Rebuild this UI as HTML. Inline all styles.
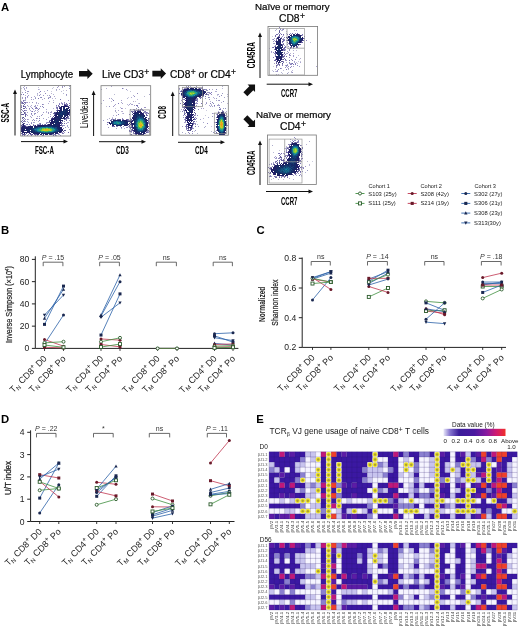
<!DOCTYPE html>
<html><head><meta charset="utf-8"><style>
html,body{margin:0;padding:0;background:#fff;width:520px;height:628px;overflow:hidden}
svg{will-change:transform}
.hv{stroke:#111;stroke-width:0.22px}
svg text{font-family:"Liberation Sans",sans-serif}
</style></head><body>
<svg width="520" height="628" viewBox="0 0 520 628" style="display:block" font-family='"Liberation Sans", sans-serif'>
<rect width="520" height="628" fill="#fff"/>
<text x="1.00" y="11.00" font-size="11.3" text-anchor="start" font-weight="bold" >A</text>
<text x="20.70" y="77.60" font-size="10.2" text-anchor="start" textLength="52.4" lengthAdjust="spacingAndGlyphs" class="hv">Lymphocyte</text>
<polygon points="-6.85,-2.80 1.55,-2.80 1.55,-5.30 6.85,0.00 1.55,5.30 1.55,2.80 -6.85,2.80" fill="#111" transform="translate(85.85,73.7) rotate(0)"/>
<text class="hv" x="102" y="77.6" font-size="10.2" >Live CD3<tspan font-size="8.5" dx="0.3" dy="-2.8">+</tspan></text>
<polygon points="-6.85,-2.80 1.55,-2.80 1.55,-5.30 6.85,0.00 1.55,5.30 1.55,2.80 -6.85,2.80" fill="#111" transform="translate(159.2,73.6) rotate(0)"/>
<text class="hv" x="170" y="77.6" font-size="10.2">CD8<tspan font-size="8.5" dx="0.3" dy="-2.8">+</tspan><tspan dy="2.8"> or CD4</tspan><tspan font-size="8.5" dx="0.3" dy="-2.8">+</tspan></text>
<text x="255.00" y="9.80" font-size="9.9" text-anchor="start" textLength="74.6" lengthAdjust="spacingAndGlyphs" class="hv">Naïve or memory</text>
<text class="hv" x="279" y="21.5" font-size="10.3">CD8<tspan font-size="8.5" dx="0.4" dy="-2.8">+</tspan></text>
<text x="256.00" y="117.80" font-size="9.9" text-anchor="start" textLength="75" lengthAdjust="spacingAndGlyphs" class="hv">Naïve or memory</text>
<text class="hv" x="280" y="129.6" font-size="10.3">CD4<tspan font-size="8.5" dx="0.4" dy="-2.8">+</tspan></text>
<polygon points="-6.85,-2.80 1.55,-2.80 1.55,-5.30 6.85,0.00 1.55,5.30 1.55,2.80 -6.85,2.80" fill="#111" transform="translate(250.2,89.4) rotate(-45)"/>
<polygon points="-6.85,-2.80 1.55,-2.80 1.55,-5.30 6.85,0.00 1.55,5.30 1.55,2.80 -6.85,2.80" fill="#111" transform="translate(250.2,122.1) rotate(45)"/>
<path fill="#8282b4" d="M24.2 86.0h0.8v0.8h-0.8zM64.2 86.1h0.8v0.8h-0.8zM69.2 88.1h0.8v0.8h-0.8zM56.0 90.0h0.8v0.8h-0.8zM27.1 91.1h0.8v0.8h-0.8zM63.2 93.2h0.8v0.8h-0.8zM53.0 94.0h0.8v0.8h-0.8zM25.2 95.0h0.8v0.8h-0.8zM49.1 95.1h0.8v0.8h-0.8zM50.1 97.1h0.8v0.8h-0.8zM55.1 98.0h0.8v0.8h-0.8zM53.1 100.0h0.8v0.8h-0.8zM32.1 102.1h0.8v0.8h-0.8zM36.2 103.0h0.8v0.8h-0.8zM39.1 108.1h0.8v0.8h-0.8zM46.0 111.0h0.8v0.8h-0.8zM50.2 112.1h0.8v0.8h-0.8zM34.1 113.1h0.8v0.8h-0.8zM31.1 117.1h0.8v0.8h-0.8zM33.1 119.1h0.8v0.8h-0.8zM32.1 120.1h0.8v0.8h-0.8zM60.1 135.1h0.8v0.8h-0.8z"/>
<path fill="#8c82b4" d="M58.1 86.1h0.8v0.8h-0.8zM26.1 87.1h0.8v0.8h-0.8zM66.1 90.0h0.8v0.8h-0.8zM51.0 93.2h0.8v0.8h-0.8zM31.1 97.1h0.8v0.8h-0.8zM44.1 98.1h0.8v0.8h-0.8zM27.1 102.1h0.8v0.8h-0.8zM53.2 102.1h0.8v0.8h-0.8zM56.1 106.0h0.8v0.8h-0.8zM46.2 112.0h0.8v0.8h-0.8zM27.2 115.1h0.8v0.8h-0.8zM38.1 121.0h0.8v0.8h-0.8z"/>
<path fill="#8278b4" d="M62.2 86.1h0.8v0.8h-0.8zM62.1 87.1h0.8v0.8h-0.8zM59.1 89.2h0.8v0.8h-0.8zM28.1 91.1h0.8v0.8h-0.8zM66.1 94.1h0.8v0.8h-0.8zM43.0 95.1h0.8v0.8h-0.8zM68.1 100.1h0.8v0.8h-0.8zM29.2 102.0h0.8v0.8h-0.8zM38.0 103.2h0.8v0.8h-0.8zM48.1 103.0h0.8v0.8h-0.8zM30.1 106.0h0.8v0.8h-0.8zM26.1 110.1h0.8v0.8h-0.8zM51.0 111.0h0.8v0.8h-0.8zM48.0 112.1h0.8v0.8h-0.8zM69.1 118.0h0.8v0.8h-0.8zM27.2 119.1h0.8v0.8h-0.8zM28.1 119.0h0.8v0.8h-0.8zM46.0 119.1h0.8v0.8h-0.8zM67.2 122.0h0.8v0.8h-0.8z"/>
<path fill="#7878b4" d="M69.1 86.0h0.8v0.8h-0.8zM37.0 93.2h0.8v0.8h-0.8zM40.0 97.1h0.8v0.8h-0.8zM35.1 98.1h0.8v0.8h-0.8zM33.0 99.2h0.8v0.8h-0.8zM31.1 105.2h0.8v0.8h-0.8zM40.0 106.1h0.8v0.8h-0.8zM33.1 109.0h0.8v0.8h-0.8zM30.2 110.2h0.8v0.8h-0.8zM32.1 115.1h0.8v0.8h-0.8zM41.1 115.1h0.8v0.8h-0.8zM63.0 125.1h0.8v0.8h-0.8z"/>
<path fill="#6e64aa" d="M23.2 87.0h0.8v0.8h-0.8zM25.2 90.2h0.8v0.8h-0.8zM22.1 92.2h0.8v0.8h-0.8zM27.1 93.2h0.8v0.8h-0.8zM21.1 94.1h0.8v0.8h-0.8zM25.0 97.1h0.8v0.8h-0.8zM22.0 98.0h0.8v0.8h-0.8zM31.2 99.2h0.8v0.8h-0.8zM36.1 102.0h0.8v0.8h-0.8zM61.1 102.0h0.8v0.8h-0.8zM64.1 102.1h0.8v0.8h-0.8zM21.2 103.2h0.8v0.8h-0.8zM59.0 103.1h0.8v0.8h-0.8zM42.2 104.1h0.8v0.8h-0.8zM43.0 104.0h0.8v0.8h-0.8zM43.1 107.1h0.8v0.8h-0.8zM29.2 108.1h0.8v0.8h-0.8zM56.1 108.0h0.8v0.8h-0.8zM27.1 112.2h0.8v0.8h-0.8zM48.0 113.0h0.8v0.8h-0.8zM42.1 114.2h0.8v0.8h-0.8zM30.2 116.2h0.8v0.8h-0.8zM37.2 116.0h0.8v0.8h-0.8zM39.1 118.1h0.8v0.8h-0.8zM27.2 121.0h0.8v0.8h-0.8zM34.2 122.2h0.8v0.8h-0.8zM46.2 122.2h0.8v0.8h-0.8zM63.1 133.1h0.8v0.8h-0.8z"/>
<path fill="#a0a0c8" d="M38.1 87.0h0.8v0.8h-0.8zM21.1 88.2h0.8v0.8h-0.8zM47.1 95.1h0.8v0.8h-0.8zM53.1 108.1h0.8v0.8h-0.8zM37.1 110.1h0.8v0.8h-0.8z"/>
<path fill="#aaaac8" d="M53.0 87.2h0.8v0.8h-0.8zM63.1 90.2h0.8v0.8h-0.8zM51.0 91.2h0.8v0.8h-0.8zM61.2 91.1h0.8v0.8h-0.8z"/>
<path fill="#5a50a0" d="M57.1 87.0h0.8v0.8h-0.8zM23.2 94.1h0.8v0.8h-0.8zM38.0 98.1h0.8v0.8h-0.8zM60.0 99.1h0.8v0.8h-0.8zM23.1 100.1h0.8v0.8h-0.8zM25.1 102.1h0.8v0.8h-0.8zM64.1 103.0h0.8v0.8h-0.8zM21.0 105.0h0.8v0.8h-0.8zM35.0 105.2h0.8v0.8h-0.8zM21.0 106.2h0.8v0.8h-0.8zM34.2 106.0h0.8v0.8h-0.8zM56.1 107.1h0.8v0.8h-0.8zM32.2 108.1h0.8v0.8h-0.8zM38.0 109.1h0.8v0.8h-0.8zM25.0 110.2h0.8v0.8h-0.8zM32.2 111.1h0.8v0.8h-0.8zM21.1 112.1h0.8v0.8h-0.8zM49.2 120.2h0.8v0.8h-0.8zM27.0 124.1h0.8v0.8h-0.8zM42.0 124.1h0.8v0.8h-0.8zM65.1 127.0h0.8v0.8h-0.8zM69.1 129.0h0.8v0.8h-0.8zM64.1 132.0h0.8v0.8h-0.8zM62.1 133.1h0.8v0.8h-0.8zM25.1 134.1h0.8v0.8h-0.8zM59.1 134.2h0.8v0.8h-0.8zM37.2 135.0h0.8v0.8h-0.8zM55.2 135.1h0.8v0.8h-0.8z"/>
<path fill="#645aaa" d="M24.1 88.0h0.8v0.8h-0.8zM40.1 91.1h0.8v0.8h-0.8zM28.1 95.0h0.8v0.8h-0.8zM22.2 97.0h0.8v0.8h-0.8zM21.2 101.2h0.8v0.8h-0.8zM23.0 101.0h0.8v0.8h-0.8zM61.1 103.2h0.8v0.8h-0.8zM59.1 104.1h0.8v0.8h-0.8zM56.1 105.1h0.8v0.8h-0.8zM24.1 106.1h0.8v0.8h-0.8zM31.1 107.0h0.8v0.8h-0.8zM26.2 108.0h0.8v0.8h-0.8zM35.1 108.1h0.8v0.8h-0.8zM43.1 112.2h0.8v0.8h-0.8zM51.0 112.0h0.8v0.8h-0.8zM31.0 113.1h0.8v0.8h-0.8zM31.0 114.2h0.8v0.8h-0.8zM50.1 114.2h0.8v0.8h-0.8zM50.1 116.0h0.8v0.8h-0.8zM36.1 118.1h0.8v0.8h-0.8zM31.2 122.0h0.8v0.8h-0.8zM26.1 124.2h0.8v0.8h-0.8zM27.1 135.1h0.8v0.8h-0.8z"/>
<path fill="#8c8cbe" d="M26.1 88.2h0.8v0.8h-0.8zM47.1 90.1h0.8v0.8h-0.8zM37.0 95.0h0.8v0.8h-0.8zM25.1 99.2h0.8v0.8h-0.8zM28.0 106.0h0.8v0.8h-0.8zM35.1 110.1h0.8v0.8h-0.8zM34.0 114.1h0.8v0.8h-0.8zM39.1 116.1h0.8v0.8h-0.8zM48.2 117.2h0.8v0.8h-0.8zM43.0 118.1h0.8v0.8h-0.8zM33.1 122.1h0.8v0.8h-0.8zM64.2 125.1h0.8v0.8h-0.8zM67.0 125.1h0.8v0.8h-0.8z"/>
<path fill="#9696be" d="M52.2 88.2h0.8v0.8h-0.8zM35.1 106.1h0.8v0.8h-0.8zM35.1 107.2h0.8v0.8h-0.8zM68.1 122.1h0.8v0.8h-0.8zM67.2 126.1h0.8v0.8h-0.8zM68.2 127.1h0.8v0.8h-0.8z"/>
<path fill="#786eb4" d="M24.1 89.0h0.8v0.8h-0.8zM38.1 89.2h0.8v0.8h-0.8zM39.1 92.2h0.8v0.8h-0.8zM27.0 96.1h0.8v0.8h-0.8zM34.2 96.2h0.8v0.8h-0.8zM27.2 97.0h0.8v0.8h-0.8zM25.0 98.1h0.8v0.8h-0.8zM42.1 99.0h0.8v0.8h-0.8zM49.1 101.0h0.8v0.8h-0.8zM26.2 102.0h0.8v0.8h-0.8zM37.1 105.0h0.8v0.8h-0.8zM36.2 108.1h0.8v0.8h-0.8zM37.0 108.1h0.8v0.8h-0.8zM46.1 109.2h0.8v0.8h-0.8zM31.2 111.2h0.8v0.8h-0.8zM34.1 111.2h0.8v0.8h-0.8zM35.2 113.1h0.8v0.8h-0.8zM26.1 114.1h0.8v0.8h-0.8zM25.1 119.1h0.8v0.8h-0.8zM34.1 120.1h0.8v0.8h-0.8zM66.1 123.1h0.8v0.8h-0.8zM29.0 124.1h0.8v0.8h-0.8z"/>
<path fill="#a0a0be" d="M39.1 89.0h0.8v0.8h-0.8zM37.1 94.2h0.8v0.8h-0.8z"/>
<path fill="#968cbe" d="M56.0 89.1h0.8v0.8h-0.8zM44.0 91.0h0.8v0.8h-0.8zM40.1 94.1h0.8v0.8h-0.8zM54.0 96.1h0.8v0.8h-0.8zM48.1 97.2h0.8v0.8h-0.8zM49.1 97.1h0.8v0.8h-0.8zM29.1 109.2h0.8v0.8h-0.8zM38.1 111.2h0.8v0.8h-0.8z"/>
<path fill="#6e6eaa" d="M25.1 92.1h0.8v0.8h-0.8zM66.1 95.2h0.8v0.8h-0.8zM35.0 97.0h0.8v0.8h-0.8zM24.1 100.2h0.8v0.8h-0.8zM25.1 100.2h0.8v0.8h-0.8zM42.0 106.1h0.8v0.8h-0.8zM37.1 118.2h0.8v0.8h-0.8zM28.0 122.2h0.8v0.8h-0.8z"/>
<path fill="#786eaa" d="M45.0 93.1h0.8v0.8h-0.8zM39.0 95.1h0.8v0.8h-0.8zM50.1 96.1h0.8v0.8h-0.8zM37.1 112.0h0.8v0.8h-0.8zM56.2 135.2h0.8v0.8h-0.8z"/>
<path fill="#6464aa" d="M41.0 97.1h0.8v0.8h-0.8zM48.2 98.1h0.8v0.8h-0.8zM39.0 120.1h0.8v0.8h-0.8zM31.1 123.1h0.8v0.8h-0.8z"/>
<path fill="#8c82be" d="M52.1 98.2h0.8v0.8h-0.8zM27.1 105.1h0.8v0.8h-0.8zM36.2 120.0h0.8v0.8h-0.8zM69.1 120.1h0.8v0.8h-0.8z"/>
<path fill="#504696" d="M21.2 102.0h0.8v0.8h-0.8zM24.2 102.1h0.8v0.8h-0.8zM22.1 103.1h0.8v0.8h-0.8zM25.1 103.2h0.8v0.8h-0.8zM66.1 103.1h0.8v0.8h-0.8zM69.1 103.2h0.8v0.8h-0.8zM24.1 104.1h0.8v0.8h-0.8zM67.0 104.1h0.8v0.8h-0.8zM58.1 105.1h0.8v0.8h-0.8zM21.1 107.1h0.8v0.8h-0.8zM25.1 107.1h0.8v0.8h-0.8zM36.1 107.1h0.8v0.8h-0.8zM57.1 107.1h0.8v0.8h-0.8zM22.0 110.0h0.8v0.8h-0.8zM25.1 112.0h0.8v0.8h-0.8zM25.1 113.0h0.8v0.8h-0.8zM53.2 113.1h0.8v0.8h-0.8zM69.1 115.1h0.8v0.8h-0.8zM22.1 118.1h0.8v0.8h-0.8zM66.1 118.1h0.8v0.8h-0.8zM66.1 120.1h0.8v0.8h-0.8zM25.1 121.2h0.8v0.8h-0.8zM48.2 122.2h0.8v0.8h-0.8zM39.1 123.2h0.8v0.8h-0.8zM38.1 124.2h0.8v0.8h-0.8zM39.1 124.2h0.8v0.8h-0.8zM62.2 132.0h0.8v0.8h-0.8zM22.0 134.1h0.8v0.8h-0.8zM31.1 134.1h0.8v0.8h-0.8zM55.2 134.1h0.8v0.8h-0.8zM58.1 134.2h0.8v0.8h-0.8zM31.2 135.1h0.8v0.8h-0.8zM35.2 135.0h0.8v0.8h-0.8z"/>
<path fill="#3c3282" d="M22.2 102.1h0.8v0.8h-0.8zM66.1 104.0h0.8v0.8h-0.8zM64.0 105.0h1.0v1.0h-1.0zM59.1 107.1h0.8v0.8h-0.8zM24.0 110.1h0.8v0.8h-0.8zM56.1 110.0h0.8v0.8h-0.8zM23.0 111.1h0.8v0.8h-0.8zM24.1 112.1h0.8v0.8h-0.8zM22.2 114.1h0.8v0.8h-0.8zM23.2 114.1h0.8v0.8h-0.8zM50.1 120.1h0.8v0.8h-0.8zM24.1 121.0h0.8v0.8h-0.8zM22.1 122.1h0.8v0.8h-0.8zM40.2 124.1h0.8v0.8h-0.8zM44.0 124.2h0.8v0.8h-0.8zM45.2 124.1h0.8v0.8h-0.8zM24.0 125.0h1.0v1.0h-1.0zM37.0 125.0h1.0v1.0h-1.0zM62.0 125.0h0.8v0.8h-0.8zM21.1 133.1h0.8v0.8h-0.8zM35.1 134.1h0.8v0.8h-0.8zM53.1 134.2h0.8v0.8h-0.8z"/>
<path fill="#3c3c82" d="M23.1 103.1h0.8v0.8h-0.8zM25.2 106.2h0.8v0.8h-0.8zM23.1 108.1h0.8v0.8h-0.8zM24.1 113.1h0.8v0.8h-0.8zM21.2 114.1h0.8v0.8h-0.8zM67.0 116.0h1.0v1.0h-1.0zM24.1 118.0h0.8v0.8h-0.8zM68.2 118.1h0.8v0.8h-0.8zM64.2 121.0h0.8v0.8h-0.8zM46.0 123.0h0.8v0.8h-0.8zM62.1 123.1h0.8v0.8h-0.8zM37.1 124.2h0.8v0.8h-0.8zM61.2 125.1h0.8v0.8h-0.8zM61.1 132.0h0.8v0.8h-0.8zM49.0 134.0h1.0v1.0h-1.0zM52.2 134.2h0.8v0.8h-0.8zM22.1 135.2h0.8v0.8h-0.8z"/>
<path fill="#463c8c" d="M62.1 103.0h0.8v0.8h-0.8zM66.0 105.0h1.0v1.0h-1.0zM69.0 105.1h0.8v0.8h-0.8zM58.1 106.2h0.8v0.8h-0.8zM69.0 107.1h0.8v0.8h-0.8zM24.0 108.1h0.8v0.8h-0.8zM57.2 108.1h0.8v0.8h-0.8zM21.2 109.1h0.8v0.8h-0.8zM57.2 109.0h0.8v0.8h-0.8zM25.1 114.1h0.8v0.8h-0.8zM25.1 115.1h0.8v0.8h-0.8zM52.1 117.1h0.8v0.8h-0.8zM68.0 117.0h0.8v0.8h-0.8zM65.0 118.0h1.0v1.0h-1.0zM23.1 119.2h0.8v0.8h-0.8zM65.1 119.0h0.8v0.8h-0.8zM66.1 119.2h0.8v0.8h-0.8zM21.0 121.1h0.8v0.8h-0.8zM61.0 122.0h1.0v1.0h-1.0zM64.1 123.1h0.8v0.8h-0.8zM33.2 124.0h0.8v0.8h-0.8zM25.1 125.2h0.8v0.8h-0.8zM30.2 125.2h0.8v0.8h-0.8zM62.2 126.0h0.8v0.8h-0.8zM68.1 132.1h0.8v0.8h-0.8zM29.0 133.0h1.0v1.0h-1.0zM28.1 134.2h0.8v0.8h-0.8zM30.0 134.1h0.8v0.8h-0.8zM36.0 134.1h0.8v0.8h-0.8zM54.1 134.2h0.8v0.8h-0.8zM24.2 135.1h0.8v0.8h-0.8zM42.2 135.2h0.8v0.8h-0.8zM43.0 135.2h0.8v0.8h-0.8z"/>
<path fill="#323278" d="M62.1 104.0h0.8v0.8h-0.8zM23.1 105.0h0.8v0.8h-0.8zM55.1 112.1h0.8v0.8h-0.8zM69.1 113.1h0.8v0.8h-0.8zM69.2 114.1h0.8v0.8h-0.8zM53.0 116.1h0.8v0.8h-0.8zM68.2 116.0h0.8v0.8h-0.8zM22.1 117.2h0.8v0.8h-0.8zM22.1 120.0h0.8v0.8h-0.8zM60.0 123.0h1.0v1.0h-1.0zM65.0 130.1h0.8v0.8h-0.8zM26.1 133.1h0.8v0.8h-0.8zM24.2 134.1h0.8v0.8h-0.8z"/>
<path fill="#281e6e" d="M64.1 104.1h0.8v0.8h-0.8zM65.1 104.0h0.8v0.8h-0.8zM67.2 105.2h0.8v0.8h-0.8zM23.0 106.1h0.8v0.8h-0.8zM68.0 112.0h1.0v1.0h-1.0zM54.0 115.0h1.0v1.0h-1.0zM66.0 117.0h1.0v1.0h-1.0zM67.0 117.1h0.8v0.8h-0.8zM51.0 120.0h1.0v1.0h-1.0zM23.2 121.2h0.8v0.8h-0.8zM61.2 123.2h0.8v0.8h-0.8zM22.1 124.1h0.8v0.8h-0.8zM48.0 124.0h1.0v1.0h-1.0zM23.0 126.0h1.0v1.0h-1.0zM63.1 128.0h0.8v0.8h-0.8zM21.0 129.0h1.0v1.0h-1.0zM62.0 129.0h1.0v1.0h-1.0zM63.1 131.1h0.8v0.8h-0.8zM60.0 132.0h1.0v1.0h-1.0zM22.1 133.1h0.8v0.8h-0.8zM23.1 134.1h0.8v0.8h-0.8zM32.1 134.1h0.8v0.8h-0.8zM37.0 134.0h1.0v1.0h-1.0zM43.0 134.0h1.0v1.0h-1.0zM46.0 134.0h1.0v1.0h-1.0z"/>
<path fill="#28286e" d="M65.0 105.0h1.0v1.0h-1.0zM68.2 106.1h0.8v0.8h-0.8zM60.0 107.0h1.0v1.0h-1.0zM69.0 109.0h1.0v1.0h-1.0zM56.0 112.0h1.0v1.0h-1.0zM54.1 113.1h0.8v0.8h-0.8zM55.0 114.0h1.0v1.0h-1.0zM64.1 119.1h0.8v0.8h-0.8zM62.0 121.2h0.8v0.8h-0.8zM47.1 124.2h0.8v0.8h-0.8zM33.1 125.1h0.8v0.8h-0.8zM21.2 126.0h0.8v0.8h-0.8zM28.0 126.0h1.0v1.0h-1.0zM25.0 127.0h1.0v1.0h-1.0zM29.0 127.0h1.0v1.0h-1.0zM21.0 130.0h1.0v1.0h-1.0zM64.1 130.1h0.8v0.8h-0.8zM26.0 132.0h1.0v1.0h-1.0zM28.0 132.0h1.0v1.0h-1.0zM56.0 133.0h1.0v1.0h-1.0zM57.0 133.0h1.0v1.0h-1.0zM38.0 134.0h1.0v1.0h-1.0zM40.0 134.0h1.0v1.0h-1.0z"/>
<path fill="#322878" d="M59.2 106.1h0.8v0.8h-0.8zM59.0 108.0h1.0v1.0h-1.0zM55.0 113.0h1.0v1.0h-1.0zM51.0 118.1h0.8v0.8h-0.8zM52.0 118.0h1.0v1.0h-1.0zM24.2 120.2h0.8v0.8h-0.8zM24.1 123.1h0.8v0.8h-0.8zM21.2 125.1h0.8v0.8h-0.8zM22.1 125.2h0.8v0.8h-0.8zM34.1 125.0h0.8v0.8h-0.8zM35.0 125.0h1.0v1.0h-1.0zM60.0 125.0h1.0v1.0h-1.0zM25.0 126.0h1.0v1.0h-1.0zM21.0 127.0h1.0v1.0h-1.0zM30.0 133.0h1.0v1.0h-1.0zM58.1 133.2h0.8v0.8h-0.8zM34.2 134.1h0.8v0.8h-0.8zM51.0 134.0h1.0v1.0h-1.0z"/>
<path fill="#1e1e64" d="M61.0 106.0h1.0v1.0h-1.0zM62.0 106.0h1.0v1.0h-1.0zM63.0 106.0h1.0v1.0h-1.0zM64.0 106.0h1.0v1.0h-1.0zM65.0 106.0h1.0v1.0h-1.0zM66.0 106.0h1.0v1.0h-1.0zM67.0 106.0h1.0v1.0h-1.0zM61.0 107.0h1.0v1.0h-1.0zM63.0 107.0h1.0v1.0h-1.0zM64.0 107.0h1.0v1.0h-1.0zM68.0 107.0h1.0v1.0h-1.0zM60.0 108.0h1.0v1.0h-1.0zM61.0 108.0h1.0v1.0h-1.0zM68.0 108.0h1.0v1.0h-1.0zM60.0 109.0h1.0v1.0h-1.0zM58.0 110.0h1.0v1.0h-1.0zM59.0 110.0h1.0v1.0h-1.0zM60.0 110.0h1.0v1.0h-1.0zM68.0 110.0h1.0v1.0h-1.0zM69.0 110.0h1.0v1.0h-1.0zM57.0 111.0h1.0v1.0h-1.0zM59.0 111.0h1.0v1.0h-1.0zM69.0 111.0h1.0v1.0h-1.0zM54.1 112.1h0.8v0.8h-0.8zM57.0 112.0h1.0v1.0h-1.0zM67.0 112.0h1.0v1.0h-1.0zM69.0 112.0h1.0v1.0h-1.0zM56.0 113.0h1.0v1.0h-1.0zM67.0 113.0h1.0v1.0h-1.0zM68.0 113.0h1.0v1.0h-1.0zM56.0 114.0h1.0v1.0h-1.0zM67.0 114.0h1.0v1.0h-1.0zM68.0 114.0h1.0v1.0h-1.0zM55.0 115.0h1.0v1.0h-1.0zM56.0 115.0h1.0v1.0h-1.0zM58.0 115.0h1.0v1.0h-1.0zM65.0 115.0h1.0v1.0h-1.0zM66.0 115.0h1.0v1.0h-1.0zM67.0 115.0h1.0v1.0h-1.0zM55.0 116.0h1.0v1.0h-1.0zM56.0 116.0h1.0v1.0h-1.0zM57.0 116.0h1.0v1.0h-1.0zM65.0 116.0h1.0v1.0h-1.0zM23.0 117.1h0.8v0.8h-0.8zM54.0 117.0h1.0v1.0h-1.0zM55.0 117.0h1.0v1.0h-1.0zM57.0 117.0h1.0v1.0h-1.0zM63.0 117.0h1.0v1.0h-1.0zM64.0 117.0h1.0v1.0h-1.0zM53.0 118.0h1.0v1.0h-1.0zM54.0 118.0h1.0v1.0h-1.0zM55.0 118.0h1.0v1.0h-1.0zM58.0 118.0h1.0v1.0h-1.0zM61.0 118.0h1.0v1.0h-1.0zM62.0 118.0h1.0v1.0h-1.0zM64.0 118.0h1.0v1.0h-1.0zM51.0 119.0h1.0v1.0h-1.0zM52.0 119.0h1.0v1.0h-1.0zM53.0 119.0h1.0v1.0h-1.0zM54.0 119.0h1.0v1.0h-1.0zM56.0 119.0h1.0v1.0h-1.0zM59.0 119.0h1.0v1.0h-1.0zM52.0 120.0h1.0v1.0h-1.0zM54.0 120.0h1.0v1.0h-1.0zM60.0 120.0h1.0v1.0h-1.0zM62.0 120.0h1.0v1.0h-1.0zM49.1 121.1h0.8v0.8h-0.8zM51.0 121.0h1.0v1.0h-1.0zM52.0 121.0h1.0v1.0h-1.0zM54.0 121.0h1.0v1.0h-1.0zM60.0 121.0h1.0v1.0h-1.0zM49.2 122.2h0.8v0.8h-0.8zM50.0 122.0h1.0v1.0h-1.0zM51.0 122.0h1.0v1.0h-1.0zM52.0 122.0h1.0v1.0h-1.0zM53.0 122.0h1.0v1.0h-1.0zM58.0 122.0h1.0v1.0h-1.0zM59.0 122.0h1.0v1.0h-1.0zM60.0 122.0h1.0v1.0h-1.0zM23.2 123.1h0.8v0.8h-0.8zM50.0 123.0h1.0v1.0h-1.0zM51.0 123.0h1.0v1.0h-1.0zM52.0 123.0h1.0v1.0h-1.0zM57.0 123.0h1.0v1.0h-1.0zM59.0 123.0h1.0v1.0h-1.0zM23.0 124.0h1.0v1.0h-1.0zM49.0 124.0h1.0v1.0h-1.0zM50.0 124.0h1.0v1.0h-1.0zM57.0 124.0h1.0v1.0h-1.0zM58.0 124.0h1.0v1.0h-1.0zM59.0 124.0h1.0v1.0h-1.0zM23.0 125.0h1.0v1.0h-1.0zM38.0 125.0h1.0v1.0h-1.0zM39.0 125.0h1.0v1.0h-1.0zM40.0 125.0h1.0v1.0h-1.0zM41.0 125.0h1.0v1.0h-1.0zM42.0 125.0h1.0v1.0h-1.0zM43.0 125.0h1.0v1.0h-1.0zM44.0 125.0h1.0v1.0h-1.0zM46.0 125.0h1.0v1.0h-1.0zM47.0 125.0h1.0v1.0h-1.0zM48.0 125.0h1.0v1.0h-1.0zM49.0 125.0h1.0v1.0h-1.0zM51.0 125.0h1.0v1.0h-1.0zM57.0 125.0h1.0v1.0h-1.0zM58.0 125.0h1.0v1.0h-1.0zM59.0 125.0h1.0v1.0h-1.0zM22.0 126.0h1.0v1.0h-1.0zM24.0 126.0h1.0v1.0h-1.0zM26.2 126.2h0.8v0.8h-0.8zM27.2 126.0h0.8v0.8h-0.8zM29.0 126.0h1.0v1.0h-1.0zM30.0 126.0h1.0v1.0h-1.0zM31.0 126.0h1.0v1.0h-1.0zM32.0 126.0h1.0v1.0h-1.0zM34.0 126.0h1.0v1.0h-1.0zM35.0 126.0h1.0v1.0h-1.0zM36.0 126.0h1.0v1.0h-1.0zM39.0 126.0h1.0v1.0h-1.0zM58.0 126.0h1.0v1.0h-1.0zM59.0 126.0h1.0v1.0h-1.0zM22.0 127.0h1.0v1.0h-1.0zM24.0 127.0h1.0v1.0h-1.0zM26.0 127.0h1.0v1.0h-1.0zM27.0 127.0h1.0v1.0h-1.0zM28.0 127.0h1.0v1.0h-1.0zM30.0 127.0h1.0v1.0h-1.0zM31.0 127.0h1.0v1.0h-1.0zM59.0 127.0h1.0v1.0h-1.0zM60.0 127.0h1.0v1.0h-1.0zM61.0 127.0h1.0v1.0h-1.0zM21.0 128.0h1.0v1.0h-1.0zM22.0 128.0h1.0v1.0h-1.0zM23.0 128.0h1.0v1.0h-1.0zM25.0 128.0h1.0v1.0h-1.0zM26.0 128.0h1.0v1.0h-1.0zM27.0 128.0h1.0v1.0h-1.0zM28.0 128.0h1.0v1.0h-1.0zM60.0 128.0h1.0v1.0h-1.0zM61.0 128.0h1.0v1.0h-1.0zM22.0 129.0h1.0v1.0h-1.0zM24.0 129.0h1.0v1.0h-1.0zM27.0 129.0h1.0v1.0h-1.0zM61.0 129.0h1.0v1.0h-1.0zM22.0 130.0h1.0v1.0h-1.0zM23.0 130.0h1.0v1.0h-1.0zM24.0 130.0h1.0v1.0h-1.0zM61.0 130.0h1.0v1.0h-1.0zM62.0 130.0h1.0v1.0h-1.0zM21.0 131.0h1.0v1.0h-1.0zM22.0 131.0h1.0v1.0h-1.0zM23.0 131.0h1.0v1.0h-1.0zM27.0 131.0h1.0v1.0h-1.0zM59.0 131.0h1.0v1.0h-1.0zM60.0 131.0h1.0v1.0h-1.0zM61.0 131.0h1.0v1.0h-1.0zM22.0 132.0h1.0v1.0h-1.0zM23.0 132.0h1.0v1.0h-1.0zM24.0 132.0h1.0v1.0h-1.0zM25.0 132.0h1.0v1.0h-1.0zM27.0 132.0h1.0v1.0h-1.0zM29.0 132.0h1.0v1.0h-1.0zM59.0 132.0h1.0v1.0h-1.0zM24.0 133.0h1.0v1.0h-1.0zM33.0 133.0h1.0v1.0h-1.0zM34.0 133.0h1.0v1.0h-1.0zM35.0 133.0h1.0v1.0h-1.0zM36.0 133.0h1.0v1.0h-1.0zM38.0 133.0h1.0v1.0h-1.0zM51.0 133.0h1.0v1.0h-1.0zM55.0 133.0h1.0v1.0h-1.0zM41.0 134.0h1.0v1.0h-1.0zM45.0 134.0h1.0v1.0h-1.0zM47.0 134.0h1.0v1.0h-1.0zM50.0 134.0h1.0v1.0h-1.0z"/>
<path fill="#142864" d="M63.0 108.0h1.0v1.0h-1.0zM64.0 108.0h1.0v1.0h-1.0zM63.0 109.0h1.0v1.0h-1.0zM64.0 109.0h1.0v1.0h-1.0zM66.0 109.0h1.0v1.0h-1.0zM67.0 109.0h1.0v1.0h-1.0zM63.0 110.0h1.0v1.0h-1.0zM66.0 110.0h1.0v1.0h-1.0zM61.0 111.0h1.0v1.0h-1.0zM63.0 111.0h1.0v1.0h-1.0zM65.0 111.0h1.0v1.0h-1.0zM66.0 111.0h1.0v1.0h-1.0zM58.0 112.0h1.0v1.0h-1.0zM59.0 112.0h1.0v1.0h-1.0zM60.0 112.0h1.0v1.0h-1.0zM64.0 112.0h1.0v1.0h-1.0zM65.0 112.0h1.0v1.0h-1.0zM66.0 112.0h1.0v1.0h-1.0zM59.0 113.0h1.0v1.0h-1.0zM62.0 113.0h1.0v1.0h-1.0zM63.0 113.0h1.0v1.0h-1.0zM65.0 113.0h1.0v1.0h-1.0zM66.0 113.0h1.0v1.0h-1.0zM57.0 114.0h1.0v1.0h-1.0zM58.0 114.0h1.0v1.0h-1.0zM59.0 114.0h1.0v1.0h-1.0zM63.0 114.0h1.0v1.0h-1.0zM64.0 114.0h1.0v1.0h-1.0zM65.0 114.0h1.0v1.0h-1.0zM59.0 115.0h1.0v1.0h-1.0zM60.0 115.0h1.0v1.0h-1.0zM61.0 115.0h1.0v1.0h-1.0zM62.0 115.0h1.0v1.0h-1.0zM64.0 115.0h1.0v1.0h-1.0zM58.0 116.0h1.0v1.0h-1.0zM59.0 116.0h1.0v1.0h-1.0zM60.0 116.0h1.0v1.0h-1.0zM64.0 116.0h1.0v1.0h-1.0zM56.0 117.0h1.0v1.0h-1.0zM58.0 117.0h1.0v1.0h-1.0zM60.0 117.0h1.0v1.0h-1.0zM59.0 118.0h1.0v1.0h-1.0zM55.0 119.0h1.0v1.0h-1.0zM57.0 119.0h1.0v1.0h-1.0zM55.0 120.0h1.0v1.0h-1.0zM57.0 120.0h1.0v1.0h-1.0zM59.0 120.0h1.0v1.0h-1.0zM56.0 121.0h1.0v1.0h-1.0zM57.0 121.0h1.0v1.0h-1.0zM58.0 121.0h1.0v1.0h-1.0zM54.0 122.0h1.0v1.0h-1.0zM56.0 122.0h1.0v1.0h-1.0zM57.0 122.0h1.0v1.0h-1.0zM56.0 123.0h1.0v1.0h-1.0zM58.0 123.0h1.0v1.0h-1.0zM54.0 124.0h1.0v1.0h-1.0zM55.0 124.0h1.0v1.0h-1.0zM56.0 124.0h1.0v1.0h-1.0zM50.0 125.0h1.0v1.0h-1.0zM52.0 125.0h1.0v1.0h-1.0zM53.0 125.0h1.0v1.0h-1.0zM54.0 125.0h1.0v1.0h-1.0zM55.0 125.0h1.0v1.0h-1.0zM38.0 126.0h1.0v1.0h-1.0zM40.0 126.0h1.0v1.0h-1.0zM41.0 126.0h1.0v1.0h-1.0zM43.0 126.0h1.0v1.0h-1.0zM53.0 126.0h1.0v1.0h-1.0zM54.0 126.0h1.0v1.0h-1.0zM55.0 126.0h1.0v1.0h-1.0zM56.0 126.0h1.0v1.0h-1.0zM57.0 126.0h1.0v1.0h-1.0zM23.0 127.0h1.0v1.0h-1.0zM32.0 127.0h1.0v1.0h-1.0zM34.0 127.0h1.0v1.0h-1.0zM57.0 127.0h1.0v1.0h-1.0zM58.0 127.0h1.0v1.0h-1.0zM29.0 128.0h1.0v1.0h-1.0zM30.0 128.0h1.0v1.0h-1.0zM31.0 128.0h1.0v1.0h-1.0zM58.0 128.0h1.0v1.0h-1.0zM59.0 128.0h1.0v1.0h-1.0zM23.0 129.0h1.0v1.0h-1.0zM26.0 129.0h1.0v1.0h-1.0zM28.0 129.0h1.0v1.0h-1.0zM29.0 129.0h1.0v1.0h-1.0zM30.0 129.0h1.0v1.0h-1.0zM31.0 129.0h1.0v1.0h-1.0zM58.0 129.0h1.0v1.0h-1.0zM59.0 129.0h1.0v1.0h-1.0zM25.0 130.0h1.0v1.0h-1.0zM27.0 130.0h1.0v1.0h-1.0zM29.0 130.0h1.0v1.0h-1.0zM59.0 130.0h1.0v1.0h-1.0zM60.0 130.0h1.0v1.0h-1.0zM30.0 131.0h1.0v1.0h-1.0zM31.0 131.0h1.0v1.0h-1.0zM32.0 131.0h1.0v1.0h-1.0zM58.0 131.0h1.0v1.0h-1.0zM32.0 132.0h1.0v1.0h-1.0zM33.0 132.0h1.0v1.0h-1.0zM34.0 132.0h1.0v1.0h-1.0zM35.0 132.0h1.0v1.0h-1.0zM37.0 132.0h1.0v1.0h-1.0zM54.0 132.0h1.0v1.0h-1.0zM55.0 132.0h1.0v1.0h-1.0zM41.0 133.0h1.0v1.0h-1.0zM43.0 133.0h1.0v1.0h-1.0zM44.0 133.0h1.0v1.0h-1.0zM45.0 133.0h1.0v1.0h-1.0zM46.0 133.0h1.0v1.0h-1.0zM47.0 133.0h1.0v1.0h-1.0zM49.0 133.0h1.0v1.0h-1.0z"/>
<path fill="#1e2864" d="M66.0 108.0h1.0v1.0h-1.0zM67.0 108.0h1.0v1.0h-1.0zM61.0 109.0h1.0v1.0h-1.0zM65.0 109.0h1.0v1.0h-1.0zM61.0 110.0h1.0v1.0h-1.0zM65.0 110.0h1.0v1.0h-1.0zM67.0 110.0h1.0v1.0h-1.0zM60.0 111.0h1.0v1.0h-1.0zM67.0 111.0h1.0v1.0h-1.0zM57.0 113.0h1.0v1.0h-1.0zM58.0 113.0h1.0v1.0h-1.0zM66.0 114.0h1.0v1.0h-1.0zM61.0 116.0h1.0v1.0h-1.0zM62.0 116.0h1.0v1.0h-1.0zM61.0 117.0h1.0v1.0h-1.0zM56.0 118.0h1.0v1.0h-1.0zM57.0 118.0h1.0v1.0h-1.0zM60.0 118.0h1.0v1.0h-1.0zM63.0 118.0h1.0v1.0h-1.0zM58.0 119.0h1.0v1.0h-1.0zM60.0 119.0h1.0v1.0h-1.0zM56.0 120.0h1.0v1.0h-1.0zM58.0 120.0h1.0v1.0h-1.0zM61.0 120.0h1.0v1.0h-1.0zM53.0 121.0h1.0v1.0h-1.0zM55.0 122.0h1.0v1.0h-1.0zM53.0 123.0h1.0v1.0h-1.0zM55.0 123.0h1.0v1.0h-1.0zM51.0 124.0h1.0v1.0h-1.0zM53.0 124.0h1.0v1.0h-1.0zM45.0 125.0h1.0v1.0h-1.0zM56.0 125.0h1.0v1.0h-1.0zM37.0 126.0h1.0v1.0h-1.0zM24.0 128.0h1.0v1.0h-1.0zM60.0 129.0h1.0v1.0h-1.0zM26.0 130.0h1.0v1.0h-1.0zM28.0 130.0h1.0v1.0h-1.0zM28.0 131.0h1.0v1.0h-1.0zM29.0 131.0h1.0v1.0h-1.0zM31.0 132.0h1.0v1.0h-1.0zM56.0 132.0h1.0v1.0h-1.0zM57.0 132.0h1.0v1.0h-1.0zM37.0 133.0h1.0v1.0h-1.0zM39.0 133.0h1.0v1.0h-1.0zM42.0 133.0h1.0v1.0h-1.0zM50.0 133.0h1.0v1.0h-1.0zM52.0 133.0h1.0v1.0h-1.0zM53.0 133.0h1.0v1.0h-1.0z"/>
<path fill="#46468c" d="M57.0 110.0h1.0v1.0h-1.0zM54.2 114.0h0.8v0.8h-0.8zM25.0 116.1h0.8v0.8h-0.8zM67.2 118.0h0.8v0.8h-0.8zM47.1 122.2h0.8v0.8h-0.8zM61.1 124.1h0.8v0.8h-0.8zM53.1 135.1h0.8v0.8h-0.8z"/>
<path fill="#14326e" d="M64.0 110.0h1.0v1.0h-1.0zM62.0 111.0h1.0v1.0h-1.0zM61.0 112.0h1.0v1.0h-1.0zM62.0 112.0h1.0v1.0h-1.0zM63.0 112.0h1.0v1.0h-1.0zM60.0 113.0h1.0v1.0h-1.0zM61.0 113.0h1.0v1.0h-1.0zM64.0 113.0h1.0v1.0h-1.0zM62.0 114.0h1.0v1.0h-1.0zM59.0 117.0h1.0v1.0h-1.0zM52.0 126.0h1.0v1.0h-1.0zM36.0 127.0h1.0v1.0h-1.0zM32.0 129.0h1.0v1.0h-1.0zM34.0 131.0h1.0v1.0h-1.0zM57.0 131.0h1.0v1.0h-1.0zM53.0 132.0h1.0v1.0h-1.0z"/>
<path fill="#143c6e" d="M64.0 111.0h1.0v1.0h-1.0zM61.0 114.0h1.0v1.0h-1.0zM55.0 121.0h1.0v1.0h-1.0zM45.0 126.0h1.0v1.0h-1.0zM47.0 126.0h1.0v1.0h-1.0zM48.0 126.0h1.0v1.0h-1.0zM49.0 126.0h1.0v1.0h-1.0zM50.0 126.0h1.0v1.0h-1.0zM51.0 126.0h1.0v1.0h-1.0zM54.0 127.0h1.0v1.0h-1.0zM32.0 128.0h1.0v1.0h-1.0zM33.0 128.0h1.0v1.0h-1.0zM33.0 129.0h1.0v1.0h-1.0zM33.0 130.0h1.0v1.0h-1.0zM39.0 132.0h1.0v1.0h-1.0z"/>
<path fill="#143264" d="M60.0 114.0h1.0v1.0h-1.0zM42.0 126.0h1.0v1.0h-1.0zM44.0 126.0h1.0v1.0h-1.0zM35.0 127.0h1.0v1.0h-1.0zM57.0 128.0h1.0v1.0h-1.0zM31.0 130.0h1.0v1.0h-1.0zM32.0 130.0h1.0v1.0h-1.0zM33.0 131.0h1.0v1.0h-1.0zM36.0 132.0h1.0v1.0h-1.0zM48.0 133.0h1.0v1.0h-1.0z"/>
<path fill="#505096" d="M40.1 123.1h0.8v0.8h-0.8z"/>
<path fill="#143c78" d="M46.0 126.0h1.0v1.0h-1.0zM34.0 130.0h1.0v1.0h-1.0zM55.0 131.0h1.0v1.0h-1.0zM38.0 132.0h1.0v1.0h-1.0z"/>
<path fill="#144678" d="M37.0 127.0h1.0v1.0h-1.0zM55.0 127.0h1.0v1.0h-1.0zM56.0 127.0h1.0v1.0h-1.0zM34.0 128.0h1.0v1.0h-1.0zM35.0 128.0h1.0v1.0h-1.0zM56.0 128.0h1.0v1.0h-1.0zM57.0 129.0h1.0v1.0h-1.0zM56.0 130.0h1.0v1.0h-1.0zM57.0 130.0h1.0v1.0h-1.0zM58.0 130.0h1.0v1.0h-1.0zM35.0 131.0h1.0v1.0h-1.0zM36.0 131.0h1.0v1.0h-1.0zM56.0 131.0h1.0v1.0h-1.0zM50.0 132.0h1.0v1.0h-1.0zM51.0 132.0h1.0v1.0h-1.0zM52.0 132.0h1.0v1.0h-1.0z"/>
<path fill="#145a82" d="M38.0 127.0h1.0v1.0h-1.0zM39.0 127.0h1.0v1.0h-1.0zM54.0 128.0h1.0v1.0h-1.0zM55.0 128.0h1.0v1.0h-1.0zM35.0 130.0h1.0v1.0h-1.0zM54.0 131.0h1.0v1.0h-1.0zM42.0 132.0h1.0v1.0h-1.0zM48.0 132.0h1.0v1.0h-1.0zM49.0 132.0h1.0v1.0h-1.0z"/>
<path fill="#14648c" d="M40.0 127.0h1.0v1.0h-1.0zM50.0 127.0h1.0v1.0h-1.0zM36.0 128.0h1.0v1.0h-1.0zM37.0 128.0h1.0v1.0h-1.0zM55.0 129.0h1.0v1.0h-1.0zM36.0 130.0h1.0v1.0h-1.0zM55.0 130.0h1.0v1.0h-1.0zM37.0 131.0h1.0v1.0h-1.0zM47.0 132.0h1.0v1.0h-1.0z"/>
<path fill="#148296" d="M41.0 127.0h1.0v1.0h-1.0zM42.0 127.0h1.0v1.0h-1.0zM44.0 127.0h1.0v1.0h-1.0zM39.0 128.0h1.0v1.0h-1.0zM54.0 130.0h1.0v1.0h-1.0z"/>
<path fill="#148ca0" d="M43.0 127.0h1.0v1.0h-1.0zM47.0 127.0h1.0v1.0h-1.0zM41.0 128.0h1.0v1.0h-1.0zM52.0 128.0h1.0v1.0h-1.0zM53.0 128.0h1.0v1.0h-1.0zM37.0 129.0h1.0v1.0h-1.0zM37.0 130.0h1.0v1.0h-1.0zM52.0 131.0h1.0v1.0h-1.0z"/>
<path fill="#147896" d="M45.0 127.0h1.0v1.0h-1.0zM49.0 127.0h1.0v1.0h-1.0zM51.0 127.0h1.0v1.0h-1.0zM38.0 128.0h1.0v1.0h-1.0zM35.0 129.0h1.0v1.0h-1.0zM38.0 131.0h1.0v1.0h-1.0zM39.0 131.0h1.0v1.0h-1.0zM53.0 131.0h1.0v1.0h-1.0zM44.0 132.0h1.0v1.0h-1.0z"/>
<path fill="#289696" d="M46.0 127.0h1.0v1.0h-1.0z"/>
<path fill="#146e8c" d="M48.0 127.0h1.0v1.0h-1.0zM34.0 129.0h1.0v1.0h-1.0zM36.0 129.0h1.0v1.0h-1.0zM40.0 131.0h1.0v1.0h-1.0zM43.0 132.0h1.0v1.0h-1.0zM46.0 132.0h1.0v1.0h-1.0z"/>
<path fill="#145082" d="M52.0 127.0h1.0v1.0h-1.0zM53.0 127.0h1.0v1.0h-1.0zM56.0 129.0h1.0v1.0h-1.0zM40.0 132.0h1.0v1.0h-1.0zM41.0 132.0h1.0v1.0h-1.0zM45.0 132.0h1.0v1.0h-1.0z"/>
<path fill="#32a082" d="M40.0 128.0h1.0v1.0h-1.0z"/>
<path fill="#78c83c" d="M42.0 128.0h1.0v1.0h-1.0zM51.0 129.0h1.0v1.0h-1.0zM51.0 130.0h1.0v1.0h-1.0z"/>
<path fill="#64be46" d="M43.0 128.0h1.0v1.0h-1.0z"/>
<path fill="#8cc83c" d="M44.0 128.0h1.0v1.0h-1.0z"/>
<path fill="#50b45a" d="M45.0 128.0h1.0v1.0h-1.0zM50.0 128.0h1.0v1.0h-1.0zM45.0 131.0h1.0v1.0h-1.0z"/>
<path fill="#96c832" d="M46.0 128.0h1.0v1.0h-1.0z"/>
<path fill="#a0c832" d="M47.0 128.0h1.0v1.0h-1.0zM48.0 130.0h1.0v1.0h-1.0z"/>
<path fill="#50be50" d="M48.0 128.0h1.0v1.0h-1.0zM41.0 129.0h1.0v1.0h-1.0zM46.0 131.0h1.0v1.0h-1.0z"/>
<path fill="#5abe46" d="M49.0 128.0h1.0v1.0h-1.0z"/>
<path fill="#32a078" d="M51.0 128.0h1.0v1.0h-1.0z"/>
<path fill="#1e9696" d="M38.0 129.0h1.0v1.0h-1.0zM43.0 131.0h1.0v1.0h-1.0z"/>
<path fill="#3caa6e" d="M39.0 129.0h1.0v1.0h-1.0zM52.0 129.0h1.0v1.0h-1.0zM53.0 129.0h1.0v1.0h-1.0zM39.0 130.0h1.0v1.0h-1.0zM50.0 131.0h1.0v1.0h-1.0z"/>
<path fill="#46b45a" d="M40.0 129.0h1.0v1.0h-1.0zM40.0 130.0h1.0v1.0h-1.0zM44.0 131.0h1.0v1.0h-1.0zM47.0 131.0h1.0v1.0h-1.0z"/>
<path fill="#aac832" d="M42.0 129.0h1.0v1.0h-1.0zM43.0 129.0h1.0v1.0h-1.0z"/>
<path fill="#d2c81e" d="M44.0 129.0h1.0v1.0h-1.0zM43.0 130.0h1.0v1.0h-1.0z"/>
<path fill="#dcaa1e" d="M45.0 129.0h1.0v1.0h-1.0z"/>
<path fill="#e6aa1e" d="M46.0 129.0h1.0v1.0h-1.0z"/>
<path fill="#dcb41e" d="M47.0 129.0h1.0v1.0h-1.0zM48.0 129.0h1.0v1.0h-1.0z"/>
<path fill="#bed228" d="M49.0 129.0h1.0v1.0h-1.0z"/>
<path fill="#82c83c" d="M50.0 129.0h1.0v1.0h-1.0zM41.0 130.0h1.0v1.0h-1.0z"/>
<path fill="#1e96a0" d="M54.0 129.0h1.0v1.0h-1.0zM49.0 131.0h1.0v1.0h-1.0z"/>
<path fill="#28a082" d="M38.0 130.0h1.0v1.0h-1.0z"/>
<path fill="#b4d228" d="M42.0 130.0h1.0v1.0h-1.0zM49.0 130.0h1.0v1.0h-1.0zM50.0 130.0h1.0v1.0h-1.0z"/>
<path fill="#c8d228" d="M44.0 130.0h1.0v1.0h-1.0z"/>
<path fill="#dcbe1e" d="M45.0 130.0h1.0v1.0h-1.0zM47.0 130.0h1.0v1.0h-1.0z"/>
<path fill="#d2be1e" d="M46.0 130.0h1.0v1.0h-1.0z"/>
<path fill="#3caa78" d="M52.0 130.0h1.0v1.0h-1.0z"/>
<path fill="#28968c" d="M53.0 130.0h1.0v1.0h-1.0z"/>
<path fill="#32aa78" d="M41.0 131.0h1.0v1.0h-1.0z"/>
<path fill="#28a08c" d="M42.0 131.0h1.0v1.0h-1.0zM51.0 131.0h1.0v1.0h-1.0z"/>
<path fill="#3caa64" d="M48.0 131.0h1.0v1.0h-1.0z"/>
<rect x="20.7" y="85.4" width="50.0" height="50.599999999999994" fill="none" stroke="#777" stroke-width="0.8"/>
<line x1="15" y1="93" x2="15" y2="135.5" stroke="#111" stroke-width="1"/>
<polygon points="13,94 17,94 15,89.5" fill="#111"/>
<line x1="21" y1="141.6" x2="64.5" y2="141.6" stroke="#111" stroke-width="1"/>
<polygon points="63.5,139.6 63.5,143.6 68.0,141.6" fill="#111"/>
<g transform="translate(8.80,112.70) rotate(-90) scale(1.0,1)"><text x="0" y="0" font-size="10.4" text-anchor="middle" font-weight="bold" textLength="19.6" lengthAdjust="spacingAndGlyphs">SSC-A</text></g>
<text x="34.90" y="153.70" font-size="10.2" text-anchor="start" font-weight="bold" textLength="19" lengthAdjust="spacingAndGlyphs" >FSC-A</text>
<path fill="#968cbe" d="M111.0 86.1h0.8v0.8h-0.8zM137.1 99.2h0.8v0.8h-0.8zM121.1 111.0h0.8v0.8h-0.8z"/>
<path fill="#8c82b4" d="M106.2 88.2h0.8v0.8h-0.8zM116.0 115.1h0.8v0.8h-0.8zM108.2 127.1h0.8v0.8h-0.8z"/>
<path fill="#645aaa" d="M122.1 88.1h0.8v0.8h-0.8zM118.0 103.1h0.8v0.8h-0.8zM129.1 104.2h0.8v0.8h-0.8zM134.1 105.2h0.8v0.8h-0.8zM118.2 114.1h0.8v0.8h-0.8zM107.1 124.1h0.8v0.8h-0.8z"/>
<path fill="#aaaac8" d="M123.1 88.2h0.8v0.8h-0.8zM101.1 89.1h0.8v0.8h-0.8zM114.0 94.1h0.8v0.8h-0.8zM144.2 96.1h0.8v0.8h-0.8zM128.1 97.2h0.8v0.8h-0.8zM111.2 101.1h0.8v0.8h-0.8zM128.0 105.1h0.8v0.8h-0.8zM115.0 108.0h0.8v0.8h-0.8zM116.2 112.1h0.8v0.8h-0.8z"/>
<path fill="#8278b4" d="M126.1 89.1h0.8v0.8h-0.8zM131.2 97.2h0.8v0.8h-0.8zM113.1 106.1h0.8v0.8h-0.8zM144.1 107.1h0.8v0.8h-0.8zM145.0 107.1h0.8v0.8h-0.8zM121.2 128.0h0.8v0.8h-0.8zM131.1 132.0h0.8v0.8h-0.8z"/>
<path fill="#a0a0c8" d="M127.1 90.0h0.8v0.8h-0.8zM133.0 95.1h0.8v0.8h-0.8zM127.0 98.1h0.8v0.8h-0.8zM138.2 103.0h0.8v0.8h-0.8zM122.1 113.0h0.8v0.8h-0.8z"/>
<path fill="#a0a0be" d="M130.2 91.2h0.8v0.8h-0.8zM125.2 108.2h0.8v0.8h-0.8zM115.1 111.1h0.8v0.8h-0.8zM130.0 134.1h0.8v0.8h-0.8z"/>
<path fill="#786eaa" d="M137.1 93.1h0.8v0.8h-0.8zM122.1 108.0h0.8v0.8h-0.8zM118.2 110.2h0.8v0.8h-0.8zM124.1 128.2h0.8v0.8h-0.8z"/>
<path fill="#9696be" d="M149.2 94.1h0.8v0.8h-0.8zM111.1 98.1h0.8v0.8h-0.8zM121.1 102.1h0.8v0.8h-0.8zM131.2 104.1h0.8v0.8h-0.8zM120.0 107.2h0.8v0.8h-0.8zM130.1 109.1h0.8v0.8h-0.8zM112.1 117.0h0.8v0.8h-0.8zM109.2 118.1h0.8v0.8h-0.8zM116.1 128.1h0.8v0.8h-0.8z"/>
<path fill="#786eb4" d="M134.2 96.1h0.8v0.8h-0.8zM139.1 103.2h0.8v0.8h-0.8zM121.0 108.1h0.8v0.8h-0.8zM147.2 112.1h0.8v0.8h-0.8zM123.0 113.0h0.8v0.8h-0.8zM129.2 127.1h0.8v0.8h-0.8zM148.0 131.0h0.8v0.8h-0.8z"/>
<path fill="#6e64aa" d="M109.2 98.0h0.8v0.8h-0.8zM103.1 100.0h0.8v0.8h-0.8zM121.1 100.2h0.8v0.8h-0.8zM122.2 103.0h0.8v0.8h-0.8zM115.1 104.2h0.8v0.8h-0.8zM132.2 104.0h0.8v0.8h-0.8zM114.1 105.2h0.8v0.8h-0.8zM129.1 114.1h0.8v0.8h-0.8zM112.0 118.2h0.8v0.8h-0.8zM122.2 118.1h0.8v0.8h-0.8zM127.1 127.1h0.8v0.8h-0.8z"/>
<path fill="#8282b4" d="M112.1 99.2h0.8v0.8h-0.8zM130.1 103.0h0.8v0.8h-0.8zM113.0 115.2h0.8v0.8h-0.8zM107.1 119.2h0.8v0.8h-0.8z"/>
<path fill="#5a50a0" d="M113.1 100.1h0.8v0.8h-0.8zM137.1 105.1h0.8v0.8h-0.8zM133.2 109.0h0.8v0.8h-0.8zM145.1 111.1h0.8v0.8h-0.8zM145.1 112.2h0.8v0.8h-0.8zM146.1 113.2h0.8v0.8h-0.8zM149.2 118.1h0.8v0.8h-0.8zM111.1 119.1h0.8v0.8h-0.8zM112.1 119.2h0.8v0.8h-0.8zM113.1 126.1h0.8v0.8h-0.8zM128.1 126.0h0.8v0.8h-0.8zM121.1 127.1h0.8v0.8h-0.8zM130.1 131.1h0.8v0.8h-0.8zM131.1 131.1h0.8v0.8h-0.8zM149.2 131.1h0.8v0.8h-0.8zM148.1 132.0h0.8v0.8h-0.8zM145.1 133.1h0.8v0.8h-0.8z"/>
<path fill="#a096be" d="M133.1 101.1h0.8v0.8h-0.8zM135.0 101.0h0.8v0.8h-0.8zM106.2 106.2h0.8v0.8h-0.8zM122.2 111.1h0.8v0.8h-0.8z"/>
<path fill="#8c8cbe" d="M101.1 103.2h0.8v0.8h-0.8zM127.1 104.2h0.8v0.8h-0.8zM115.2 110.1h0.8v0.8h-0.8zM103.0 120.1h0.8v0.8h-0.8z"/>
<path fill="#504696" d="M136.1 105.1h0.8v0.8h-0.8zM138.0 107.0h0.8v0.8h-0.8zM136.1 108.0h0.8v0.8h-0.8zM134.1 109.0h0.8v0.8h-0.8zM138.1 109.1h0.8v0.8h-0.8zM142.1 109.0h0.8v0.8h-0.8zM134.0 110.1h0.8v0.8h-0.8zM135.2 110.0h0.8v0.8h-0.8zM142.1 110.0h0.8v0.8h-0.8zM131.1 111.1h0.8v0.8h-0.8zM146.2 112.1h0.8v0.8h-0.8zM146.1 115.1h0.8v0.8h-0.8zM147.1 115.1h0.8v0.8h-0.8zM122.0 119.1h0.8v0.8h-0.8zM148.2 121.1h0.8v0.8h-0.8zM107.1 122.1h0.8v0.8h-0.8zM149.0 122.0h0.8v0.8h-0.8zM149.1 123.1h0.8v0.8h-0.8zM149.1 124.1h0.8v0.8h-0.8zM129.1 130.1h0.8v0.8h-0.8zM147.2 132.1h0.8v0.8h-0.8zM131.2 134.1h0.8v0.8h-0.8z"/>
<path fill="#7878b4" d="M109.2 106.1h0.8v0.8h-0.8zM137.0 106.1h0.8v0.8h-0.8zM147.2 113.0h0.8v0.8h-0.8zM126.2 127.1h0.8v0.8h-0.8z"/>
<path fill="#463c8c" d="M141.2 108.0h0.8v0.8h-0.8zM141.2 109.0h0.8v0.8h-0.8zM133.2 111.2h0.8v0.8h-0.8zM144.0 111.2h0.8v0.8h-0.8zM134.0 112.0h1.0v1.0h-1.0zM143.0 113.0h1.0v1.0h-1.0zM145.0 113.2h0.8v0.8h-0.8zM148.2 113.1h0.8v0.8h-0.8zM146.1 114.1h0.8v0.8h-0.8zM126.1 119.1h0.8v0.8h-0.8zM127.2 119.1h0.8v0.8h-0.8zM148.0 120.0h0.8v0.8h-0.8zM148.0 122.0h0.8v0.8h-0.8zM123.1 126.0h0.8v0.8h-0.8zM129.0 126.0h0.8v0.8h-0.8zM130.2 127.1h0.8v0.8h-0.8zM130.0 128.1h0.8v0.8h-0.8zM148.1 128.1h0.8v0.8h-0.8zM133.1 133.2h0.8v0.8h-0.8z"/>
<path fill="#28286e" d="M140.1 109.2h0.8v0.8h-0.8zM138.0 110.1h0.8v0.8h-0.8zM139.0 111.0h1.0v1.0h-1.0zM145.0 117.0h1.0v1.0h-1.0zM115.2 119.2h0.8v0.8h-0.8zM119.1 119.1h0.8v0.8h-0.8zM120.0 119.1h0.8v0.8h-0.8zM127.1 120.1h0.8v0.8h-0.8zM132.0 120.0h1.0v1.0h-1.0zM130.0 121.0h1.0v1.0h-1.0zM148.1 126.1h0.8v0.8h-0.8zM131.0 127.1h0.8v0.8h-0.8zM136.1 134.1h0.8v0.8h-0.8z"/>
<path fill="#3c3282" d="M136.1 110.0h0.8v0.8h-0.8zM140.2 110.1h0.8v0.8h-0.8zM143.2 112.0h0.8v0.8h-0.8zM144.0 112.0h0.8v0.8h-0.8zM148.0 118.1h0.8v0.8h-0.8zM118.1 119.1h0.8v0.8h-0.8zM128.1 119.0h0.8v0.8h-0.8zM130.2 119.2h0.8v0.8h-0.8zM131.1 119.1h0.8v0.8h-0.8zM128.0 121.0h1.0v1.0h-1.0zM108.1 122.0h0.8v0.8h-0.8zM148.1 123.0h0.8v0.8h-0.8zM130.0 124.0h1.0v1.0h-1.0zM129.1 125.1h0.8v0.8h-0.8zM112.2 126.1h0.8v0.8h-0.8zM114.1 126.1h0.8v0.8h-0.8zM116.0 126.2h0.8v0.8h-0.8zM117.0 126.2h0.8v0.8h-0.8zM132.0 127.0h1.0v1.0h-1.0zM131.1 130.2h0.8v0.8h-0.8zM133.1 131.2h0.8v0.8h-0.8zM147.1 131.0h0.8v0.8h-0.8z"/>
<path fill="#1e1e64" d="M137.1 110.2h0.8v0.8h-0.8zM139.0 110.2h0.8v0.8h-0.8zM134.1 111.0h0.8v0.8h-0.8zM135.0 111.0h1.0v1.0h-1.0zM137.0 111.0h1.0v1.0h-1.0zM138.0 111.0h1.0v1.0h-1.0zM140.0 111.0h1.0v1.0h-1.0zM135.0 112.0h1.0v1.0h-1.0zM136.0 112.0h1.0v1.0h-1.0zM137.0 112.0h1.0v1.0h-1.0zM138.0 112.0h1.0v1.0h-1.0zM139.0 112.0h1.0v1.0h-1.0zM140.0 112.0h1.0v1.0h-1.0zM141.0 112.0h1.0v1.0h-1.0zM133.0 113.0h1.0v1.0h-1.0zM135.0 113.0h1.0v1.0h-1.0zM140.0 113.0h1.0v1.0h-1.0zM141.0 113.0h1.0v1.0h-1.0zM142.0 113.0h1.0v1.0h-1.0zM134.0 114.0h1.0v1.0h-1.0zM141.0 114.0h1.0v1.0h-1.0zM142.0 114.0h1.0v1.0h-1.0zM143.0 114.0h1.0v1.0h-1.0zM133.0 115.0h1.0v1.0h-1.0zM143.0 115.0h1.0v1.0h-1.0zM144.0 115.0h1.0v1.0h-1.0zM133.0 116.0h1.0v1.0h-1.0zM134.0 117.0h1.0v1.0h-1.0zM146.0 117.0h1.0v1.0h-1.0zM132.0 118.0h1.0v1.0h-1.0zM133.0 118.0h1.0v1.0h-1.0zM117.0 119.0h0.8v0.8h-0.8zM133.0 119.0h1.0v1.0h-1.0zM146.0 119.0h1.0v1.0h-1.0zM114.0 120.0h1.0v1.0h-1.0zM122.0 120.0h1.0v1.0h-1.0zM124.0 120.0h1.0v1.0h-1.0zM125.0 120.0h1.0v1.0h-1.0zM126.0 120.0h1.0v1.0h-1.0zM128.1 120.0h0.8v0.8h-0.8zM131.1 120.2h0.8v0.8h-0.8zM146.0 120.0h1.0v1.0h-1.0zM147.0 120.0h1.0v1.0h-1.0zM126.0 121.0h1.0v1.0h-1.0zM129.0 121.0h1.0v1.0h-1.0zM132.0 121.0h1.0v1.0h-1.0zM146.0 121.0h1.0v1.0h-1.0zM109.0 122.0h1.0v1.0h-1.0zM130.0 122.0h1.0v1.0h-1.0zM131.0 122.0h1.0v1.0h-1.0zM147.0 122.0h1.0v1.0h-1.0zM109.0 123.0h1.0v1.0h-1.0zM110.0 123.0h1.0v1.0h-1.0zM127.0 123.0h1.0v1.0h-1.0zM129.0 123.0h1.0v1.0h-1.0zM131.0 123.0h1.0v1.0h-1.0zM132.0 123.0h1.0v1.0h-1.0zM147.0 123.0h1.0v1.0h-1.0zM110.0 124.0h1.0v1.0h-1.0zM126.0 124.0h1.0v1.0h-1.0zM127.0 124.0h1.0v1.0h-1.0zM128.0 124.0h1.0v1.0h-1.0zM132.0 124.0h1.0v1.0h-1.0zM147.0 124.0h1.0v1.0h-1.0zM112.0 125.0h1.0v1.0h-1.0zM113.0 125.0h1.0v1.0h-1.0zM121.0 125.0h1.0v1.0h-1.0zM125.0 125.0h1.0v1.0h-1.0zM126.0 125.0h1.0v1.0h-1.0zM127.0 125.1h0.8v0.8h-0.8zM131.0 125.0h0.8v0.8h-0.8zM132.0 125.0h1.0v1.0h-1.0zM147.0 125.0h1.0v1.0h-1.0zM147.0 126.0h1.0v1.0h-1.0zM133.0 127.0h1.0v1.0h-1.0zM147.0 127.0h1.0v1.0h-1.0zM133.0 128.0h1.0v1.0h-1.0zM146.0 129.0h1.0v1.0h-1.0zM147.1 129.0h0.8v0.8h-0.8zM133.0 130.0h1.0v1.0h-1.0zM134.0 130.0h1.0v1.0h-1.0zM146.0 130.0h1.0v1.0h-1.0zM147.1 130.0h0.8v0.8h-0.8zM148.1 130.2h0.8v0.8h-0.8zM145.0 131.0h1.0v1.0h-1.0zM135.0 132.0h1.0v1.0h-1.0zM136.0 132.0h1.0v1.0h-1.0zM143.0 132.0h1.0v1.0h-1.0zM144.0 132.0h1.0v1.0h-1.0zM136.0 133.0h1.0v1.0h-1.0zM137.0 133.0h1.0v1.0h-1.0zM138.0 133.0h1.0v1.0h-1.0zM139.0 133.0h1.0v1.0h-1.0zM140.0 133.0h1.0v1.0h-1.0zM141.0 133.0h1.0v1.0h-1.0zM143.0 133.0h1.0v1.0h-1.0zM144.0 133.0h1.0v1.0h-1.0zM138.0 134.0h1.0v1.0h-1.0zM139.0 134.0h1.0v1.0h-1.0zM140.0 134.0h1.0v1.0h-1.0zM141.0 134.0h1.0v1.0h-1.0zM142.0 134.0h1.0v1.0h-1.0zM143.0 134.0h1.0v1.0h-1.0z"/>
<path fill="#46468c" d="M143.1 110.1h0.8v0.8h-0.8zM115.1 118.2h0.8v0.8h-0.8z"/>
<path fill="#322878" d="M132.2 111.0h0.8v0.8h-0.8zM132.0 117.0h1.0v1.0h-1.0zM130.0 118.0h0.8v0.8h-0.8zM123.1 119.0h0.8v0.8h-0.8zM110.0 120.1h0.8v0.8h-0.8zM111.1 120.2h0.8v0.8h-0.8zM129.0 120.0h0.8v0.8h-0.8zM132.0 126.0h1.0v1.0h-1.0zM132.2 129.1h0.8v0.8h-0.8zM132.1 130.1h0.8v0.8h-0.8zM135.0 133.0h1.0v1.0h-1.0z"/>
<path fill="#281e6e" d="M132.1 112.1h0.8v0.8h-0.8zM132.0 114.1h0.8v0.8h-0.8zM148.0 119.2h0.8v0.8h-0.8zM131.0 121.0h1.0v1.0h-1.0zM134.0 131.0h1.0v1.0h-1.0zM133.2 132.0h0.8v0.8h-0.8zM146.0 132.1h0.8v0.8h-0.8zM135.2 134.0h0.8v0.8h-0.8z"/>
<path fill="#1e2864" d="M134.0 113.0h1.0v1.0h-1.0zM135.0 114.0h1.0v1.0h-1.0zM134.0 116.0h1.0v1.0h-1.0zM135.0 116.0h1.0v1.0h-1.0zM133.0 117.0h1.0v1.0h-1.0zM135.0 117.0h1.0v1.0h-1.0zM134.0 118.0h1.0v1.0h-1.0zM134.0 119.0h1.0v1.0h-1.0zM115.0 120.0h1.0v1.0h-1.0zM123.0 120.0h1.0v1.0h-1.0zM133.0 120.0h1.0v1.0h-1.0zM111.0 121.0h1.0v1.0h-1.0zM125.0 121.0h1.0v1.0h-1.0zM127.0 121.0h1.0v1.0h-1.0zM126.0 123.0h1.0v1.0h-1.0zM125.0 124.0h1.0v1.0h-1.0zM119.0 125.0h1.0v1.0h-1.0zM124.0 125.0h1.0v1.0h-1.0zM134.0 127.0h1.0v1.0h-1.0zM146.0 127.0h1.0v1.0h-1.0zM134.0 128.0h1.0v1.0h-1.0zM146.0 128.0h1.0v1.0h-1.0zM135.0 130.0h1.0v1.0h-1.0zM145.0 130.0h1.0v1.0h-1.0zM135.0 131.0h1.0v1.0h-1.0zM137.0 132.0h1.0v1.0h-1.0z"/>
<path fill="#142864" d="M136.0 113.0h1.0v1.0h-1.0zM137.0 113.0h1.0v1.0h-1.0zM138.0 113.0h1.0v1.0h-1.0zM137.0 114.0h1.0v1.0h-1.0zM138.0 114.0h1.0v1.0h-1.0zM139.0 114.0h1.0v1.0h-1.0zM140.0 114.0h1.0v1.0h-1.0zM134.0 115.0h1.0v1.0h-1.0zM135.0 115.0h1.0v1.0h-1.0zM136.0 115.0h1.0v1.0h-1.0zM138.0 115.0h1.0v1.0h-1.0zM140.0 115.0h1.0v1.0h-1.0zM142.0 115.0h1.0v1.0h-1.0zM136.0 116.0h1.0v1.0h-1.0zM140.0 116.0h1.0v1.0h-1.0zM143.0 116.0h1.0v1.0h-1.0zM144.0 116.0h1.0v1.0h-1.0zM136.0 117.0h1.0v1.0h-1.0zM143.0 117.0h1.0v1.0h-1.0zM135.0 118.0h1.0v1.0h-1.0zM144.0 118.0h1.0v1.0h-1.0zM145.0 118.0h1.0v1.0h-1.0zM135.0 119.0h1.0v1.0h-1.0zM144.0 119.0h1.0v1.0h-1.0zM145.0 119.0h1.0v1.0h-1.0zM113.0 120.0h1.0v1.0h-1.0zM116.0 120.0h1.0v1.0h-1.0zM117.0 120.0h1.0v1.0h-1.0zM118.0 120.0h1.0v1.0h-1.0zM119.0 120.0h1.0v1.0h-1.0zM120.0 120.0h1.0v1.0h-1.0zM134.0 120.0h1.0v1.0h-1.0zM145.0 120.0h1.0v1.0h-1.0zM112.0 121.0h1.0v1.0h-1.0zM124.0 121.0h1.0v1.0h-1.0zM134.0 121.0h1.0v1.0h-1.0zM111.0 122.0h1.0v1.0h-1.0zM125.0 122.0h1.0v1.0h-1.0zM126.0 122.0h1.0v1.0h-1.0zM127.0 122.0h1.0v1.0h-1.0zM134.0 122.0h1.0v1.0h-1.0zM146.0 122.0h1.0v1.0h-1.0zM111.0 123.0h1.0v1.0h-1.0zM125.0 123.0h1.0v1.0h-1.0zM133.0 123.0h1.0v1.0h-1.0zM134.0 123.0h1.0v1.0h-1.0zM146.0 123.0h1.0v1.0h-1.0zM112.0 124.0h1.0v1.0h-1.0zM123.0 124.0h1.0v1.0h-1.0zM124.0 124.0h1.0v1.0h-1.0zM133.0 124.0h1.0v1.0h-1.0zM134.0 124.0h1.0v1.0h-1.0zM146.0 124.0h1.0v1.0h-1.0zM116.0 125.0h1.0v1.0h-1.0zM117.0 125.0h1.0v1.0h-1.0zM118.0 125.0h1.0v1.0h-1.0zM120.0 125.0h1.0v1.0h-1.0zM146.0 125.0h1.0v1.0h-1.0zM134.0 126.0h1.0v1.0h-1.0zM146.0 126.0h1.0v1.0h-1.0zM135.0 127.0h1.0v1.0h-1.0zM135.0 128.0h1.0v1.0h-1.0zM134.0 129.0h1.0v1.0h-1.0zM135.0 129.0h1.0v1.0h-1.0zM136.0 129.0h1.0v1.0h-1.0zM145.0 129.0h1.0v1.0h-1.0zM136.0 130.0h1.0v1.0h-1.0zM136.0 131.0h1.0v1.0h-1.0zM143.0 131.0h1.0v1.0h-1.0zM144.0 131.0h1.0v1.0h-1.0zM139.0 132.0h1.0v1.0h-1.0zM141.0 132.0h1.0v1.0h-1.0zM142.0 132.0h1.0v1.0h-1.0z"/>
<path fill="#143264" d="M136.0 114.0h1.0v1.0h-1.0zM141.0 115.0h1.0v1.0h-1.0zM113.0 124.0h1.0v1.0h-1.0zM134.0 125.0h1.0v1.0h-1.0zM141.0 131.0h1.0v1.0h-1.0z"/>
<path fill="#143c6e" d="M137.0 115.0h1.0v1.0h-1.0zM139.0 115.0h1.0v1.0h-1.0zM141.0 116.0h1.0v1.0h-1.0zM143.0 118.0h1.0v1.0h-1.0zM113.0 121.0h1.0v1.0h-1.0zM120.0 121.0h1.0v1.0h-1.0zM122.0 121.0h1.0v1.0h-1.0zM123.0 121.0h1.0v1.0h-1.0zM123.0 122.0h1.0v1.0h-1.0zM123.0 123.0h1.0v1.0h-1.0zM124.0 123.0h1.0v1.0h-1.0zM135.0 123.0h1.0v1.0h-1.0zM114.0 124.0h1.0v1.0h-1.0zM121.0 124.0h1.0v1.0h-1.0zM135.0 126.0h1.0v1.0h-1.0zM137.0 130.0h1.0v1.0h-1.0zM143.0 130.0h1.0v1.0h-1.0zM142.0 131.0h1.0v1.0h-1.0z"/>
<path fill="#14326e" d="M137.0 116.0h1.0v1.0h-1.0zM142.0 116.0h1.0v1.0h-1.0zM136.0 119.0h1.0v1.0h-1.0zM135.0 121.0h1.0v1.0h-1.0zM145.0 121.0h1.0v1.0h-1.0zM124.0 122.0h1.0v1.0h-1.0zM112.0 123.0h1.0v1.0h-1.0zM122.0 124.0h1.0v1.0h-1.0zM145.0 125.0h1.0v1.0h-1.0zM145.0 128.0h1.0v1.0h-1.0zM144.0 130.0h1.0v1.0h-1.0zM137.0 131.0h1.0v1.0h-1.0zM138.0 131.0h1.0v1.0h-1.0zM138.0 132.0h1.0v1.0h-1.0z"/>
<path fill="#144678" d="M138.0 116.0h1.0v1.0h-1.0zM139.0 116.0h1.0v1.0h-1.0zM137.0 117.0h1.0v1.0h-1.0zM138.0 117.0h1.0v1.0h-1.0zM140.0 117.0h1.0v1.0h-1.0zM141.0 117.0h1.0v1.0h-1.0zM135.0 120.0h1.0v1.0h-1.0zM136.0 120.0h1.0v1.0h-1.0zM112.0 122.0h1.0v1.0h-1.0zM121.0 122.0h1.0v1.0h-1.0zM145.0 122.0h1.0v1.0h-1.0zM122.0 123.0h1.0v1.0h-1.0zM145.0 123.0h1.0v1.0h-1.0zM115.0 124.0h1.0v1.0h-1.0zM120.0 124.0h1.0v1.0h-1.0zM145.0 124.0h1.0v1.0h-1.0zM145.0 126.0h1.0v1.0h-1.0zM136.0 127.0h1.0v1.0h-1.0zM145.0 127.0h1.0v1.0h-1.0zM144.0 128.0h1.0v1.0h-1.0zM144.0 129.0h1.0v1.0h-1.0zM140.0 131.0h1.0v1.0h-1.0z"/>
<path fill="#145a82" d="M139.0 117.0h1.0v1.0h-1.0zM140.0 118.0h1.0v1.0h-1.0zM141.0 118.0h1.0v1.0h-1.0zM142.0 118.0h1.0v1.0h-1.0zM144.0 120.0h1.0v1.0h-1.0zM114.0 121.0h1.0v1.0h-1.0zM119.0 121.0h1.0v1.0h-1.0zM113.0 123.0h1.0v1.0h-1.0zM117.0 124.0h1.0v1.0h-1.0zM138.0 130.0h1.0v1.0h-1.0zM139.0 130.0h1.0v1.0h-1.0zM141.0 130.0h1.0v1.0h-1.0z"/>
<path fill="#143c78" d="M142.0 117.0h1.0v1.0h-1.0zM136.0 118.0h1.0v1.0h-1.0zM135.0 122.0h1.0v1.0h-1.0zM139.0 131.0h1.0v1.0h-1.0z"/>
<path fill="#145082" d="M137.0 118.0h1.0v1.0h-1.0zM115.0 121.0h1.0v1.0h-1.0zM118.0 121.0h1.0v1.0h-1.0zM136.0 121.0h1.0v1.0h-1.0zM144.0 121.0h1.0v1.0h-1.0zM113.0 122.0h1.0v1.0h-1.0zM122.0 122.0h1.0v1.0h-1.0zM121.0 123.0h1.0v1.0h-1.0zM119.0 124.0h1.0v1.0h-1.0zM135.0 124.0h1.0v1.0h-1.0zM135.0 125.0h1.0v1.0h-1.0zM136.0 128.0h1.0v1.0h-1.0zM137.0 129.0h1.0v1.0h-1.0zM143.0 129.0h1.0v1.0h-1.0zM142.0 130.0h1.0v1.0h-1.0z"/>
<path fill="#145078" d="M138.0 118.0h1.0v1.0h-1.0zM137.0 119.0h1.0v1.0h-1.0zM121.0 121.0h1.0v1.0h-1.0z"/>
<path fill="#146e8c" d="M139.0 118.0h1.0v1.0h-1.0zM137.0 120.0h1.0v1.0h-1.0zM143.0 120.0h1.0v1.0h-1.0zM117.0 121.0h1.0v1.0h-1.0zM120.0 122.0h1.0v1.0h-1.0zM136.0 122.0h1.0v1.0h-1.0zM144.0 122.0h1.0v1.0h-1.0zM136.0 123.0h1.0v1.0h-1.0zM136.0 126.0h1.0v1.0h-1.0zM144.0 127.0h1.0v1.0h-1.0zM137.0 128.0h1.0v1.0h-1.0zM143.0 128.0h1.0v1.0h-1.0z"/>
<path fill="#323278" d="M113.1 119.1h0.8v0.8h-0.8zM130.1 120.1h0.8v0.8h-0.8zM120.1 126.2h0.8v0.8h-0.8zM131.1 126.0h0.8v0.8h-0.8zM132.0 128.1h0.8v0.8h-0.8zM131.2 129.0h0.8v0.8h-0.8zM134.1 133.2h0.8v0.8h-0.8z"/>
<path fill="#3c3c82" d="M114.0 119.2h0.8v0.8h-0.8zM131.0 124.0h1.0v1.0h-1.0zM146.2 131.0h0.8v0.8h-0.8z"/>
<path fill="#147896" d="M138.0 119.0h1.0v1.0h-1.0zM137.0 121.0h1.0v1.0h-1.0zM115.0 123.0h1.0v1.0h-1.0z"/>
<path fill="#148ca0" d="M139.0 119.0h1.0v1.0h-1.0zM116.0 122.0h1.0v1.0h-1.0zM118.0 122.0h1.0v1.0h-1.0zM119.0 122.0h1.0v1.0h-1.0zM114.0 123.0h1.0v1.0h-1.0zM144.0 123.0h1.0v1.0h-1.0zM136.0 125.0h1.0v1.0h-1.0zM137.0 125.0h1.0v1.0h-1.0zM143.0 127.0h1.0v1.0h-1.0z"/>
<path fill="#1e96a0" d="M140.0 119.0h1.0v1.0h-1.0zM138.0 120.0h1.0v1.0h-1.0z"/>
<path fill="#148296" d="M141.0 119.0h1.0v1.0h-1.0zM116.0 121.0h1.0v1.0h-1.0zM143.0 121.0h1.0v1.0h-1.0zM114.0 122.0h1.0v1.0h-1.0zM115.0 122.0h1.0v1.0h-1.0zM143.0 122.0h1.0v1.0h-1.0zM116.0 123.0h1.0v1.0h-1.0zM119.0 123.0h1.0v1.0h-1.0zM120.0 123.0h1.0v1.0h-1.0zM144.0 125.0h1.0v1.0h-1.0zM144.0 126.0h1.0v1.0h-1.0zM139.0 129.0h1.0v1.0h-1.0zM141.0 129.0h1.0v1.0h-1.0z"/>
<path fill="#14648c" d="M142.0 119.0h1.0v1.0h-1.0zM143.0 119.0h1.0v1.0h-1.0zM116.0 124.0h1.0v1.0h-1.0zM118.0 124.0h1.0v1.0h-1.0zM136.0 124.0h1.0v1.0h-1.0zM144.0 124.0h1.0v1.0h-1.0zM137.0 127.0h1.0v1.0h-1.0zM138.0 129.0h1.0v1.0h-1.0zM140.0 130.0h1.0v1.0h-1.0z"/>
<path fill="#1e9696" d="M139.0 120.0h1.0v1.0h-1.0zM142.0 120.0h1.0v1.0h-1.0zM137.0 124.0h1.0v1.0h-1.0zM141.0 128.0h1.0v1.0h-1.0zM140.0 129.0h1.0v1.0h-1.0zM142.0 129.0h1.0v1.0h-1.0z"/>
<path fill="#3caa78" d="M140.0 120.0h1.0v1.0h-1.0z"/>
<path fill="#32a082" d="M141.0 120.0h1.0v1.0h-1.0zM143.0 126.0h1.0v1.0h-1.0zM138.0 128.0h1.0v1.0h-1.0z"/>
<path fill="#32aa78" d="M138.0 121.0h1.0v1.0h-1.0zM137.0 126.0h1.0v1.0h-1.0z"/>
<path fill="#3caa6e" d="M139.0 121.0h1.0v1.0h-1.0zM142.0 121.0h1.0v1.0h-1.0zM118.0 123.0h1.0v1.0h-1.0zM137.0 123.0h1.0v1.0h-1.0zM143.0 123.0h1.0v1.0h-1.0zM143.0 124.0h1.0v1.0h-1.0zM142.0 127.0h1.0v1.0h-1.0z"/>
<path fill="#82c83c" d="M140.0 121.0h1.0v1.0h-1.0zM138.0 124.0h1.0v1.0h-1.0zM138.0 125.0h1.0v1.0h-1.0z"/>
<path fill="#50b45a" d="M141.0 121.0h1.0v1.0h-1.0z"/>
<path fill="#28a082" d="M117.0 122.0h1.0v1.0h-1.0zM142.0 128.0h1.0v1.0h-1.0z"/>
<path fill="#289696" d="M137.0 122.0h1.0v1.0h-1.0z"/>
<path fill="#64be46" d="M138.0 122.0h1.0v1.0h-1.0zM138.0 123.0h1.0v1.0h-1.0zM143.0 125.0h1.0v1.0h-1.0z"/>
<path fill="#46b45a" d="M139.0 122.0h1.0v1.0h-1.0zM142.0 126.0h1.0v1.0h-1.0zM139.0 127.0h1.0v1.0h-1.0z"/>
<path fill="#b4d228" d="M140.0 122.0h1.0v1.0h-1.0z"/>
<path fill="#78c83c" d="M141.0 122.0h1.0v1.0h-1.0z"/>
<path fill="#50be50" d="M142.0 122.0h1.0v1.0h-1.0zM138.0 126.0h1.0v1.0h-1.0zM138.0 127.0h1.0v1.0h-1.0z"/>
<path fill="#28968c" d="M117.0 123.0h1.0v1.0h-1.0z"/>
<path fill="#d2be1e" d="M139.0 123.0h1.0v1.0h-1.0zM140.0 123.0h1.0v1.0h-1.0zM141.0 126.0h1.0v1.0h-1.0z"/>
<path fill="#c8d228" d="M141.0 123.0h1.0v1.0h-1.0zM142.0 125.0h1.0v1.0h-1.0z"/>
<path fill="#6ebe46" d="M142.0 123.0h1.0v1.0h-1.0z"/>
<path fill="#a0c832" d="M139.0 124.0h1.0v1.0h-1.0z"/>
<path fill="#d2c81e" d="M140.0 124.0h1.0v1.0h-1.0zM139.0 126.0h1.0v1.0h-1.0zM140.0 126.0h1.0v1.0h-1.0z"/>
<path fill="#e6aa1e" d="M141.0 124.0h1.0v1.0h-1.0zM141.0 125.0h1.0v1.0h-1.0z"/>
<path fill="#bed228" d="M142.0 124.0h1.0v1.0h-1.0zM139.0 125.0h1.0v1.0h-1.0z"/>
<path fill="#f0961e" d="M140.0 125.0h1.0v1.0h-1.0z"/>
<path fill="#aac832" d="M140.0 127.0h1.0v1.0h-1.0z"/>
<path fill="#96c832" d="M141.0 127.0h1.0v1.0h-1.0z"/>
<path fill="#32a078" d="M139.0 128.0h1.0v1.0h-1.0z"/>
<path fill="#46b464" d="M140.0 128.0h1.0v1.0h-1.0z"/>
<path fill="#6e6eaa" d="M129.2 131.1h0.8v0.8h-0.8z"/>
<rect x="101" y="85.7" width="49.69999999999999" height="49.499999999999986" fill="none" stroke="#777" stroke-width="0.8"/>
<rect x="130.1" y="109.9" width="19.400000000000006" height="25.299999999999983" fill="none" stroke="#888" stroke-width="0.7"/>
<line x1="93.6" y1="94" x2="93.6" y2="136" stroke="#111" stroke-width="1"/>
<polygon points="91.6,95 95.6,95 93.6,90.5" fill="#111"/>
<line x1="99" y1="141.7" x2="142.5" y2="141.7" stroke="#111" stroke-width="1"/>
<polygon points="141.5,139.7 141.5,143.7 146.0,141.7" fill="#111"/>
<g transform="translate(88.00,112.70) rotate(-90) scale(1.0,1)"><text x="0" y="0" font-size="10.6" text-anchor="middle" textLength="30.4" lengthAdjust="spacingAndGlyphs">Live/dead</text></g>
<text x="116.00" y="154.00" font-size="10.2" text-anchor="start" font-weight="bold" textLength="12.8" lengthAdjust="spacingAndGlyphs" >CD3</text>
<path fill="#8282b4" d="M186.2 86.1h0.8v0.8h-0.8zM222.1 86.2h0.8v0.8h-0.8zM216.1 91.0h0.8v0.8h-0.8zM222.2 93.1h0.8v0.8h-0.8zM217.1 94.2h0.8v0.8h-0.8zM227.0 94.0h0.8v0.8h-0.8zM208.1 95.0h0.8v0.8h-0.8zM205.2 98.1h0.8v0.8h-0.8zM216.0 98.1h0.8v0.8h-0.8zM219.0 105.1h0.8v0.8h-0.8zM198.1 106.2h0.8v0.8h-0.8zM223.2 108.1h0.8v0.8h-0.8zM196.2 121.2h0.8v0.8h-0.8zM197.1 124.0h0.8v0.8h-0.8z"/>
<path fill="#5a50a0" d="M188.2 86.1h0.8v0.8h-0.8zM187.1 87.1h0.8v0.8h-0.8zM179.1 88.0h0.8v0.8h-0.8zM198.1 88.2h0.8v0.8h-0.8zM181.0 90.2h0.8v0.8h-0.8zM179.1 93.1h0.8v0.8h-0.8zM205.1 96.1h0.8v0.8h-0.8zM197.2 99.1h0.8v0.8h-0.8zM182.0 101.1h0.8v0.8h-0.8zM197.0 101.1h0.8v0.8h-0.8zM201.0 103.1h0.8v0.8h-0.8zM214.1 105.1h0.8v0.8h-0.8zM217.0 105.0h0.8v0.8h-0.8zM182.1 107.0h0.8v0.8h-0.8zM219.2 109.1h0.8v0.8h-0.8zM220.1 109.1h0.8v0.8h-0.8zM223.1 111.1h0.8v0.8h-0.8zM184.1 113.1h0.8v0.8h-0.8zM195.2 114.0h0.8v0.8h-0.8zM185.2 115.2h0.8v0.8h-0.8zM183.0 117.2h0.8v0.8h-0.8zM184.1 119.0h0.8v0.8h-0.8zM216.0 119.1h0.8v0.8h-0.8zM215.0 122.2h0.8v0.8h-0.8zM194.1 123.2h0.8v0.8h-0.8zM195.2 123.2h0.8v0.8h-0.8zM195.2 126.1h0.8v0.8h-0.8zM192.2 127.2h0.8v0.8h-0.8z"/>
<path fill="#7878b4" d="M190.1 86.0h0.8v0.8h-0.8zM205.1 89.1h0.8v0.8h-0.8zM225.1 108.1h0.8v0.8h-0.8zM208.2 117.0h0.8v0.8h-0.8zM215.1 131.2h0.8v0.8h-0.8zM213.1 132.1h0.8v0.8h-0.8z"/>
<path fill="#505096" d="M196.2 86.0h0.8v0.8h-0.8zM203.1 96.0h0.8v0.8h-0.8zM182.2 105.1h0.8v0.8h-0.8zM183.1 107.1h0.8v0.8h-0.8zM219.0 107.1h0.8v0.8h-0.8zM186.0 128.1h0.8v0.8h-0.8z"/>
<path fill="#8c82be" d="M202.0 86.2h0.8v0.8h-0.8zM203.1 118.2h0.8v0.8h-0.8z"/>
<path fill="#8c8cbe" d="M186.2 87.2h0.8v0.8h-0.8zM222.1 88.0h0.8v0.8h-0.8zM224.2 97.1h0.8v0.8h-0.8zM211.0 104.0h0.8v0.8h-0.8zM210.1 106.1h0.8v0.8h-0.8zM212.2 106.1h0.8v0.8h-0.8zM201.2 108.1h0.8v0.8h-0.8zM214.1 122.1h0.8v0.8h-0.8zM185.1 133.2h0.8v0.8h-0.8z"/>
<path fill="#46468c" d="M191.1 87.2h0.8v0.8h-0.8zM195.0 117.2h0.8v0.8h-0.8zM186.1 126.1h0.8v0.8h-0.8zM186.1 129.0h0.8v0.8h-0.8z"/>
<path fill="#3c3282" d="M194.2 87.1h0.8v0.8h-0.8zM200.2 88.0h0.8v0.8h-0.8zM203.2 89.0h0.8v0.8h-0.8zM207.1 94.0h0.8v0.8h-0.8zM181.1 95.2h0.8v0.8h-0.8zM182.1 96.2h0.8v0.8h-0.8zM195.2 103.2h0.8v0.8h-0.8zM183.0 104.1h0.8v0.8h-0.8zM195.2 106.0h0.8v0.8h-0.8zM194.0 108.0h1.0v1.0h-1.0zM183.2 109.2h0.8v0.8h-0.8zM217.1 114.1h0.8v0.8h-0.8zM187.0 115.0h1.0v1.0h-1.0zM185.0 118.2h0.8v0.8h-0.8zM185.2 121.2h0.8v0.8h-0.8zM194.1 121.1h0.8v0.8h-0.8zM226.2 121.1h0.8v0.8h-0.8zM195.1 124.0h0.8v0.8h-0.8zM186.1 125.1h0.8v0.8h-0.8zM192.0 125.0h1.0v1.0h-1.0zM187.1 128.2h0.8v0.8h-0.8zM192.1 128.2h0.8v0.8h-0.8zM188.2 129.2h0.8v0.8h-0.8zM188.2 130.1h0.8v0.8h-0.8zM188.1 132.0h0.8v0.8h-0.8z"/>
<path fill="#6e6eaa" d="M202.1 87.1h0.8v0.8h-0.8zM206.2 89.1h0.8v0.8h-0.8zM216.1 89.1h0.8v0.8h-0.8zM221.2 95.1h0.8v0.8h-0.8zM216.1 100.0h0.8v0.8h-0.8zM223.2 101.1h0.8v0.8h-0.8zM206.0 102.2h0.8v0.8h-0.8zM213.1 103.1h0.8v0.8h-0.8zM196.2 105.1h0.8v0.8h-0.8zM203.0 122.2h0.8v0.8h-0.8zM185.1 126.1h0.8v0.8h-0.8z"/>
<path fill="#786eb4" d="M184.0 88.1h0.8v0.8h-0.8zM209.1 89.1h0.8v0.8h-0.8zM197.2 100.1h0.8v0.8h-0.8zM197.0 103.1h0.8v0.8h-0.8zM218.0 104.0h0.8v0.8h-0.8zM209.1 105.0h0.8v0.8h-0.8zM218.2 105.0h0.8v0.8h-0.8zM220.1 108.0h0.8v0.8h-0.8zM218.0 111.2h0.8v0.8h-0.8zM225.1 112.2h0.8v0.8h-0.8zM216.1 114.0h0.8v0.8h-0.8zM183.0 115.1h0.8v0.8h-0.8zM197.2 115.1h0.8v0.8h-0.8zM207.0 123.1h0.8v0.8h-0.8z"/>
<path fill="#463c8c" d="M185.1 88.2h0.8v0.8h-0.8zM201.1 88.0h0.8v0.8h-0.8zM202.1 88.2h0.8v0.8h-0.8zM182.1 89.2h0.8v0.8h-0.8zM206.1 90.2h0.8v0.8h-0.8zM208.1 92.0h0.8v0.8h-0.8zM206.2 93.1h0.8v0.8h-0.8zM183.2 99.2h0.8v0.8h-0.8zM196.1 99.0h0.8v0.8h-0.8zM195.2 108.2h0.8v0.8h-0.8zM222.1 110.0h0.8v0.8h-0.8zM184.1 111.0h0.8v0.8h-0.8zM217.1 115.1h0.8v0.8h-0.8zM225.0 115.2h0.8v0.8h-0.8zM193.0 116.0h1.0v1.0h-1.0zM186.0 117.0h1.0v1.0h-1.0zM216.1 117.1h0.8v0.8h-0.8zM194.1 118.1h0.8v0.8h-0.8zM194.1 119.1h0.8v0.8h-0.8zM226.0 119.2h0.8v0.8h-0.8zM193.2 124.2h0.8v0.8h-0.8zM192.2 126.0h0.8v0.8h-0.8zM186.0 127.1h0.8v0.8h-0.8zM189.2 130.1h0.8v0.8h-0.8zM216.1 132.1h0.8v0.8h-0.8z"/>
<path fill="#28286e" d="M186.0 88.2h0.8v0.8h-0.8zM187.0 88.0h1.0v1.0h-1.0zM199.1 88.1h0.8v0.8h-0.8zM202.1 89.2h0.8v0.8h-0.8zM204.0 92.0h1.0v1.0h-1.0zM181.0 93.0h1.0v1.0h-1.0zM199.0 97.1h0.8v0.8h-0.8zM185.0 100.0h1.0v1.0h-1.0zM194.0 100.0h1.0v1.0h-1.0zM184.0 112.0h0.8v0.8h-0.8zM219.2 112.0h0.8v0.8h-0.8zM193.0 114.0h1.0v1.0h-1.0zM186.0 116.0h1.0v1.0h-1.0zM217.0 116.0h1.0v1.0h-1.0zM185.0 117.1h0.8v0.8h-0.8zM186.0 120.0h1.0v1.0h-1.0zM190.0 125.0h1.0v1.0h-1.0zM188.0 126.0h1.0v1.0h-1.0zM190.1 130.1h0.8v0.8h-0.8z"/>
<path fill="#1e1e64" d="M188.0 88.0h1.0v1.0h-1.0zM190.0 88.0h1.0v1.0h-1.0zM191.0 88.0h1.0v1.0h-1.0zM192.0 88.0h1.0v1.0h-1.0zM193.0 88.0h1.0v1.0h-1.0zM196.0 88.0h1.0v1.0h-1.0zM184.0 89.0h1.0v1.0h-1.0zM185.0 89.0h1.0v1.0h-1.0zM186.0 89.0h1.0v1.0h-1.0zM187.0 89.0h1.0v1.0h-1.0zM198.0 89.0h1.0v1.0h-1.0zM199.0 89.0h1.0v1.0h-1.0zM200.0 89.0h1.0v1.0h-1.0zM183.0 90.0h1.0v1.0h-1.0zM201.0 90.0h1.0v1.0h-1.0zM202.0 90.0h1.0v1.0h-1.0zM182.0 91.0h1.0v1.0h-1.0zM183.0 91.0h1.0v1.0h-1.0zM203.0 91.0h1.0v1.0h-1.0zM204.0 91.0h1.0v1.0h-1.0zM205.1 91.1h0.8v0.8h-0.8zM205.0 92.0h1.0v1.0h-1.0zM182.0 93.0h1.0v1.0h-1.0zM203.0 93.0h1.0v1.0h-1.0zM204.0 93.0h1.0v1.0h-1.0zM181.0 94.0h1.0v1.0h-1.0zM182.0 94.0h1.0v1.0h-1.0zM202.0 94.0h1.0v1.0h-1.0zM203.0 94.0h1.0v1.0h-1.0zM182.0 95.0h1.0v1.0h-1.0zM183.0 95.0h1.0v1.0h-1.0zM199.0 95.0h1.0v1.0h-1.0zM201.0 95.0h1.0v1.0h-1.0zM202.0 95.0h1.0v1.0h-1.0zM203.1 95.1h0.8v0.8h-0.8zM183.0 96.0h1.0v1.0h-1.0zM198.0 96.0h1.0v1.0h-1.0zM199.0 96.0h1.0v1.0h-1.0zM200.0 96.0h1.0v1.0h-1.0zM184.0 97.0h1.0v1.0h-1.0zM186.0 97.0h1.0v1.0h-1.0zM195.0 97.0h1.0v1.0h-1.0zM196.0 97.0h1.0v1.0h-1.0zM186.0 98.0h1.0v1.0h-1.0zM193.0 98.0h1.0v1.0h-1.0zM194.0 98.0h1.0v1.0h-1.0zM195.0 98.0h1.0v1.0h-1.0zM186.0 99.0h1.0v1.0h-1.0zM193.0 99.0h1.0v1.0h-1.0zM194.0 99.0h1.0v1.0h-1.0zM186.0 100.0h1.0v1.0h-1.0zM187.0 100.0h1.0v1.0h-1.0zM192.0 100.0h1.0v1.0h-1.0zM193.0 100.0h1.0v1.0h-1.0zM195.1 100.1h0.8v0.8h-0.8zM186.0 101.0h1.0v1.0h-1.0zM192.0 101.0h1.0v1.0h-1.0zM193.0 101.0h1.0v1.0h-1.0zM194.0 101.0h1.0v1.0h-1.0zM185.0 102.0h1.0v1.0h-1.0zM186.0 102.0h1.0v1.0h-1.0zM192.0 102.0h1.0v1.0h-1.0zM193.0 102.0h1.0v1.0h-1.0zM194.0 102.0h1.0v1.0h-1.0zM184.0 103.0h1.0v1.0h-1.0zM185.0 103.0h1.0v1.0h-1.0zM193.0 103.0h1.0v1.0h-1.0zM194.0 103.0h1.0v1.0h-1.0zM185.0 104.0h1.0v1.0h-1.0zM186.0 104.0h1.0v1.0h-1.0zM192.0 104.0h1.0v1.0h-1.0zM193.0 104.0h1.0v1.0h-1.0zM194.0 104.0h1.0v1.0h-1.0zM185.0 105.0h1.0v1.0h-1.0zM186.0 105.0h1.0v1.0h-1.0zM193.0 105.0h1.0v1.0h-1.0zM194.0 105.0h1.0v1.0h-1.0zM184.0 106.0h1.0v1.0h-1.0zM185.0 106.0h1.0v1.0h-1.0zM186.0 106.0h1.0v1.0h-1.0zM193.0 106.0h1.0v1.0h-1.0zM194.0 106.0h1.0v1.0h-1.0zM184.1 107.0h0.8v0.8h-0.8zM186.0 107.0h1.0v1.0h-1.0zM193.0 107.0h1.0v1.0h-1.0zM189.0 109.0h1.0v1.0h-1.0zM193.0 109.0h1.0v1.0h-1.0zM185.0 110.0h1.0v1.0h-1.0zM186.0 110.0h1.0v1.0h-1.0zM188.0 110.0h1.0v1.0h-1.0zM191.0 110.0h1.0v1.0h-1.0zM192.0 110.0h1.0v1.0h-1.0zM186.0 111.0h1.0v1.0h-1.0zM191.0 111.0h1.0v1.0h-1.0zM192.0 111.0h1.0v1.0h-1.0zM222.0 111.0h0.8v0.8h-0.8zM186.0 112.0h1.0v1.0h-1.0zM187.0 112.0h1.0v1.0h-1.0zM190.0 112.0h1.0v1.0h-1.0zM191.0 112.0h1.0v1.0h-1.0zM192.0 112.0h1.0v1.0h-1.0zM221.0 112.0h1.0v1.0h-1.0zM222.0 112.0h1.0v1.0h-1.0zM223.1 112.1h0.8v0.8h-0.8zM187.0 113.0h1.0v1.0h-1.0zM191.0 113.0h1.0v1.0h-1.0zM221.0 113.0h1.0v1.0h-1.0zM222.0 113.0h1.0v1.0h-1.0zM223.0 113.0h1.0v1.0h-1.0zM187.0 114.0h1.0v1.0h-1.0zM189.0 114.0h1.0v1.0h-1.0zM191.0 114.0h1.0v1.0h-1.0zM219.0 114.0h1.0v1.0h-1.0zM223.0 114.0h1.0v1.0h-1.0zM224.0 114.0h1.0v1.0h-1.0zM188.0 115.0h1.0v1.0h-1.0zM189.0 115.0h1.0v1.0h-1.0zM191.0 115.0h1.0v1.0h-1.0zM192.0 115.0h1.0v1.0h-1.0zM224.0 115.0h1.0v1.0h-1.0zM187.0 116.0h1.0v1.0h-1.0zM188.0 116.0h1.0v1.0h-1.0zM190.0 116.0h1.0v1.0h-1.0zM191.0 116.0h1.0v1.0h-1.0zM218.0 116.0h1.0v1.0h-1.0zM224.0 116.0h1.0v1.0h-1.0zM187.0 117.0h1.0v1.0h-1.0zM188.0 117.0h1.0v1.0h-1.0zM189.0 117.0h1.0v1.0h-1.0zM190.0 117.0h1.0v1.0h-1.0zM191.0 117.0h1.0v1.0h-1.0zM192.0 117.0h1.0v1.0h-1.0zM217.0 117.0h1.0v1.0h-1.0zM225.0 117.0h1.0v1.0h-1.0zM186.0 118.0h1.0v1.0h-1.0zM187.0 118.0h1.0v1.0h-1.0zM188.0 118.0h1.0v1.0h-1.0zM191.0 118.0h1.0v1.0h-1.0zM225.0 118.0h1.0v1.0h-1.0zM187.0 119.0h1.0v1.0h-1.0zM188.0 119.0h1.0v1.0h-1.0zM190.0 119.0h1.0v1.0h-1.0zM191.0 119.0h1.0v1.0h-1.0zM193.0 119.0h1.0v1.0h-1.0zM217.0 119.0h1.0v1.0h-1.0zM225.0 119.0h1.0v1.0h-1.0zM187.0 120.0h1.0v1.0h-1.0zM188.0 120.0h1.0v1.0h-1.0zM189.0 120.0h1.0v1.0h-1.0zM190.0 120.0h1.0v1.0h-1.0zM191.0 120.0h1.0v1.0h-1.0zM192.0 120.0h1.0v1.0h-1.0zM187.0 121.0h1.0v1.0h-1.0zM189.0 121.0h1.0v1.0h-1.0zM191.0 121.0h1.0v1.0h-1.0zM187.0 122.0h1.0v1.0h-1.0zM188.0 122.0h1.0v1.0h-1.0zM190.0 122.0h1.0v1.0h-1.0zM190.0 123.0h1.0v1.0h-1.0zM191.0 123.0h1.0v1.0h-1.0zM187.0 124.0h1.0v1.0h-1.0zM188.0 124.0h1.0v1.0h-1.0zM189.0 124.0h1.0v1.0h-1.0zM192.0 124.0h1.0v1.0h-1.0zM216.0 124.0h1.0v1.0h-1.0zM188.0 125.0h1.0v1.0h-1.0zM226.0 125.0h1.0v1.0h-1.0zM191.0 126.0h1.0v1.0h-1.0zM216.0 126.0h1.0v1.0h-1.0zM217.0 126.0h1.0v1.0h-1.0zM188.0 127.0h1.0v1.0h-1.0zM189.0 127.0h1.0v1.0h-1.0zM190.0 127.0h1.0v1.0h-1.0zM216.2 127.1h0.8v0.8h-0.8zM225.0 127.0h1.0v1.0h-1.0zM225.0 128.0h1.0v1.0h-1.0zM191.1 129.1h0.8v0.8h-0.8zM225.0 129.0h1.0v1.0h-1.0zM217.0 130.0h1.0v1.0h-1.0zM225.0 130.0h1.0v1.0h-1.0zM224.0 132.0h1.0v1.0h-1.0zM225.0 132.1h0.8v0.8h-0.8zM223.0 133.0h1.0v1.0h-1.0zM224.0 133.0h1.0v1.0h-1.0zM219.0 134.0h1.0v1.0h-1.0zM223.0 134.0h1.0v1.0h-1.0z"/>
<path fill="#1e2864" d="M195.0 88.0h1.0v1.0h-1.0zM197.0 89.0h1.0v1.0h-1.0zM184.0 90.0h1.0v1.0h-1.0zM185.0 90.0h1.0v1.0h-1.0zM200.0 90.0h1.0v1.0h-1.0zM182.0 92.0h1.0v1.0h-1.0zM183.0 92.0h1.0v1.0h-1.0zM203.0 92.0h1.0v1.0h-1.0zM202.0 93.0h1.0v1.0h-1.0zM200.0 95.0h1.0v1.0h-1.0zM184.0 96.0h1.0v1.0h-1.0zM197.0 96.0h1.0v1.0h-1.0zM187.0 99.0h1.0v1.0h-1.0zM188.0 99.0h1.0v1.0h-1.0zM189.0 99.0h1.0v1.0h-1.0zM191.0 99.0h1.0v1.0h-1.0zM192.0 99.0h1.0v1.0h-1.0zM188.0 100.0h1.0v1.0h-1.0zM191.0 101.0h1.0v1.0h-1.0zM187.0 102.0h1.0v1.0h-1.0zM186.0 103.0h1.0v1.0h-1.0zM191.0 103.0h1.0v1.0h-1.0zM187.0 106.0h1.0v1.0h-1.0zM192.0 107.0h1.0v1.0h-1.0zM186.0 108.0h1.0v1.0h-1.0zM192.0 108.0h1.0v1.0h-1.0zM191.0 109.0h1.0v1.0h-1.0zM192.0 109.0h1.0v1.0h-1.0zM190.0 110.0h1.0v1.0h-1.0zM188.0 112.0h1.0v1.0h-1.0zM189.0 113.0h1.0v1.0h-1.0zM188.0 114.0h1.0v1.0h-1.0zM190.0 114.0h1.0v1.0h-1.0zM222.0 114.0h1.0v1.0h-1.0zM190.0 115.0h1.0v1.0h-1.0zM218.0 115.0h1.0v1.0h-1.0zM189.0 116.0h1.0v1.0h-1.0zM224.0 117.0h1.0v1.0h-1.0zM190.0 118.0h1.0v1.0h-1.0zM189.0 119.0h1.0v1.0h-1.0zM217.0 120.0h1.0v1.0h-1.0zM225.0 121.0h1.0v1.0h-1.0zM191.0 125.0h1.0v1.0h-1.0zM217.0 127.0h1.0v1.0h-1.0zM217.0 128.0h1.0v1.0h-1.0zM217.0 129.0h1.0v1.0h-1.0z"/>
<path fill="#aaaac8" d="M179.1 89.1h0.8v0.8h-0.8zM202.1 105.1h0.8v0.8h-0.8zM206.2 110.2h0.8v0.8h-0.8zM180.0 111.0h0.8v0.8h-0.8zM211.1 126.2h0.8v0.8h-0.8zM211.1 131.1h0.8v0.8h-0.8zM197.2 133.1h0.8v0.8h-0.8z"/>
<path fill="#504696" d="M183.0 89.1h0.8v0.8h-0.8zM207.1 90.0h0.8v0.8h-0.8zM207.2 92.2h0.8v0.8h-0.8zM209.1 92.2h0.8v0.8h-0.8zM219.2 96.0h0.8v0.8h-0.8zM182.0 97.1h0.8v0.8h-0.8zM200.0 98.1h0.8v0.8h-0.8zM184.0 99.1h0.8v0.8h-0.8zM183.1 102.1h0.8v0.8h-0.8zM196.1 103.0h0.8v0.8h-0.8zM206.1 103.0h0.8v0.8h-0.8zM185.2 113.0h0.8v0.8h-0.8zM194.1 115.1h0.8v0.8h-0.8zM226.1 117.0h0.8v0.8h-0.8zM185.1 119.1h0.8v0.8h-0.8zM195.1 119.1h0.8v0.8h-0.8zM185.2 120.1h0.8v0.8h-0.8zM193.2 121.1h0.8v0.8h-0.8zM186.2 124.1h0.8v0.8h-0.8zM187.1 126.1h0.8v0.8h-0.8zM193.2 128.2h0.8v0.8h-0.8zM195.0 130.2h0.8v0.8h-0.8zM216.1 130.2h0.8v0.8h-0.8zM192.1 133.2h0.8v0.8h-0.8zM217.1 133.2h0.8v0.8h-0.8z"/>
<path fill="#142864" d="M188.0 89.0h1.0v1.0h-1.0zM189.0 89.0h1.0v1.0h-1.0zM191.0 89.0h1.0v1.0h-1.0zM192.0 89.0h1.0v1.0h-1.0zM193.0 89.0h1.0v1.0h-1.0zM194.0 89.0h1.0v1.0h-1.0zM195.0 89.0h1.0v1.0h-1.0zM196.0 89.0h1.0v1.0h-1.0zM186.0 90.0h1.0v1.0h-1.0zM198.0 90.0h1.0v1.0h-1.0zM199.0 90.0h1.0v1.0h-1.0zM185.0 91.0h1.0v1.0h-1.0zM201.0 91.0h1.0v1.0h-1.0zM202.0 91.0h1.0v1.0h-1.0zM202.0 92.0h1.0v1.0h-1.0zM183.0 93.0h1.0v1.0h-1.0zM201.0 93.0h1.0v1.0h-1.0zM183.0 94.0h1.0v1.0h-1.0zM199.0 94.0h1.0v1.0h-1.0zM200.0 94.0h1.0v1.0h-1.0zM201.0 94.0h1.0v1.0h-1.0zM184.0 95.0h1.0v1.0h-1.0zM185.0 96.0h1.0v1.0h-1.0zM186.0 96.0h1.0v1.0h-1.0zM196.0 96.0h1.0v1.0h-1.0zM187.0 97.0h1.0v1.0h-1.0zM188.0 97.0h1.0v1.0h-1.0zM194.0 97.0h1.0v1.0h-1.0zM187.0 98.0h1.0v1.0h-1.0zM188.0 98.0h1.0v1.0h-1.0zM189.0 98.0h1.0v1.0h-1.0zM190.0 98.0h1.0v1.0h-1.0zM191.0 98.0h1.0v1.0h-1.0zM192.0 98.0h1.0v1.0h-1.0zM190.0 99.0h1.0v1.0h-1.0zM189.0 100.0h1.0v1.0h-1.0zM190.0 100.0h1.0v1.0h-1.0zM191.0 100.0h1.0v1.0h-1.0zM187.0 101.0h1.0v1.0h-1.0zM188.0 101.0h1.0v1.0h-1.0zM190.0 101.0h1.0v1.0h-1.0zM188.0 102.0h1.0v1.0h-1.0zM189.0 102.0h1.0v1.0h-1.0zM190.0 102.0h1.0v1.0h-1.0zM191.0 102.0h1.0v1.0h-1.0zM187.0 103.0h1.0v1.0h-1.0zM188.0 103.0h1.0v1.0h-1.0zM190.0 103.0h1.0v1.0h-1.0zM187.0 104.0h1.0v1.0h-1.0zM188.0 104.0h1.0v1.0h-1.0zM189.0 104.0h1.0v1.0h-1.0zM190.0 104.0h1.0v1.0h-1.0zM191.0 104.0h1.0v1.0h-1.0zM187.0 105.0h1.0v1.0h-1.0zM189.0 105.0h1.0v1.0h-1.0zM192.0 105.0h1.0v1.0h-1.0zM188.0 106.0h1.0v1.0h-1.0zM189.0 106.0h1.0v1.0h-1.0zM190.0 106.0h1.0v1.0h-1.0zM191.0 106.0h1.0v1.0h-1.0zM192.0 106.0h1.0v1.0h-1.0zM187.0 107.0h1.0v1.0h-1.0zM188.0 107.0h1.0v1.0h-1.0zM189.0 107.0h1.0v1.0h-1.0zM190.0 107.0h1.0v1.0h-1.0zM191.0 107.0h1.0v1.0h-1.0zM187.0 108.0h1.0v1.0h-1.0zM188.0 108.0h1.0v1.0h-1.0zM189.0 108.0h1.0v1.0h-1.0zM190.0 108.0h1.0v1.0h-1.0zM191.0 108.0h1.0v1.0h-1.0zM187.0 109.0h1.0v1.0h-1.0zM188.0 109.0h1.0v1.0h-1.0zM190.0 109.0h1.0v1.0h-1.0zM189.0 110.0h1.0v1.0h-1.0zM189.0 111.0h1.0v1.0h-1.0zM190.0 111.0h1.0v1.0h-1.0zM189.0 112.0h1.0v1.0h-1.0zM188.0 113.0h1.0v1.0h-1.0zM220.0 114.0h1.0v1.0h-1.0zM221.0 114.0h1.0v1.0h-1.0zM219.0 115.0h1.0v1.0h-1.0zM223.0 115.0h1.0v1.0h-1.0zM219.0 116.0h1.0v1.0h-1.0zM223.0 116.0h1.0v1.0h-1.0zM218.0 117.0h1.0v1.0h-1.0zM218.0 118.0h1.0v1.0h-1.0zM218.0 119.0h1.0v1.0h-1.0zM217.0 121.0h1.0v1.0h-1.0zM217.0 122.0h1.0v1.0h-1.0zM225.0 122.0h1.0v1.0h-1.0zM189.0 123.0h1.0v1.0h-1.0zM217.0 123.0h1.0v1.0h-1.0zM225.0 123.0h1.0v1.0h-1.0zM217.0 124.0h1.0v1.0h-1.0zM225.0 124.0h1.0v1.0h-1.0zM225.0 125.0h1.0v1.0h-1.0zM218.0 130.0h1.0v1.0h-1.0zM224.0 130.0h1.0v1.0h-1.0zM218.0 131.0h1.0v1.0h-1.0zM224.0 131.0h1.0v1.0h-1.0zM219.0 132.0h1.0v1.0h-1.0zM223.0 132.0h1.0v1.0h-1.0zM219.0 133.0h1.0v1.0h-1.0zM220.0 134.0h1.0v1.0h-1.0zM221.0 134.0h1.0v1.0h-1.0zM222.0 134.0h1.0v1.0h-1.0z"/>
<path fill="#14326e" d="M190.0 89.0h1.0v1.0h-1.0zM187.0 90.0h1.0v1.0h-1.0zM197.0 90.0h1.0v1.0h-1.0zM184.0 91.0h1.0v1.0h-1.0zM199.0 91.0h1.0v1.0h-1.0zM184.0 92.0h1.0v1.0h-1.0zM191.0 97.0h1.0v1.0h-1.0zM192.0 97.0h1.0v1.0h-1.0zM193.0 97.0h1.0v1.0h-1.0zM189.0 101.0h1.0v1.0h-1.0zM189.0 103.0h1.0v1.0h-1.0zM191.0 105.0h1.0v1.0h-1.0zM222.0 115.0h1.0v1.0h-1.0zM224.0 119.0h1.0v1.0h-1.0zM218.0 129.0h1.0v1.0h-1.0zM220.0 133.0h1.0v1.0h-1.0zM222.0 133.0h1.0v1.0h-1.0z"/>
<path fill="#322878" d="M204.1 89.0h0.8v0.8h-0.8zM181.2 91.1h0.8v0.8h-0.8zM205.2 94.0h0.8v0.8h-0.8zM206.0 94.1h0.8v0.8h-0.8zM195.2 99.1h0.8v0.8h-0.8zM184.1 108.1h0.8v0.8h-0.8zM194.1 110.1h0.8v0.8h-0.8zM218.0 112.1h0.8v0.8h-0.8zM195.1 113.1h0.8v0.8h-0.8zM224.2 113.0h0.8v0.8h-0.8zM193.0 117.0h1.0v1.0h-1.0zM216.0 122.0h1.0v1.0h-1.0zM226.0 123.0h1.0v1.0h-1.0zM189.0 125.0h1.0v1.0h-1.0zM191.0 127.0h1.0v1.0h-1.0zM226.1 128.2h0.8v0.8h-0.8zM190.2 129.1h0.8v0.8h-0.8zM225.1 133.1h0.8v0.8h-0.8zM224.0 134.0h1.0v1.0h-1.0z"/>
<path fill="#a096be" d="M212.2 89.1h0.8v0.8h-0.8z"/>
<path fill="#145082" d="M188.0 90.0h1.0v1.0h-1.0zM189.0 90.0h1.0v1.0h-1.0zM195.0 90.0h1.0v1.0h-1.0zM197.0 91.0h1.0v1.0h-1.0zM198.0 91.0h1.0v1.0h-1.0zM185.0 92.0h1.0v1.0h-1.0zM197.0 94.0h1.0v1.0h-1.0zM196.0 95.0h1.0v1.0h-1.0zM193.0 96.0h1.0v1.0h-1.0zM220.0 116.0h1.0v1.0h-1.0zM221.0 116.0h1.0v1.0h-1.0zM223.0 117.0h1.0v1.0h-1.0zM219.0 118.0h1.0v1.0h-1.0zM223.0 119.0h1.0v1.0h-1.0zM224.0 125.0h1.0v1.0h-1.0zM224.0 127.0h1.0v1.0h-1.0zM219.0 130.0h1.0v1.0h-1.0z"/>
<path fill="#14648c" d="M190.0 90.0h1.0v1.0h-1.0zM191.0 90.0h1.0v1.0h-1.0zM199.0 92.0h1.0v1.0h-1.0zM186.0 94.0h1.0v1.0h-1.0zM187.0 95.0h1.0v1.0h-1.0zM188.0 96.0h1.0v1.0h-1.0zM189.0 96.0h1.0v1.0h-1.0zM191.0 96.0h1.0v1.0h-1.0zM192.0 96.0h1.0v1.0h-1.0zM218.0 123.0h1.0v1.0h-1.0zM218.0 124.0h1.0v1.0h-1.0zM223.0 129.0h1.0v1.0h-1.0zM220.0 131.0h1.0v1.0h-1.0z"/>
<path fill="#144678" d="M192.0 90.0h1.0v1.0h-1.0zM186.0 92.0h1.0v1.0h-1.0zM184.0 93.0h1.0v1.0h-1.0zM185.0 94.0h1.0v1.0h-1.0zM198.0 94.0h1.0v1.0h-1.0zM195.0 95.0h1.0v1.0h-1.0zM222.0 116.0h1.0v1.0h-1.0zM224.0 120.0h1.0v1.0h-1.0zM218.0 121.0h1.0v1.0h-1.0zM224.0 126.0h1.0v1.0h-1.0zM218.0 128.0h1.0v1.0h-1.0zM219.0 131.0h1.0v1.0h-1.0zM223.0 131.0h1.0v1.0h-1.0zM222.0 132.0h1.0v1.0h-1.0z"/>
<path fill="#145a82" d="M193.0 90.0h1.0v1.0h-1.0zM186.0 91.0h1.0v1.0h-1.0zM198.0 92.0h1.0v1.0h-1.0zM199.0 93.0h1.0v1.0h-1.0zM186.0 95.0h1.0v1.0h-1.0zM190.0 96.0h1.0v1.0h-1.0zM223.0 118.0h1.0v1.0h-1.0zM219.0 119.0h1.0v1.0h-1.0zM224.0 123.0h1.0v1.0h-1.0zM218.0 126.0h1.0v1.0h-1.0zM218.0 127.0h1.0v1.0h-1.0zM223.0 130.0h1.0v1.0h-1.0zM221.0 132.0h1.0v1.0h-1.0z"/>
<path fill="#145078" d="M194.0 90.0h1.0v1.0h-1.0zM196.0 91.0h1.0v1.0h-1.0zM185.0 93.0h1.0v1.0h-1.0zM198.0 93.0h1.0v1.0h-1.0zM185.0 95.0h1.0v1.0h-1.0zM218.0 120.0h1.0v1.0h-1.0zM224.0 121.0h1.0v1.0h-1.0zM218.0 122.0h1.0v1.0h-1.0z"/>
<path fill="#143c6e" d="M196.0 90.0h1.0v1.0h-1.0zM200.0 91.0h1.0v1.0h-1.0zM201.0 92.0h1.0v1.0h-1.0zM200.0 93.0h1.0v1.0h-1.0zM184.0 94.0h1.0v1.0h-1.0zM197.0 95.0h1.0v1.0h-1.0zM187.0 96.0h1.0v1.0h-1.0zM194.0 96.0h1.0v1.0h-1.0zM195.0 96.0h1.0v1.0h-1.0zM189.0 97.0h1.0v1.0h-1.0zM221.0 115.0h1.0v1.0h-1.0zM224.0 122.0h1.0v1.0h-1.0zM217.0 125.0h1.0v1.0h-1.0zM221.0 133.0h1.0v1.0h-1.0z"/>
<path fill="#281e6e" d="M203.0 90.0h1.0v1.0h-1.0zM183.0 97.0h1.0v1.0h-1.0zM200.2 97.0h0.8v0.8h-0.8zM185.0 98.0h1.0v1.0h-1.0zM196.1 98.2h0.8v0.8h-0.8zM185.0 107.0h1.0v1.0h-1.0zM194.0 107.0h1.0v1.0h-1.0zM185.0 109.0h1.0v1.0h-1.0zM194.1 112.1h0.8v0.8h-0.8zM192.0 114.0h1.0v1.0h-1.0zM193.1 122.2h0.8v0.8h-0.8zM188.0 123.0h1.0v1.0h-1.0zM192.0 123.0h1.0v1.0h-1.0zM188.1 128.1h0.8v0.8h-0.8zM190.1 128.1h0.8v0.8h-0.8z"/>
<path fill="#645aaa" d="M180.1 91.1h0.8v0.8h-0.8zM211.2 92.1h0.8v0.8h-0.8zM210.2 93.1h0.8v0.8h-0.8zM201.2 97.1h0.8v0.8h-0.8zM209.0 97.2h0.8v0.8h-0.8zM182.2 99.2h0.8v0.8h-0.8zM181.1 100.0h0.8v0.8h-0.8zM180.1 103.1h0.8v0.8h-0.8zM182.0 111.1h0.8v0.8h-0.8z"/>
<path fill="#146e8c" d="M187.0 91.0h1.0v1.0h-1.0zM197.0 92.0h1.0v1.0h-1.0zM220.0 117.0h1.0v1.0h-1.0zM220.0 118.0h1.0v1.0h-1.0zM224.0 124.0h1.0v1.0h-1.0zM219.0 129.0h1.0v1.0h-1.0zM221.0 131.0h1.0v1.0h-1.0zM222.0 131.0h1.0v1.0h-1.0z"/>
<path fill="#148ca0" d="M188.0 91.0h1.0v1.0h-1.0zM189.0 91.0h1.0v1.0h-1.0zM190.0 91.0h1.0v1.0h-1.0zM196.0 93.0h1.0v1.0h-1.0zM187.0 94.0h1.0v1.0h-1.0zM194.0 94.0h1.0v1.0h-1.0zM195.0 94.0h1.0v1.0h-1.0zM188.0 95.0h1.0v1.0h-1.0zM219.0 127.0h1.0v1.0h-1.0zM223.0 128.0h1.0v1.0h-1.0z"/>
<path fill="#32aa78" d="M191.0 91.0h1.0v1.0h-1.0zM193.0 94.0h1.0v1.0h-1.0z"/>
<path fill="#32a082" d="M192.0 91.0h1.0v1.0h-1.0zM187.0 93.0h1.0v1.0h-1.0zM195.0 93.0h1.0v1.0h-1.0zM190.0 95.0h1.0v1.0h-1.0zM220.0 129.0h1.0v1.0h-1.0zM221.0 129.0h1.0v1.0h-1.0z"/>
<path fill="#46b45a" d="M193.0 91.0h1.0v1.0h-1.0zM189.0 93.0h1.0v1.0h-1.0zM223.0 124.0h1.0v1.0h-1.0zM223.0 126.0h1.0v1.0h-1.0z"/>
<path fill="#148296" d="M194.0 91.0h1.0v1.0h-1.0zM196.0 94.0h1.0v1.0h-1.0zM193.0 95.0h1.0v1.0h-1.0zM221.0 117.0h1.0v1.0h-1.0z"/>
<path fill="#147896" d="M195.0 91.0h1.0v1.0h-1.0zM186.0 93.0h1.0v1.0h-1.0zM197.0 93.0h1.0v1.0h-1.0zM222.0 117.0h1.0v1.0h-1.0zM222.0 118.0h1.0v1.0h-1.0zM220.0 130.0h1.0v1.0h-1.0z"/>
<path fill="#8278b4" d="M215.2 91.0h0.8v0.8h-0.8zM213.0 97.0h0.8v0.8h-0.8zM209.1 99.1h0.8v0.8h-0.8zM219.1 100.1h0.8v0.8h-0.8zM210.0 101.0h0.8v0.8h-0.8zM221.1 102.2h0.8v0.8h-0.8zM214.1 106.0h0.8v0.8h-0.8zM226.1 111.0h0.8v0.8h-0.8zM212.2 113.1h0.8v0.8h-0.8zM212.0 116.1h0.8v0.8h-0.8z"/>
<path fill="#1e9696" d="M187.0 92.0h1.0v1.0h-1.0zM219.0 126.0h1.0v1.0h-1.0zM221.0 130.0h1.0v1.0h-1.0z"/>
<path fill="#32a078" d="M188.0 92.0h1.0v1.0h-1.0zM222.0 119.0h1.0v1.0h-1.0zM219.0 123.0h1.0v1.0h-1.0z"/>
<path fill="#50be50" d="M189.0 92.0h1.0v1.0h-1.0zM193.0 92.0h1.0v1.0h-1.0zM189.0 94.0h1.0v1.0h-1.0zM222.0 120.0h1.0v1.0h-1.0zM223.0 123.0h1.0v1.0h-1.0zM223.0 127.0h1.0v1.0h-1.0z"/>
<path fill="#6ebe46" d="M190.0 92.0h1.0v1.0h-1.0zM192.0 92.0h1.0v1.0h-1.0zM194.0 93.0h1.0v1.0h-1.0zM222.0 128.0h1.0v1.0h-1.0z"/>
<path fill="#5abe46" d="M191.0 92.0h1.0v1.0h-1.0zM190.0 94.0h1.0v1.0h-1.0zM219.0 122.0h1.0v1.0h-1.0z"/>
<path fill="#50b450" d="M194.0 92.0h1.0v1.0h-1.0z"/>
<path fill="#28a082" d="M195.0 92.0h1.0v1.0h-1.0zM191.0 95.0h1.0v1.0h-1.0z"/>
<path fill="#28a08c" d="M196.0 92.0h1.0v1.0h-1.0zM192.0 95.0h1.0v1.0h-1.0zM221.0 118.0h1.0v1.0h-1.0zM219.0 120.0h1.0v1.0h-1.0zM223.0 121.0h1.0v1.0h-1.0z"/>
<path fill="#143264" d="M200.0 92.0h1.0v1.0h-1.0zM198.0 95.0h1.0v1.0h-1.0zM190.0 97.0h1.0v1.0h-1.0zM188.0 105.0h1.0v1.0h-1.0zM190.0 105.0h1.0v1.0h-1.0zM220.0 115.0h1.0v1.0h-1.0zM224.0 118.0h1.0v1.0h-1.0zM224.0 129.0h1.0v1.0h-1.0zM220.0 132.0h1.0v1.0h-1.0z"/>
<path fill="#46b464" d="M188.0 93.0h1.0v1.0h-1.0zM223.0 122.0h1.0v1.0h-1.0zM219.0 124.0h1.0v1.0h-1.0z"/>
<path fill="#c8d228" d="M190.0 93.0h1.0v1.0h-1.0zM220.0 126.0h1.0v1.0h-1.0z"/>
<path fill="#96c832" d="M191.0 93.0h1.0v1.0h-1.0z"/>
<path fill="#82c83c" d="M192.0 93.0h1.0v1.0h-1.0z"/>
<path fill="#bed228" d="M193.0 93.0h1.0v1.0h-1.0z"/>
<path fill="#8c82b4" d="M209.1 93.2h0.8v0.8h-0.8zM214.1 98.2h0.8v0.8h-0.8zM226.1 114.2h0.8v0.8h-0.8zM182.0 126.1h0.8v0.8h-0.8z"/>
<path fill="#1e96a0" d="M188.0 94.0h1.0v1.0h-1.0zM194.0 95.0h1.0v1.0h-1.0zM223.0 120.0h1.0v1.0h-1.0zM222.0 130.0h1.0v1.0h-1.0z"/>
<path fill="#8cc83c" d="M191.0 94.0h1.0v1.0h-1.0zM220.0 121.0h1.0v1.0h-1.0z"/>
<path fill="#50b45a" d="M192.0 94.0h1.0v1.0h-1.0zM221.0 119.0h1.0v1.0h-1.0zM220.0 120.0h1.0v1.0h-1.0zM223.0 125.0h1.0v1.0h-1.0zM220.0 128.0h1.0v1.0h-1.0z"/>
<path fill="#786eaa" d="M208.1 94.1h0.8v0.8h-0.8zM211.1 94.1h0.8v0.8h-0.8zM217.2 113.2h0.8v0.8h-0.8z"/>
<path fill="#6e64aa" d="M218.1 94.0h0.8v0.8h-0.8zM208.1 97.1h0.8v0.8h-0.8zM218.1 100.2h0.8v0.8h-0.8zM196.0 102.0h0.8v0.8h-0.8zM212.2 102.1h0.8v0.8h-0.8zM210.1 103.1h0.8v0.8h-0.8zM211.1 105.2h0.8v0.8h-0.8zM203.1 108.0h0.8v0.8h-0.8zM181.1 109.0h0.8v0.8h-0.8zM198.2 109.1h0.8v0.8h-0.8zM183.0 110.0h0.8v0.8h-0.8zM195.1 115.0h0.8v0.8h-0.8zM227.1 116.0h0.8v0.8h-0.8zM196.1 118.1h0.8v0.8h-0.8zM184.0 122.0h0.8v0.8h-0.8zM185.0 122.0h0.8v0.8h-0.8zM227.0 125.1h0.8v0.8h-0.8zM192.2 131.1h0.8v0.8h-0.8zM189.0 133.1h0.8v0.8h-0.8zM216.0 133.2h0.8v0.8h-0.8z"/>
<path fill="#28968c" d="M189.0 95.0h1.0v1.0h-1.0z"/>
<path fill="#a0a0c8" d="M217.2 95.0h0.8v0.8h-0.8zM227.0 96.0h0.8v0.8h-0.8zM179.2 134.0h0.8v0.8h-0.8z"/>
<path fill="#323278" d="M202.1 96.1h0.8v0.8h-0.8zM184.0 104.0h1.0v1.0h-1.0zM184.1 110.1h0.8v0.8h-0.8zM218.1 113.1h0.8v0.8h-0.8zM184.1 114.1h0.8v0.8h-0.8zM226.0 124.0h1.0v1.0h-1.0z"/>
<path fill="#3c3c82" d="M182.1 98.2h0.8v0.8h-0.8zM197.0 98.0h0.8v0.8h-0.8zM196.0 100.1h0.8v0.8h-0.8zM226.1 118.0h0.8v0.8h-0.8zM193.1 123.1h0.8v0.8h-0.8zM191.2 128.1h0.8v0.8h-0.8zM187.2 130.1h0.8v0.8h-0.8z"/>
<path fill="#a0a0be" d="M202.2 98.2h0.8v0.8h-0.8zM205.2 115.0h0.8v0.8h-0.8zM194.0 131.0h0.8v0.8h-0.8z"/>
<path fill="#9696be" d="M202.0 101.1h0.8v0.8h-0.8zM205.0 104.0h0.8v0.8h-0.8zM213.0 113.0h0.8v0.8h-0.8zM205.1 126.1h0.8v0.8h-0.8zM204.1 127.1h0.8v0.8h-0.8zM182.1 132.1h0.8v0.8h-0.8z"/>
<path fill="#968cbe" d="M227.0 103.2h0.8v0.8h-0.8zM200.0 119.1h0.8v0.8h-0.8zM198.2 126.1h0.8v0.8h-0.8z"/>
<path fill="#143c78" d="M219.0 117.0h1.0v1.0h-1.0zM224.0 128.0h1.0v1.0h-1.0z"/>
<path fill="#3caa6e" d="M220.0 119.0h1.0v1.0h-1.0zM222.0 129.0h1.0v1.0h-1.0z"/>
<path fill="#d2d21e" d="M221.0 120.0h1.0v1.0h-1.0zM222.0 122.0h1.0v1.0h-1.0z"/>
<path fill="#3caa78" d="M219.0 121.0h1.0v1.0h-1.0z"/>
<path fill="#d2c81e" d="M221.0 121.0h1.0v1.0h-1.0zM220.0 123.0h1.0v1.0h-1.0zM220.0 125.0h1.0v1.0h-1.0zM222.0 125.0h1.0v1.0h-1.0zM221.0 127.0h1.0v1.0h-1.0z"/>
<path fill="#64be46" d="M222.0 121.0h1.0v1.0h-1.0zM219.0 125.0h1.0v1.0h-1.0z"/>
<path fill="#d2be1e" d="M220.0 122.0h1.0v1.0h-1.0zM221.0 126.0h1.0v1.0h-1.0z"/>
<path fill="#f0961e" d="M221.0 122.0h1.0v1.0h-1.0zM221.0 124.0h1.0v1.0h-1.0zM221.0 125.0h1.0v1.0h-1.0z"/>
<path fill="#dcb41e" d="M221.0 123.0h1.0v1.0h-1.0z"/>
<path fill="#e6a01e" d="M222.0 123.0h1.0v1.0h-1.0zM220.0 124.0h1.0v1.0h-1.0zM222.0 124.0h1.0v1.0h-1.0z"/>
<path fill="#dcaa1e" d="M222.0 126.0h1.0v1.0h-1.0z"/>
<path fill="#aac832" d="M220.0 127.0h1.0v1.0h-1.0zM222.0 127.0h1.0v1.0h-1.0z"/>
<path fill="#289696" d="M219.0 128.0h1.0v1.0h-1.0z"/>
<path fill="#78c83c" d="M221.0 128.0h1.0v1.0h-1.0z"/>
<rect x="178.8" y="85.4" width="49.5" height="49.79999999999998" fill="none" stroke="#777" stroke-width="0.8"/>
<rect x="182.3" y="87.3" width="20.099999999999994" height="19.400000000000006" fill="none" stroke="#888" stroke-width="0.7"/>
<rect x="214.3" y="113.1" width="12.399999999999977" height="20.5" fill="none" stroke="#888" stroke-width="0.7"/>
<line x1="172.7" y1="95" x2="172.7" y2="136" stroke="#111" stroke-width="1"/>
<polygon points="170.7,96 174.7,96 172.7,91.5" fill="#111"/>
<line x1="178" y1="142.3" x2="221.5" y2="142.3" stroke="#111" stroke-width="1"/>
<polygon points="220.5,140.3 220.5,144.3 225.0,142.3" fill="#111"/>
<g transform="translate(166.20,112.35) rotate(-90) scale(1.0,1)"><text x="0" y="0" font-size="10.4" text-anchor="middle" font-weight="bold" textLength="12.6" lengthAdjust="spacingAndGlyphs">CD8</text></g>
<text x="195.00" y="154.00" font-size="10.2" text-anchor="start" font-weight="bold" textLength="12.7" lengthAdjust="spacingAndGlyphs" >CD4</text>
<path fill="#6e64aa" d="M279.1 27.1h0.8v0.8h-0.8zM280.1 29.1h0.8v0.8h-0.8zM283.1 29.1h0.8v0.8h-0.8zM283.2 35.0h0.8v0.8h-0.8zM302.0 35.2h0.8v0.8h-0.8zM283.0 38.0h0.8v0.8h-0.8zM273.2 39.1h0.8v0.8h-0.8zM283.1 41.1h0.8v0.8h-0.8zM287.1 44.1h0.8v0.8h-0.8zM288.1 48.2h0.8v0.8h-0.8zM284.2 49.1h0.8v0.8h-0.8zM288.1 52.2h0.8v0.8h-0.8zM293.1 53.0h0.8v0.8h-0.8zM285.0 54.1h0.8v0.8h-0.8zM284.0 55.1h0.8v0.8h-0.8zM295.0 59.1h0.8v0.8h-0.8zM300.0 62.0h0.8v0.8h-0.8zM295.0 63.1h0.8v0.8h-0.8zM282.0 65.1h0.8v0.8h-0.8zM285.1 65.0h0.8v0.8h-0.8zM290.2 67.1h0.8v0.8h-0.8zM281.2 68.2h0.8v0.8h-0.8z"/>
<path fill="#6e6eaa" d="M280.0 28.2h0.8v0.8h-0.8zM282.1 30.2h0.8v0.8h-0.8zM289.0 62.1h0.8v0.8h-0.8zM291.1 63.1h0.8v0.8h-0.8z"/>
<path fill="#9696be" d="M283.0 28.0h0.8v0.8h-0.8zM275.2 30.1h0.8v0.8h-0.8zM294.2 30.1h0.8v0.8h-0.8zM298.2 55.2h0.8v0.8h-0.8zM299.1 59.2h0.8v0.8h-0.8zM297.0 63.0h0.8v0.8h-0.8zM287.0 67.1h0.8v0.8h-0.8zM283.0 70.2h0.8v0.8h-0.8zM275.1 71.0h0.8v0.8h-0.8zM282.2 73.2h0.8v0.8h-0.8zM276.1 74.1h0.8v0.8h-0.8z"/>
<path fill="#8282b4" d="M276.2 29.0h0.8v0.8h-0.8zM286.1 62.0h0.8v0.8h-0.8zM281.0 72.0h0.8v0.8h-0.8zM287.1 73.1h0.8v0.8h-0.8z"/>
<path fill="#6464aa" d="M282.2 29.0h0.8v0.8h-0.8zM273.0 43.2h0.8v0.8h-0.8zM284.0 45.0h0.8v0.8h-0.8zM286.1 65.1h0.8v0.8h-0.8z"/>
<path fill="#46468c" d="M279.0 30.1h0.8v0.8h-0.8zM278.0 36.1h0.8v0.8h-0.8zM277.2 64.2h0.8v0.8h-0.8zM278.1 69.0h0.8v0.8h-0.8z"/>
<path fill="#8c8cbe" d="M281.1 30.2h0.8v0.8h-0.8zM286.0 31.0h0.8v0.8h-0.8zM285.2 50.0h0.8v0.8h-0.8zM296.1 57.1h0.8v0.8h-0.8zM286.2 66.1h0.8v0.8h-0.8zM299.0 66.1h0.8v0.8h-0.8zM292.2 70.0h0.8v0.8h-0.8z"/>
<path fill="#8c82be" d="M296.1 30.1h0.8v0.8h-0.8zM293.0 56.1h0.8v0.8h-0.8z"/>
<path fill="#322878" d="M279.1 31.1h0.8v0.8h-0.8zM289.1 34.1h0.8v0.8h-0.8zM279.0 37.0h1.0v1.0h-1.0zM287.1 37.0h0.8v0.8h-0.8zM276.2 38.2h0.8v0.8h-0.8zM303.2 38.1h0.8v0.8h-0.8zM276.0 39.2h0.8v0.8h-0.8zM276.1 40.1h0.8v0.8h-0.8zM275.2 41.2h0.8v0.8h-0.8zM282.1 41.1h0.8v0.8h-0.8zM290.0 45.0h1.0v1.0h-1.0zM296.0 46.1h0.8v0.8h-0.8zM275.0 48.0h1.0v1.0h-1.0zM283.0 48.0h0.8v0.8h-0.8zM275.0 51.0h1.0v1.0h-1.0zM282.0 55.0h1.0v1.0h-1.0zM283.1 56.1h0.8v0.8h-0.8zM282.0 61.1h0.8v0.8h-0.8zM279.0 62.0h1.0v1.0h-1.0zM278.1 64.2h0.8v0.8h-0.8z"/>
<path fill="#323278" d="M279.2 32.1h0.8v0.8h-0.8zM295.0 33.2h0.8v0.8h-0.8zM279.1 34.0h0.8v0.8h-0.8zM284.1 37.2h0.8v0.8h-0.8zM283.2 39.0h0.8v0.8h-0.8zM302.0 40.0h1.0v1.0h-1.0zM282.1 44.2h0.8v0.8h-0.8zM282.0 46.0h1.0v1.0h-1.0zM274.1 49.0h0.8v0.8h-0.8zM284.1 52.0h0.8v0.8h-0.8zM275.0 53.2h0.8v0.8h-0.8zM276.0 58.0h1.0v1.0h-1.0zM283.2 59.1h0.8v0.8h-0.8zM281.1 61.1h0.8v0.8h-0.8z"/>
<path fill="#5a50a0" d="M278.2 33.2h0.8v0.8h-0.8zM290.1 33.2h0.8v0.8h-0.8zM277.2 34.1h0.8v0.8h-0.8zM302.1 34.1h0.8v0.8h-0.8zM282.1 36.0h0.8v0.8h-0.8zM304.0 38.1h0.8v0.8h-0.8zM274.0 40.2h0.8v0.8h-0.8zM300.0 44.1h0.8v0.8h-0.8zM274.1 46.0h0.8v0.8h-0.8zM288.1 46.2h0.8v0.8h-0.8zM293.2 48.2h0.8v0.8h-0.8zM287.1 51.2h0.8v0.8h-0.8zM289.0 54.1h0.8v0.8h-0.8zM290.1 55.0h0.8v0.8h-0.8zM293.2 55.0h0.8v0.8h-0.8zM284.0 56.1h0.8v0.8h-0.8zM291.1 59.2h0.8v0.8h-0.8zM283.1 62.1h0.8v0.8h-0.8zM289.2 63.2h0.8v0.8h-0.8zM293.1 64.1h0.8v0.8h-0.8zM288.1 66.0h0.8v0.8h-0.8zM280.0 68.1h0.8v0.8h-0.8zM277.1 70.0h0.8v0.8h-0.8zM277.2 71.0h0.8v0.8h-0.8z"/>
<path fill="#504696" d="M280.0 33.0h0.8v0.8h-0.8zM292.1 33.1h0.8v0.8h-0.8zM276.1 34.1h0.8v0.8h-0.8zM283.1 34.1h0.8v0.8h-0.8zM275.1 35.1h0.8v0.8h-0.8zM275.1 36.1h0.8v0.8h-0.8zM304.1 36.1h0.8v0.8h-0.8zM282.1 39.2h0.8v0.8h-0.8zM284.0 39.0h0.8v0.8h-0.8zM283.1 40.1h0.8v0.8h-0.8zM273.2 41.0h0.8v0.8h-0.8zM287.2 42.1h0.8v0.8h-0.8zM274.1 43.0h0.8v0.8h-0.8zM284.2 47.1h0.8v0.8h-0.8zM285.1 47.1h0.8v0.8h-0.8zM291.2 47.1h0.8v0.8h-0.8zM296.1 47.1h0.8v0.8h-0.8zM297.1 47.1h0.8v0.8h-0.8zM284.0 48.1h0.8v0.8h-0.8zM290.2 48.1h0.8v0.8h-0.8zM273.1 52.0h0.8v0.8h-0.8zM284.2 53.1h0.8v0.8h-0.8zM286.0 56.1h0.8v0.8h-0.8zM283.2 57.2h0.8v0.8h-0.8zM284.1 58.1h0.8v0.8h-0.8zM274.1 60.1h0.8v0.8h-0.8zM285.1 60.0h0.8v0.8h-0.8zM292.1 63.1h0.8v0.8h-0.8zM287.2 65.0h0.8v0.8h-0.8zM291.1 66.0h0.8v0.8h-0.8z"/>
<path fill="#8c82b4" d="M286.2 33.0h0.8v0.8h-0.8zM290.1 53.2h0.8v0.8h-0.8zM274.2 63.1h0.8v0.8h-0.8z"/>
<path fill="#3c3282" d="M297.1 33.1h0.8v0.8h-0.8zM299.0 34.1h0.8v0.8h-0.8zM279.1 36.0h0.8v0.8h-0.8zM280.0 38.0h1.0v1.0h-1.0zM301.0 41.0h1.0v1.0h-1.0zM301.0 42.1h0.8v0.8h-0.8zM275.1 45.0h0.8v0.8h-0.8zM275.0 46.1h0.8v0.8h-0.8zM290.1 47.1h0.8v0.8h-0.8zM282.0 50.0h1.0v1.0h-1.0zM275.2 54.1h0.8v0.8h-0.8zM275.1 60.1h0.8v0.8h-0.8zM292.2 60.0h0.8v0.8h-0.8zM276.2 61.1h0.8v0.8h-0.8zM276.0 65.1h0.8v0.8h-0.8zM276.1 66.0h0.8v0.8h-0.8z"/>
<path fill="#463c8c" d="M281.0 34.1h0.8v0.8h-0.8zM286.0 40.2h0.8v0.8h-0.8zM302.0 42.1h0.8v0.8h-0.8zM283.1 43.2h0.8v0.8h-0.8zM288.1 43.2h0.8v0.8h-0.8zM283.2 44.1h0.8v0.8h-0.8zM298.0 45.2h0.8v0.8h-0.8zM297.0 46.0h0.8v0.8h-0.8zM273.2 47.1h0.8v0.8h-0.8zM285.1 49.0h0.8v0.8h-0.8zM283.1 50.0h0.8v0.8h-0.8zM275.0 52.0h1.0v1.0h-1.0zM274.2 53.0h0.8v0.8h-0.8zM289.1 57.0h0.8v0.8h-0.8zM283.0 61.2h0.8v0.8h-0.8zM276.2 62.1h0.8v0.8h-0.8zM276.2 63.1h0.8v0.8h-0.8zM279.1 64.1h0.8v0.8h-0.8zM282.0 64.2h0.8v0.8h-0.8zM277.1 65.2h0.8v0.8h-0.8z"/>
<path fill="#645aaa" d="M287.1 34.1h0.8v0.8h-0.8zM284.1 40.1h0.8v0.8h-0.8zM285.2 46.1h0.8v0.8h-0.8zM272.2 47.1h0.8v0.8h-0.8zM269.2 48.2h0.8v0.8h-0.8zM271.2 51.0h0.8v0.8h-0.8zM287.1 53.0h0.8v0.8h-0.8zM283.0 54.0h0.8v0.8h-0.8zM273.1 57.1h0.8v0.8h-0.8zM294.1 61.2h0.8v0.8h-0.8zM287.0 64.0h0.8v0.8h-0.8zM290.1 64.1h0.8v0.8h-0.8zM295.2 64.1h0.8v0.8h-0.8zM286.1 69.1h0.8v0.8h-0.8zM276.1 71.0h0.8v0.8h-0.8z"/>
<path fill="#1e1e64" d="M291.0 34.0h0.8v0.8h-0.8zM293.0 34.0h1.0v1.0h-1.0zM296.0 34.0h1.0v1.0h-1.0zM297.0 34.0h1.0v1.0h-1.0zM290.0 35.0h1.0v1.0h-1.0zM299.0 35.0h1.0v1.0h-1.0zM300.0 35.0h1.0v1.0h-1.0zM289.0 36.0h1.0v1.0h-1.0zM277.0 37.1h0.8v0.8h-0.8zM288.0 37.0h1.0v1.0h-1.0zM302.0 37.0h1.0v1.0h-1.0zM277.0 38.0h1.0v1.0h-1.0zM281.0 38.1h0.8v0.8h-0.8zM302.0 38.0h1.0v1.0h-1.0zM278.0 39.0h1.0v1.0h-1.0zM279.0 39.0h1.0v1.0h-1.0zM280.0 39.0h1.0v1.0h-1.0zM288.0 39.0h1.0v1.0h-1.0zM302.0 39.0h1.0v1.0h-1.0zM278.0 40.0h1.0v1.0h-1.0zM279.0 40.0h1.0v1.0h-1.0zM280.0 40.0h1.0v1.0h-1.0zM287.1 40.1h0.8v0.8h-0.8zM288.0 40.0h1.0v1.0h-1.0zM279.0 41.0h1.0v1.0h-1.0zM280.0 41.0h1.0v1.0h-1.0zM300.0 41.0h1.0v1.0h-1.0zM276.0 42.0h1.0v1.0h-1.0zM277.0 42.0h1.0v1.0h-1.0zM280.0 42.0h1.0v1.0h-1.0zM289.0 42.0h1.0v1.0h-1.0zM299.0 42.0h1.0v1.0h-1.0zM300.0 42.0h1.0v1.0h-1.0zM276.0 43.0h1.0v1.0h-1.0zM277.0 43.0h1.0v1.0h-1.0zM280.0 43.0h1.0v1.0h-1.0zM289.0 43.0h1.0v1.0h-1.0zM276.0 44.0h1.0v1.0h-1.0zM277.0 44.0h1.0v1.0h-1.0zM279.0 44.0h1.0v1.0h-1.0zM280.0 44.0h1.0v1.0h-1.0zM281.0 44.0h1.0v1.0h-1.0zM290.0 44.0h1.0v1.0h-1.0zM298.0 44.0h1.0v1.0h-1.0zM281.0 45.0h1.0v1.0h-1.0zM282.2 45.1h0.8v0.8h-0.8zM295.0 45.0h1.0v1.0h-1.0zM294.0 46.0h1.0v1.0h-1.0zM275.0 47.0h1.0v1.0h-1.0zM276.0 47.0h1.0v1.0h-1.0zM281.0 47.0h1.0v1.0h-1.0zM282.0 47.0h1.0v1.0h-1.0zM293.0 47.0h0.8v0.8h-0.8zM281.0 48.0h1.0v1.0h-1.0zM275.0 49.0h1.0v1.0h-1.0zM276.0 49.0h1.0v1.0h-1.0zM281.0 49.0h1.0v1.0h-1.0zM276.0 50.0h1.0v1.0h-1.0zM281.0 50.0h1.0v1.0h-1.0zM276.0 52.0h1.0v1.0h-1.0zM282.0 52.0h1.0v1.0h-1.0zM276.0 53.0h1.0v1.0h-1.0zM280.0 53.0h1.0v1.0h-1.0zM281.0 53.0h1.0v1.0h-1.0zM277.0 54.0h1.0v1.0h-1.0zM281.0 54.0h1.0v1.0h-1.0zM282.0 54.0h1.0v1.0h-1.0zM275.0 55.2h0.8v0.8h-0.8zM281.0 55.0h1.0v1.0h-1.0zM276.0 56.0h1.0v1.0h-1.0zM277.0 56.0h1.0v1.0h-1.0zM280.0 56.0h1.0v1.0h-1.0zM282.0 56.1h0.8v0.8h-0.8zM276.0 57.0h1.0v1.0h-1.0zM277.0 57.0h1.0v1.0h-1.0zM279.0 57.0h1.0v1.0h-1.0zM280.0 57.0h1.0v1.0h-1.0zM281.0 57.0h1.0v1.0h-1.0zM282.2 57.0h0.8v0.8h-0.8zM277.0 58.0h1.0v1.0h-1.0zM278.0 58.0h1.0v1.0h-1.0zM279.0 58.0h1.0v1.0h-1.0zM281.0 58.0h1.0v1.0h-1.0zM276.0 59.0h1.0v1.0h-1.0zM277.0 59.0h1.0v1.0h-1.0zM278.0 59.0h1.0v1.0h-1.0zM280.0 59.0h1.0v1.0h-1.0zM281.0 59.0h1.0v1.0h-1.0zM282.1 59.2h0.8v0.8h-0.8zM279.0 60.0h1.0v1.0h-1.0zM280.0 60.0h1.0v1.0h-1.0zM278.0 62.0h1.0v1.0h-1.0zM280.1 62.0h0.8v0.8h-0.8zM279.0 65.2h0.8v0.8h-0.8z"/>
<path fill="#28286e" d="M294.0 34.0h1.0v1.0h-1.0zM301.1 35.1h0.8v0.8h-0.8zM288.0 36.0h1.0v1.0h-1.0zM286.2 37.1h0.8v0.8h-0.8zM278.0 38.0h1.0v1.0h-1.0zM287.0 38.0h1.0v1.0h-1.0zM291.0 46.0h1.0v1.0h-1.0zM277.0 61.0h1.0v1.0h-1.0zM282.1 63.1h0.8v0.8h-0.8z"/>
<path fill="#281e6e" d="M298.0 34.0h1.0v1.0h-1.0zM279.0 35.1h0.8v0.8h-0.8zM278.0 37.0h1.0v1.0h-1.0zM276.0 41.0h1.0v1.0h-1.0zM289.0 44.0h0.8v0.8h-0.8zM282.0 49.0h1.0v1.0h-1.0zM281.0 56.0h1.0v1.0h-1.0zM280.0 58.0h1.0v1.0h-1.0zM277.0 60.0h1.0v1.0h-1.0zM278.1 63.1h0.8v0.8h-0.8z"/>
<path fill="#1e2864" d="M291.0 35.0h1.0v1.0h-1.0zM298.0 35.0h1.0v1.0h-1.0zM300.0 36.0h1.0v1.0h-1.0zM289.0 38.0h1.0v1.0h-1.0zM301.0 38.0h1.0v1.0h-1.0zM301.0 39.0h1.0v1.0h-1.0zM301.0 40.0h1.0v1.0h-1.0zM277.0 41.0h1.0v1.0h-1.0zM278.0 41.0h1.0v1.0h-1.0zM289.0 41.0h1.0v1.0h-1.0zM278.0 42.0h1.0v1.0h-1.0zM279.0 42.0h1.0v1.0h-1.0zM279.0 43.0h1.0v1.0h-1.0zM278.0 44.0h1.0v1.0h-1.0zM291.0 45.0h1.0v1.0h-1.0zM296.0 45.0h1.0v1.0h-1.0zM277.0 46.0h1.0v1.0h-1.0zM278.0 46.0h1.0v1.0h-1.0zM280.0 46.0h1.0v1.0h-1.0zM277.0 47.0h1.0v1.0h-1.0zM276.0 48.0h1.0v1.0h-1.0zM277.0 52.0h1.0v1.0h-1.0zM281.0 52.0h1.0v1.0h-1.0zM278.0 57.0h1.0v1.0h-1.0zM278.0 60.0h1.0v1.0h-1.0zM279.0 61.0h1.0v1.0h-1.0z"/>
<path fill="#142864" d="M293.0 35.0h1.0v1.0h-1.0zM294.0 35.0h1.0v1.0h-1.0zM295.0 35.0h1.0v1.0h-1.0zM296.0 35.0h1.0v1.0h-1.0zM297.0 35.0h1.0v1.0h-1.0zM291.0 36.0h1.0v1.0h-1.0zM299.0 36.0h1.0v1.0h-1.0zM289.0 37.0h1.0v1.0h-1.0zM300.0 37.0h1.0v1.0h-1.0zM300.0 39.0h1.0v1.0h-1.0zM289.0 40.0h1.0v1.0h-1.0zM300.0 40.0h1.0v1.0h-1.0zM290.0 42.0h1.0v1.0h-1.0zM298.0 42.0h1.0v1.0h-1.0zM278.0 43.0h1.0v1.0h-1.0zM290.0 43.0h1.0v1.0h-1.0zM297.0 44.0h1.0v1.0h-1.0zM278.0 45.0h1.0v1.0h-1.0zM279.0 45.0h1.0v1.0h-1.0zM280.0 45.0h1.0v1.0h-1.0zM279.0 46.0h1.0v1.0h-1.0zM293.0 46.0h1.0v1.0h-1.0zM278.0 47.0h1.0v1.0h-1.0zM279.0 47.0h1.0v1.0h-1.0zM280.0 47.0h1.0v1.0h-1.0zM277.0 48.0h1.0v1.0h-1.0zM278.0 48.0h1.0v1.0h-1.0zM279.0 48.0h1.0v1.0h-1.0zM280.0 48.0h1.0v1.0h-1.0zM278.0 49.0h1.0v1.0h-1.0zM277.0 50.0h1.0v1.0h-1.0zM278.0 50.0h1.0v1.0h-1.0zM279.0 50.0h1.0v1.0h-1.0zM280.0 50.0h1.0v1.0h-1.0zM277.0 51.0h1.0v1.0h-1.0zM278.0 51.0h1.0v1.0h-1.0zM279.0 51.0h1.0v1.0h-1.0zM280.0 51.0h1.0v1.0h-1.0zM278.0 52.0h1.0v1.0h-1.0zM279.0 52.0h1.0v1.0h-1.0zM280.0 52.0h1.0v1.0h-1.0zM277.0 53.0h1.0v1.0h-1.0zM278.0 53.0h1.0v1.0h-1.0zM278.0 54.0h1.0v1.0h-1.0zM279.0 54.0h1.0v1.0h-1.0zM280.0 54.0h1.0v1.0h-1.0zM278.0 55.0h1.0v1.0h-1.0zM279.0 55.0h1.0v1.0h-1.0zM278.0 56.0h1.0v1.0h-1.0zM279.0 56.0h1.0v1.0h-1.0z"/>
<path fill="#aaaac8" d="M272.1 36.0h0.8v0.8h-0.8zM310.1 42.1h0.8v0.8h-0.8zM269.0 60.1h0.8v0.8h-0.8zM273.1 66.0h0.8v0.8h-0.8zM272.1 70.0h0.8v0.8h-0.8zM288.2 72.1h0.8v0.8h-0.8zM291.1 72.1h0.8v0.8h-0.8z"/>
<path fill="#145078" d="M292.0 36.0h1.0v1.0h-1.0zM297.0 36.0h1.0v1.0h-1.0zM294.0 44.0h1.0v1.0h-1.0z"/>
<path fill="#14648c" d="M293.0 36.0h1.0v1.0h-1.0z"/>
<path fill="#146e8c" d="M294.0 36.0h1.0v1.0h-1.0zM298.0 37.0h1.0v1.0h-1.0zM291.0 40.0h1.0v1.0h-1.0zM292.0 41.0h1.0v1.0h-1.0zM297.0 41.0h1.0v1.0h-1.0zM296.0 42.0h1.0v1.0h-1.0z"/>
<path fill="#148296" d="M295.0 36.0h1.0v1.0h-1.0zM293.0 37.0h1.0v1.0h-1.0zM292.0 40.0h1.0v1.0h-1.0zM298.0 40.0h1.0v1.0h-1.0zM296.0 41.0h1.0v1.0h-1.0zM295.0 42.0h1.0v1.0h-1.0z"/>
<path fill="#145a82" d="M296.0 36.0h1.0v1.0h-1.0zM291.0 37.0h1.0v1.0h-1.0zM299.0 38.0h1.0v1.0h-1.0zM291.0 39.0h1.0v1.0h-1.0zM291.0 41.0h1.0v1.0h-1.0zM295.0 43.0h1.0v1.0h-1.0zM293.0 44.0h1.0v1.0h-1.0z"/>
<path fill="#14326e" d="M298.0 36.0h1.0v1.0h-1.0zM299.0 41.0h1.0v1.0h-1.0zM291.0 43.0h1.0v1.0h-1.0zM297.0 43.0h1.0v1.0h-1.0zM279.0 49.0h1.0v1.0h-1.0z"/>
<path fill="#3c3c82" d="M281.1 37.0h0.8v0.8h-0.8zM303.0 40.1h0.8v0.8h-0.8zM282.2 42.2h0.8v0.8h-0.8zM299.1 44.1h0.8v0.8h-0.8zM283.0 49.1h0.8v0.8h-0.8zM284.1 50.1h0.8v0.8h-0.8zM275.2 56.1h0.8v0.8h-0.8zM285.2 59.1h0.8v0.8h-0.8zM289.0 60.1h0.8v0.8h-0.8z"/>
<path fill="#144678" d="M290.0 37.0h1.0v1.0h-1.0zM299.0 37.0h1.0v1.0h-1.0zM290.0 38.0h1.0v1.0h-1.0zM299.0 39.0h1.0v1.0h-1.0zM298.0 41.0h1.0v1.0h-1.0zM297.0 42.0h1.0v1.0h-1.0zM292.0 44.0h1.0v1.0h-1.0zM295.0 44.0h1.0v1.0h-1.0z"/>
<path fill="#148ca0" d="M292.0 37.0h1.0v1.0h-1.0zM297.0 38.0h1.0v1.0h-1.0zM298.0 38.0h1.0v1.0h-1.0zM292.0 42.0h1.0v1.0h-1.0zM294.0 43.0h1.0v1.0h-1.0z"/>
<path fill="#28a08c" d="M294.0 37.0h1.0v1.0h-1.0z"/>
<path fill="#32a082" d="M295.0 37.0h1.0v1.0h-1.0zM292.0 38.0h1.0v1.0h-1.0zM297.0 40.0h1.0v1.0h-1.0zM294.0 42.0h1.0v1.0h-1.0z"/>
<path fill="#1e96a0" d="M296.0 37.0h1.0v1.0h-1.0zM293.0 42.0h1.0v1.0h-1.0z"/>
<path fill="#1e9696" d="M297.0 37.0h1.0v1.0h-1.0z"/>
<path fill="#786eb4" d="M274.2 38.0h0.8v0.8h-0.8zM306.1 40.1h0.8v0.8h-0.8zM271.0 52.0h0.8v0.8h-0.8zM286.1 53.2h0.8v0.8h-0.8zM291.1 64.1h0.8v0.8h-0.8zM316.1 66.0h0.8v0.8h-0.8z"/>
<path fill="#145082" d="M291.0 38.0h1.0v1.0h-1.0zM291.0 42.0h1.0v1.0h-1.0zM292.0 43.0h1.0v1.0h-1.0zM296.0 43.0h1.0v1.0h-1.0z"/>
<path fill="#6ebe46" d="M293.0 38.0h1.0v1.0h-1.0z"/>
<path fill="#a0c832" d="M294.0 38.0h1.0v1.0h-1.0zM294.0 40.0h1.0v1.0h-1.0z"/>
<path fill="#64be46" d="M295.0 38.0h1.0v1.0h-1.0z"/>
<path fill="#46b45a" d="M296.0 38.0h1.0v1.0h-1.0zM295.0 40.0h1.0v1.0h-1.0zM296.0 40.0h1.0v1.0h-1.0z"/>
<path fill="#143c6e" d="M300.0 38.0h1.0v1.0h-1.0zM290.0 40.0h1.0v1.0h-1.0zM299.0 40.0h1.0v1.0h-1.0zM290.0 41.0h1.0v1.0h-1.0zM293.0 45.0h1.0v1.0h-1.0zM294.0 45.0h1.0v1.0h-1.0z"/>
<path fill="#a0a0c8" d="M272.1 39.1h0.8v0.8h-0.8zM293.1 50.1h0.8v0.8h-0.8zM298.1 61.0h0.8v0.8h-0.8zM300.2 61.2h0.8v0.8h-0.8z"/>
<path fill="#143264" d="M289.0 39.0h1.0v1.0h-1.0zM296.0 44.0h1.0v1.0h-1.0zM292.0 45.0h1.0v1.0h-1.0zM279.0 53.0h1.0v1.0h-1.0z"/>
<path fill="#143c78" d="M290.0 39.0h1.0v1.0h-1.0z"/>
<path fill="#32aa78" d="M292.0 39.0h1.0v1.0h-1.0zM297.0 39.0h1.0v1.0h-1.0zM293.0 41.0h1.0v1.0h-1.0z"/>
<path fill="#aac832" d="M293.0 39.0h1.0v1.0h-1.0zM296.0 39.0h1.0v1.0h-1.0z"/>
<path fill="#82c83c" d="M294.0 39.0h1.0v1.0h-1.0z"/>
<path fill="#bed228" d="M295.0 39.0h1.0v1.0h-1.0z"/>
<path fill="#147896" d="M298.0 39.0h1.0v1.0h-1.0zM293.0 43.0h1.0v1.0h-1.0z"/>
<path fill="#5abe46" d="M293.0 40.0h1.0v1.0h-1.0zM295.0 41.0h1.0v1.0h-1.0z"/>
<path fill="#46b464" d="M294.0 41.0h1.0v1.0h-1.0z"/>
<path fill="#7878b4" d="M289.1 49.1h0.8v0.8h-0.8zM289.2 50.1h0.8v0.8h-0.8zM294.1 62.0h0.8v0.8h-0.8zM297.2 65.1h0.8v0.8h-0.8zM288.0 68.1h0.8v0.8h-0.8zM273.0 71.2h0.8v0.8h-0.8z"/>
<path fill="#968cbe" d="M296.0 50.0h0.8v0.8h-0.8zM296.2 62.2h0.8v0.8h-0.8zM291.1 71.0h0.8v0.8h-0.8zM278.1 74.0h0.8v0.8h-0.8z"/>
<path fill="#786eaa" d="M289.1 55.1h0.8v0.8h-0.8zM293.1 66.0h0.8v0.8h-0.8z"/>
<path fill="#a096be" d="M300.1 58.1h0.8v0.8h-0.8zM275.1 69.1h0.8v0.8h-0.8z"/>
<path fill="#505096" d="M275.2 59.1h0.8v0.8h-0.8z"/>
<path fill="#8278b4" d="M286.1 60.1h0.8v0.8h-0.8zM290.0 63.2h0.8v0.8h-0.8zM276.2 67.1h0.8v0.8h-0.8zM285.1 67.1h0.8v0.8h-0.8zM292.1 72.1h0.8v0.8h-0.8z"/>
<path fill="#a0a0be" d="M288.2 69.1h0.8v0.8h-0.8z"/>
<rect x="268" y="26.5" width="49.60000000000002" height="48.8" fill="none" stroke="#777" stroke-width="0.8"/>
<rect x="269.5" y="28.5" width="35.0" height="46.5" fill="none" stroke="#999" stroke-width="0.7"/>
<path d="M287 28.5V48.2H304.5" fill="none" stroke="#999" stroke-width="0.8"/>
<line x1="260" y1="36" x2="260" y2="78" stroke="#111" stroke-width="1"/>
<polygon points="258,37 262,37 260,32.5" fill="#111"/>
<line x1="266.7" y1="84.2" x2="309.5" y2="84.2" stroke="#111" stroke-width="1"/>
<polygon points="308.5,82.2 308.5,86.2 313.0,84.2" fill="#111"/>
<g transform="translate(254.70,55.20) rotate(-90) scale(1.0,1)"><text x="0" y="0" font-size="10.4" text-anchor="middle" font-weight="bold" textLength="26.2" lengthAdjust="spacingAndGlyphs">CD45RA</text></g>
<text x="281.00" y="97.00" font-size="10.2" text-anchor="start" font-weight="bold" textLength="16.5" lengthAdjust="spacingAndGlyphs" >CCR7</text>
<path fill="#7878b4" d="M294.2 137.1h0.8v0.8h-0.8zM278.1 179.0h0.8v0.8h-0.8z"/>
<path fill="#8278b4" d="M295.1 138.1h0.8v0.8h-0.8zM290.1 141.0h0.8v0.8h-0.8zM297.1 141.0h0.8v0.8h-0.8zM286.0 147.0h0.8v0.8h-0.8zM293.2 179.0h0.8v0.8h-0.8z"/>
<path fill="#5a50a0" d="M290.1 139.2h0.8v0.8h-0.8zM294.1 140.2h0.8v0.8h-0.8zM295.1 140.2h0.8v0.8h-0.8zM299.1 144.2h0.8v0.8h-0.8zM302.1 147.1h0.8v0.8h-0.8zM286.1 151.2h0.8v0.8h-0.8zM279.1 153.1h0.8v0.8h-0.8zM284.0 154.1h0.8v0.8h-0.8zM302.1 154.0h0.8v0.8h-0.8zM279.1 155.1h0.8v0.8h-0.8zM284.1 156.1h0.8v0.8h-0.8zM285.0 156.1h0.8v0.8h-0.8zM276.1 157.0h0.8v0.8h-0.8zM279.1 157.0h0.8v0.8h-0.8zM302.2 158.1h0.8v0.8h-0.8zM277.2 160.1h0.8v0.8h-0.8zM300.0 163.1h0.8v0.8h-0.8zM269.1 164.0h0.8v0.8h-0.8zM271.1 164.2h0.8v0.8h-0.8zM305.0 166.2h0.8v0.8h-0.8zM303.1 167.0h0.8v0.8h-0.8zM298.1 173.0h0.8v0.8h-0.8zM300.1 174.0h0.8v0.8h-0.8zM270.2 175.2h0.8v0.8h-0.8zM293.0 175.0h0.8v0.8h-0.8zM269.1 176.1h0.8v0.8h-0.8zM270.1 176.1h0.8v0.8h-0.8zM271.2 176.0h0.8v0.8h-0.8zM274.1 176.1h0.8v0.8h-0.8zM276.0 176.0h0.8v0.8h-0.8zM281.1 176.2h0.8v0.8h-0.8zM287.0 177.1h0.8v0.8h-0.8z"/>
<path fill="#aaaac8" d="M297.1 139.1h0.8v0.8h-0.8zM307.1 161.1h0.8v0.8h-0.8zM312.0 161.2h0.8v0.8h-0.8z"/>
<path fill="#645aaa" d="M292.1 140.2h0.8v0.8h-0.8zM298.1 141.1h0.8v0.8h-0.8zM278.0 153.1h0.8v0.8h-0.8zM283.2 153.2h0.8v0.8h-0.8zM274.2 157.0h0.8v0.8h-0.8zM275.0 158.0h0.8v0.8h-0.8zM276.1 158.0h0.8v0.8h-0.8zM301.0 161.2h0.8v0.8h-0.8zM268.2 167.1h0.8v0.8h-0.8zM301.1 168.0h0.8v0.8h-0.8zM303.0 168.1h0.8v0.8h-0.8zM284.0 177.1h0.8v0.8h-0.8z"/>
<path fill="#786eb4" d="M298.2 140.1h0.8v0.8h-0.8zM285.2 148.2h0.8v0.8h-0.8zM302.1 152.2h0.8v0.8h-0.8zM275.0 156.0h0.8v0.8h-0.8z"/>
<path fill="#463c8c" d="M293.2 141.1h0.8v0.8h-0.8zM288.0 144.0h0.8v0.8h-0.8zM289.0 145.0h0.8v0.8h-0.8zM287.0 147.2h0.8v0.8h-0.8zM301.0 154.2h0.8v0.8h-0.8zM286.1 155.0h0.8v0.8h-0.8zM301.1 156.1h0.8v0.8h-0.8zM278.2 158.2h0.8v0.8h-0.8zM279.2 158.2h0.8v0.8h-0.8zM299.0 158.1h0.8v0.8h-0.8zM281.0 159.1h0.8v0.8h-0.8zM281.2 160.1h0.8v0.8h-0.8zM276.2 161.1h0.8v0.8h-0.8zM279.2 161.2h0.8v0.8h-0.8zM283.1 161.2h0.8v0.8h-0.8zM276.0 163.0h0.8v0.8h-0.8zM279.0 163.0h1.0v1.0h-1.0zM274.2 165.1h0.8v0.8h-0.8zM300.1 167.1h0.8v0.8h-0.8zM301.1 167.2h0.8v0.8h-0.8zM269.1 168.1h0.8v0.8h-0.8zM298.1 171.1h0.8v0.8h-0.8zM300.2 171.1h0.8v0.8h-0.8zM295.1 174.1h0.8v0.8h-0.8zM279.2 176.2h0.8v0.8h-0.8zM279.0 177.1h0.8v0.8h-0.8zM281.1 177.2h0.8v0.8h-0.8z"/>
<path fill="#9696be" d="M309.1 141.1h0.8v0.8h-0.8zM272.0 145.1h0.8v0.8h-0.8zM271.0 179.2h0.8v0.8h-0.8z"/>
<path fill="#6e64aa" d="M291.1 142.0h0.8v0.8h-0.8zM301.2 145.0h0.8v0.8h-0.8zM286.0 148.2h0.8v0.8h-0.8zM301.1 158.1h0.8v0.8h-0.8zM275.2 161.1h0.8v0.8h-0.8zM273.1 162.2h0.8v0.8h-0.8zM302.1 167.2h0.8v0.8h-0.8zM302.0 171.1h0.8v0.8h-0.8zM300.2 172.1h0.8v0.8h-0.8zM296.0 173.0h0.8v0.8h-0.8z"/>
<path fill="#281e6e" d="M292.1 142.1h0.8v0.8h-0.8zM300.0 145.0h0.8v0.8h-0.8zM288.0 152.0h1.0v1.0h-1.0zM283.1 159.0h0.8v0.8h-0.8zM287.0 159.0h1.0v1.0h-1.0zM277.0 162.2h0.8v0.8h-0.8zM284.0 162.0h1.0v1.0h-1.0zM285.0 162.0h1.0v1.0h-1.0zM273.0 167.0h1.0v1.0h-1.0zM271.0 168.0h1.0v1.0h-1.0zM299.0 168.2h0.8v0.8h-0.8zM298.1 170.2h0.8v0.8h-0.8zM273.0 173.0h1.0v1.0h-1.0zM294.0 173.1h0.8v0.8h-0.8zM274.0 174.0h1.0v1.0h-1.0zM292.1 174.1h0.8v0.8h-0.8zM280.0 175.0h1.0v1.0h-1.0zM284.1 176.0h0.8v0.8h-0.8z"/>
<path fill="#3c3282" d="M294.0 142.2h0.8v0.8h-0.8zM297.0 142.1h0.8v0.8h-0.8zM291.1 143.2h0.8v0.8h-0.8zM288.2 148.0h0.8v0.8h-0.8zM288.0 149.0h0.8v0.8h-0.8zM301.0 149.0h0.8v0.8h-0.8zM288.0 151.0h1.0v1.0h-1.0zM286.1 152.1h0.8v0.8h-0.8zM288.0 155.0h1.0v1.0h-1.0zM280.1 156.1h0.8v0.8h-0.8zM280.2 157.1h0.8v0.8h-0.8zM281.2 157.1h0.8v0.8h-0.8zM286.2 158.2h0.8v0.8h-0.8zM282.0 160.1h0.8v0.8h-0.8zM299.0 160.1h0.8v0.8h-0.8zM270.1 167.0h0.8v0.8h-0.8zM270.2 168.1h0.8v0.8h-0.8zM268.2 172.2h0.8v0.8h-0.8zM295.1 173.1h0.8v0.8h-0.8zM273.0 174.0h1.0v1.0h-1.0z"/>
<path fill="#323278" d="M295.1 142.1h0.8v0.8h-0.8zM290.1 144.1h0.8v0.8h-0.8zM289.0 147.0h1.0v1.0h-1.0zM287.1 148.1h0.8v0.8h-0.8zM298.0 162.0h1.0v1.0h-1.0zM277.1 163.1h0.8v0.8h-0.8zM271.1 167.0h0.8v0.8h-0.8zM272.0 170.0h1.0v1.0h-1.0zM299.1 170.1h0.8v0.8h-0.8zM297.0 171.1h0.8v0.8h-0.8zM275.0 176.2h0.8v0.8h-0.8zM282.2 176.2h0.8v0.8h-0.8z"/>
<path fill="#322878" d="M296.0 142.0h0.8v0.8h-0.8zM288.0 154.0h1.0v1.0h-1.0zM287.0 156.1h0.8v0.8h-0.8zM289.0 156.0h1.0v1.0h-1.0zM286.0 157.2h0.8v0.8h-0.8zM283.1 160.1h0.8v0.8h-0.8zM298.0 166.0h1.0v1.0h-1.0zM299.0 166.0h1.0v1.0h-1.0zM270.2 169.0h0.8v0.8h-0.8zM298.0 169.0h1.0v1.0h-1.0zM270.1 172.1h0.8v0.8h-0.8zM283.1 176.2h0.8v0.8h-0.8z"/>
<path fill="#504696" d="M298.1 142.2h0.8v0.8h-0.8zM289.1 144.2h0.8v0.8h-0.8zM288.0 147.0h0.8v0.8h-0.8zM302.1 148.1h0.8v0.8h-0.8zM284.1 151.0h0.8v0.8h-0.8zM281.1 153.1h0.8v0.8h-0.8zM284.0 153.2h0.8v0.8h-0.8zM287.1 155.1h0.8v0.8h-0.8zM301.1 155.1h0.8v0.8h-0.8zM281.2 158.2h0.8v0.8h-0.8zM280.1 159.2h0.8v0.8h-0.8zM301.0 159.0h0.8v0.8h-0.8zM300.2 160.1h0.8v0.8h-0.8zM300.1 161.0h0.8v0.8h-0.8zM275.0 162.1h0.8v0.8h-0.8zM273.1 163.2h0.8v0.8h-0.8zM273.1 164.1h0.8v0.8h-0.8zM301.0 166.0h0.8v0.8h-0.8zM301.1 169.0h0.8v0.8h-0.8zM287.1 176.2h0.8v0.8h-0.8zM275.0 177.1h0.8v0.8h-0.8z"/>
<path fill="#1e1e64" d="M292.0 143.0h1.0v1.0h-1.0zM293.0 143.0h1.0v1.0h-1.0zM294.0 143.0h1.0v1.0h-1.0zM295.0 143.0h1.0v1.0h-1.0zM296.0 143.0h1.0v1.0h-1.0zM291.0 144.0h1.0v1.0h-1.0zM292.0 144.0h1.0v1.0h-1.0zM296.0 144.0h1.0v1.0h-1.0zM297.0 144.0h1.0v1.0h-1.0zM298.0 144.0h1.0v1.0h-1.0zM291.0 145.0h1.0v1.0h-1.0zM289.0 146.1h0.8v0.8h-0.8zM290.0 146.0h1.0v1.0h-1.0zM300.0 148.0h1.0v1.0h-1.0zM289.0 149.0h1.0v1.0h-1.0zM300.0 149.0h1.0v1.0h-1.0zM289.0 150.0h1.0v1.0h-1.0zM300.0 150.0h1.0v1.0h-1.0zM289.0 151.0h1.0v1.0h-1.0zM300.0 151.0h1.0v1.0h-1.0zM300.0 152.0h1.0v1.0h-1.0zM289.0 154.0h1.0v1.0h-1.0zM298.0 154.0h1.0v1.0h-1.0zM299.0 154.0h1.0v1.0h-1.0zM289.0 155.0h1.0v1.0h-1.0zM299.0 155.0h1.0v1.0h-1.0zM289.0 157.0h1.0v1.0h-1.0zM297.0 157.0h1.0v1.0h-1.0zM298.0 157.0h1.0v1.0h-1.0zM288.0 158.0h1.0v1.0h-1.0zM289.0 158.0h1.0v1.0h-1.0zM297.0 158.0h1.0v1.0h-1.0zM298.0 158.0h1.0v1.0h-1.0zM297.0 159.0h1.0v1.0h-1.0zM298.0 159.0h1.0v1.0h-1.0zM287.0 160.0h1.0v1.0h-1.0zM288.0 160.0h1.0v1.0h-1.0zM297.0 160.0h1.0v1.0h-1.0zM298.0 160.0h1.0v1.0h-1.0zM286.0 161.0h1.0v1.0h-1.0zM296.0 161.0h1.0v1.0h-1.0zM298.0 161.0h1.0v1.0h-1.0zM279.0 162.1h0.8v0.8h-0.8zM283.1 162.0h0.8v0.8h-0.8zM286.0 162.0h1.0v1.0h-1.0zM296.0 162.0h1.0v1.0h-1.0zM297.0 162.0h1.0v1.0h-1.0zM281.0 163.0h1.0v1.0h-1.0zM283.0 163.0h1.0v1.0h-1.0zM284.0 163.0h1.0v1.0h-1.0zM285.0 163.0h1.0v1.0h-1.0zM296.0 163.0h1.0v1.0h-1.0zM277.0 164.0h1.0v1.0h-1.0zM280.0 164.0h1.0v1.0h-1.0zM282.0 164.0h1.0v1.0h-1.0zM283.0 164.0h1.0v1.0h-1.0zM296.0 164.0h1.0v1.0h-1.0zM297.0 164.0h1.0v1.0h-1.0zM298.0 164.0h1.0v1.0h-1.0zM275.0 165.0h1.0v1.0h-1.0zM276.0 165.0h1.0v1.0h-1.0zM278.0 165.0h1.0v1.0h-1.0zM282.0 165.0h1.0v1.0h-1.0zM296.0 165.0h1.0v1.0h-1.0zM297.0 165.0h1.0v1.0h-1.0zM272.2 166.2h0.8v0.8h-0.8zM274.0 166.0h1.0v1.0h-1.0zM275.0 166.0h1.0v1.0h-1.0zM276.0 166.0h1.0v1.0h-1.0zM296.0 166.0h1.0v1.0h-1.0zM297.0 166.0h1.0v1.0h-1.0zM274.0 167.0h1.0v1.0h-1.0zM275.0 167.0h1.0v1.0h-1.0zM296.0 167.0h1.0v1.0h-1.0zM297.0 167.0h1.0v1.0h-1.0zM298.0 167.0h1.0v1.0h-1.0zM273.0 168.0h1.0v1.0h-1.0zM274.0 168.0h1.0v1.0h-1.0zM275.0 168.0h1.0v1.0h-1.0zM276.0 168.0h1.0v1.0h-1.0zM298.0 168.0h1.0v1.0h-1.0zM271.0 169.0h1.0v1.0h-1.0zM272.0 169.0h1.0v1.0h-1.0zM273.0 169.0h1.0v1.0h-1.0zM275.0 169.0h1.0v1.0h-1.0zM295.0 169.0h1.0v1.0h-1.0zM296.0 169.0h1.0v1.0h-1.0zM299.0 169.0h0.8v0.8h-0.8zM271.0 170.0h1.0v1.0h-1.0zM273.0 170.0h1.0v1.0h-1.0zM296.0 170.0h1.0v1.0h-1.0zM271.0 171.0h1.0v1.0h-1.0zM272.0 171.0h1.0v1.0h-1.0zM274.0 171.0h1.0v1.0h-1.0zM294.0 171.0h1.0v1.0h-1.0zM295.0 171.0h1.0v1.0h-1.0zM296.0 171.0h1.0v1.0h-1.0zM272.0 172.0h1.0v1.0h-1.0zM273.0 172.0h1.0v1.0h-1.0zM274.0 172.0h1.0v1.0h-1.0zM293.0 172.0h1.0v1.0h-1.0zM294.0 172.0h1.0v1.0h-1.0zM295.0 172.0h1.0v1.0h-1.0zM270.0 173.2h0.8v0.8h-0.8zM274.0 173.0h1.0v1.0h-1.0zM275.0 174.0h1.0v1.0h-1.0zM278.0 174.0h1.0v1.0h-1.0zM287.0 174.0h1.0v1.0h-1.0zM288.0 174.0h1.0v1.0h-1.0zM289.0 174.0h1.0v1.0h-1.0zM290.0 174.0h1.0v1.0h-1.0zM291.0 174.0h1.0v1.0h-1.0zM277.0 175.0h1.0v1.0h-1.0zM278.0 175.0h1.0v1.0h-1.0zM279.0 175.0h1.0v1.0h-1.0zM281.0 175.0h1.0v1.0h-1.0zM282.0 175.0h1.0v1.0h-1.0zM283.0 175.0h1.0v1.0h-1.0zM285.0 175.0h1.0v1.0h-1.0zM286.0 175.0h1.0v1.0h-1.0zM287.0 175.0h1.0v1.0h-1.0z"/>
<path fill="#1e2864" d="M293.0 144.0h1.0v1.0h-1.0zM290.0 147.0h1.0v1.0h-1.0zM289.0 152.0h1.0v1.0h-1.0zM290.0 153.0h1.0v1.0h-1.0zM291.0 155.0h1.0v1.0h-1.0zM298.0 155.0h1.0v1.0h-1.0zM298.0 156.0h1.0v1.0h-1.0zM288.0 159.0h1.0v1.0h-1.0zM296.0 159.0h1.0v1.0h-1.0zM289.0 160.0h1.0v1.0h-1.0zM295.0 160.0h1.0v1.0h-1.0zM296.0 160.0h1.0v1.0h-1.0zM287.0 162.0h1.0v1.0h-1.0zM288.0 163.0h1.0v1.0h-1.0zM286.0 164.0h1.0v1.0h-1.0zM277.0 165.0h1.0v1.0h-1.0zM279.0 165.0h1.0v1.0h-1.0zM281.0 165.0h1.0v1.0h-1.0zM280.0 166.0h1.0v1.0h-1.0zM276.0 167.0h1.0v1.0h-1.0zM278.0 168.0h1.0v1.0h-1.0zM296.0 168.0h1.0v1.0h-1.0zM274.0 169.0h1.0v1.0h-1.0zM277.0 169.0h1.0v1.0h-1.0zM293.0 170.0h1.0v1.0h-1.0zM275.0 173.0h1.0v1.0h-1.0zM290.0 173.0h1.0v1.0h-1.0zM291.0 173.0h1.0v1.0h-1.0zM277.0 174.0h1.0v1.0h-1.0z"/>
<path fill="#142864" d="M294.0 144.0h1.0v1.0h-1.0zM295.0 144.0h1.0v1.0h-1.0zM297.0 145.0h1.0v1.0h-1.0zM298.0 145.0h1.0v1.0h-1.0zM291.0 146.0h1.0v1.0h-1.0zM298.0 146.0h1.0v1.0h-1.0zM291.0 147.0h1.0v1.0h-1.0zM299.0 147.0h1.0v1.0h-1.0zM290.0 148.0h1.0v1.0h-1.0zM299.0 148.0h1.0v1.0h-1.0zM290.0 149.0h1.0v1.0h-1.0zM299.0 149.0h1.0v1.0h-1.0zM290.0 150.0h1.0v1.0h-1.0zM290.0 151.0h1.0v1.0h-1.0zM299.0 151.0h1.0v1.0h-1.0zM290.0 152.0h1.0v1.0h-1.0zM299.0 152.0h1.0v1.0h-1.0zM299.0 153.0h1.0v1.0h-1.0zM291.0 154.0h1.0v1.0h-1.0zM290.0 155.0h1.0v1.0h-1.0zM290.0 156.0h1.0v1.0h-1.0zM291.0 156.0h1.0v1.0h-1.0zM297.0 156.0h1.0v1.0h-1.0zM291.0 157.0h1.0v1.0h-1.0zM290.0 158.0h1.0v1.0h-1.0zM293.0 158.0h1.0v1.0h-1.0zM289.0 159.0h1.0v1.0h-1.0zM290.0 159.0h1.0v1.0h-1.0zM295.0 159.0h1.0v1.0h-1.0zM288.0 161.0h1.0v1.0h-1.0zM289.0 161.0h1.0v1.0h-1.0zM288.0 162.0h1.0v1.0h-1.0zM289.0 162.0h1.0v1.0h-1.0zM294.0 162.0h1.0v1.0h-1.0zM295.0 162.0h1.0v1.0h-1.0zM286.0 163.0h1.0v1.0h-1.0zM289.0 163.0h1.0v1.0h-1.0zM290.0 163.0h1.0v1.0h-1.0zM294.0 163.0h1.0v1.0h-1.0zM295.0 163.0h1.0v1.0h-1.0zM285.0 164.0h1.0v1.0h-1.0zM287.0 164.0h1.0v1.0h-1.0zM288.0 164.0h1.0v1.0h-1.0zM291.0 164.0h1.0v1.0h-1.0zM292.0 164.0h1.0v1.0h-1.0zM294.0 164.0h1.0v1.0h-1.0zM295.0 164.0h1.0v1.0h-1.0zM280.0 165.0h1.0v1.0h-1.0zM283.0 165.0h1.0v1.0h-1.0zM284.0 165.0h1.0v1.0h-1.0zM288.0 165.0h1.0v1.0h-1.0zM291.0 165.0h1.0v1.0h-1.0zM292.0 165.0h1.0v1.0h-1.0zM293.0 165.0h1.0v1.0h-1.0zM294.0 165.0h1.0v1.0h-1.0zM295.0 165.0h1.0v1.0h-1.0zM277.0 166.0h1.0v1.0h-1.0zM278.0 166.0h1.0v1.0h-1.0zM281.0 166.0h1.0v1.0h-1.0zM283.0 166.0h1.0v1.0h-1.0zM291.0 166.0h1.0v1.0h-1.0zM294.0 166.0h1.0v1.0h-1.0zM295.0 166.0h1.0v1.0h-1.0zM277.0 167.0h1.0v1.0h-1.0zM278.0 167.0h1.0v1.0h-1.0zM279.0 167.0h1.0v1.0h-1.0zM282.0 167.0h1.0v1.0h-1.0zM293.0 167.0h1.0v1.0h-1.0zM294.0 167.0h1.0v1.0h-1.0zM295.0 167.0h1.0v1.0h-1.0zM277.0 168.0h1.0v1.0h-1.0zM279.0 168.0h1.0v1.0h-1.0zM291.0 168.0h1.0v1.0h-1.0zM294.0 168.0h1.0v1.0h-1.0zM295.0 168.0h1.0v1.0h-1.0zM276.0 169.0h1.0v1.0h-1.0zM292.0 169.0h1.0v1.0h-1.0zM293.0 169.0h1.0v1.0h-1.0zM294.0 169.0h1.0v1.0h-1.0zM274.0 170.0h1.0v1.0h-1.0zM275.0 170.0h1.0v1.0h-1.0zM276.0 170.0h1.0v1.0h-1.0zM277.0 170.0h1.0v1.0h-1.0zM294.0 170.0h1.0v1.0h-1.0zM275.0 171.0h1.0v1.0h-1.0zM278.0 171.0h1.0v1.0h-1.0zM291.0 171.0h1.0v1.0h-1.0zM292.0 171.0h1.0v1.0h-1.0zM293.0 171.0h1.0v1.0h-1.0zM275.0 172.0h1.0v1.0h-1.0zM276.0 172.0h1.0v1.0h-1.0zM277.0 172.0h1.0v1.0h-1.0zM279.0 172.0h1.0v1.0h-1.0zM291.0 172.0h1.0v1.0h-1.0zM292.0 172.0h1.0v1.0h-1.0zM277.0 173.0h1.0v1.0h-1.0zM278.0 173.0h1.0v1.0h-1.0zM279.0 173.0h1.0v1.0h-1.0zM280.0 173.0h1.0v1.0h-1.0zM281.0 173.0h1.0v1.0h-1.0zM282.0 173.0h1.0v1.0h-1.0zM286.0 173.0h1.0v1.0h-1.0zM288.0 173.0h1.0v1.0h-1.0zM289.0 173.0h1.0v1.0h-1.0zM279.0 174.0h1.0v1.0h-1.0zM282.0 174.0h1.0v1.0h-1.0zM283.0 174.0h1.0v1.0h-1.0zM284.0 174.0h1.0v1.0h-1.0zM286.0 174.0h1.0v1.0h-1.0z"/>
<path fill="#8c82b4" d="M306.0 144.0h0.8v0.8h-0.8zM271.1 163.1h0.8v0.8h-0.8zM273.1 178.2h0.8v0.8h-0.8z"/>
<path fill="#143c6e" d="M293.0 145.0h1.0v1.0h-1.0zM296.0 145.0h1.0v1.0h-1.0zM291.0 148.0h1.0v1.0h-1.0zM291.0 152.0h1.0v1.0h-1.0zM291.0 153.0h1.0v1.0h-1.0zM298.0 153.0h1.0v1.0h-1.0zM294.0 157.0h1.0v1.0h-1.0zM294.0 158.0h1.0v1.0h-1.0zM293.0 159.0h1.0v1.0h-1.0zM291.0 160.0h1.0v1.0h-1.0zM294.0 160.0h1.0v1.0h-1.0zM293.0 161.0h1.0v1.0h-1.0zM290.0 162.0h1.0v1.0h-1.0zM293.0 162.0h1.0v1.0h-1.0zM293.0 163.0h1.0v1.0h-1.0zM289.0 165.0h1.0v1.0h-1.0zM282.0 166.0h1.0v1.0h-1.0zM284.0 166.0h1.0v1.0h-1.0zM285.0 166.0h1.0v1.0h-1.0zM287.0 166.0h1.0v1.0h-1.0zM288.0 166.0h1.0v1.0h-1.0zM293.0 166.0h1.0v1.0h-1.0zM280.0 167.0h1.0v1.0h-1.0zM292.0 167.0h1.0v1.0h-1.0zM280.0 168.0h1.0v1.0h-1.0zM290.0 169.0h1.0v1.0h-1.0zM290.0 170.0h1.0v1.0h-1.0zM292.0 170.0h1.0v1.0h-1.0zM279.0 171.0h1.0v1.0h-1.0zM282.0 171.0h1.0v1.0h-1.0zM280.0 172.0h1.0v1.0h-1.0zM283.0 173.0h1.0v1.0h-1.0zM284.0 173.0h1.0v1.0h-1.0zM285.0 173.0h1.0v1.0h-1.0zM287.0 173.0h1.0v1.0h-1.0z"/>
<path fill="#144678" d="M294.0 145.0h1.0v1.0h-1.0zM295.0 145.0h1.0v1.0h-1.0zM298.0 148.0h1.0v1.0h-1.0zM291.0 149.0h1.0v1.0h-1.0zM291.0 150.0h1.0v1.0h-1.0zM291.0 151.0h1.0v1.0h-1.0zM292.0 154.0h1.0v1.0h-1.0zM297.0 154.0h1.0v1.0h-1.0zM293.0 156.0h1.0v1.0h-1.0zM293.0 157.0h1.0v1.0h-1.0zM295.0 157.0h1.0v1.0h-1.0zM292.0 159.0h1.0v1.0h-1.0zM291.0 161.0h1.0v1.0h-1.0zM292.0 162.0h1.0v1.0h-1.0zM286.0 166.0h1.0v1.0h-1.0zM283.0 167.0h1.0v1.0h-1.0zM291.0 167.0h1.0v1.0h-1.0zM282.0 168.0h1.0v1.0h-1.0zM280.0 169.0h1.0v1.0h-1.0zM283.0 169.0h1.0v1.0h-1.0zM278.0 170.0h1.0v1.0h-1.0zM279.0 170.0h1.0v1.0h-1.0zM280.0 170.0h1.0v1.0h-1.0zM289.0 171.0h1.0v1.0h-1.0zM290.0 171.0h1.0v1.0h-1.0zM281.0 172.0h1.0v1.0h-1.0zM282.0 172.0h1.0v1.0h-1.0zM283.0 172.0h1.0v1.0h-1.0zM287.0 172.0h1.0v1.0h-1.0zM288.0 172.0h1.0v1.0h-1.0z"/>
<path fill="#8c8cbe" d="M286.1 146.2h0.8v0.8h-0.8zM273.0 152.0h0.8v0.8h-0.8zM309.1 165.0h0.8v0.8h-0.8z"/>
<path fill="#143c78" d="M292.0 146.0h1.0v1.0h-1.0zM298.0 147.0h1.0v1.0h-1.0zM292.0 155.0h1.0v1.0h-1.0zM297.0 155.0h1.0v1.0h-1.0zM294.0 156.0h1.0v1.0h-1.0zM295.0 156.0h1.0v1.0h-1.0zM294.0 161.0h1.0v1.0h-1.0zM290.0 166.0h1.0v1.0h-1.0zM289.0 167.0h1.0v1.0h-1.0z"/>
<path fill="#14648c" d="M293.0 146.0h1.0v1.0h-1.0zM294.0 146.0h1.0v1.0h-1.0zM295.0 146.0h1.0v1.0h-1.0zM296.0 146.0h1.0v1.0h-1.0zM297.0 146.0h1.0v1.0h-1.0zM298.0 149.0h1.0v1.0h-1.0zM298.0 151.0h1.0v1.0h-1.0zM297.0 153.0h1.0v1.0h-1.0zM286.0 168.0h1.0v1.0h-1.0zM288.0 170.0h1.0v1.0h-1.0zM284.0 171.0h1.0v1.0h-1.0zM288.0 171.0h1.0v1.0h-1.0z"/>
<path fill="#145078" d="M292.0 147.0h1.0v1.0h-1.0zM295.0 155.0h1.0v1.0h-1.0zM287.0 167.0h1.0v1.0h-1.0zM281.0 168.0h1.0v1.0h-1.0zM281.0 169.0h1.0v1.0h-1.0zM289.0 170.0h1.0v1.0h-1.0zM281.0 171.0h1.0v1.0h-1.0zM284.0 172.0h1.0v1.0h-1.0zM285.0 172.0h1.0v1.0h-1.0z"/>
<path fill="#147896" d="M293.0 147.0h1.0v1.0h-1.0zM292.0 150.0h1.0v1.0h-1.0zM292.0 151.0h1.0v1.0h-1.0zM297.0 152.0h1.0v1.0h-1.0zM293.0 153.0h1.0v1.0h-1.0zM295.0 154.0h1.0v1.0h-1.0zM285.0 169.0h1.0v1.0h-1.0z"/>
<path fill="#1e96a0" d="M294.0 147.0h1.0v1.0h-1.0zM295.0 147.0h1.0v1.0h-1.0z"/>
<path fill="#148ca0" d="M296.0 147.0h1.0v1.0h-1.0zM297.0 148.0h1.0v1.0h-1.0zM296.0 153.0h1.0v1.0h-1.0zM294.0 154.0h1.0v1.0h-1.0zM286.0 169.0h1.0v1.0h-1.0z"/>
<path fill="#146e8c" d="M297.0 147.0h1.0v1.0h-1.0zM292.0 148.0h1.0v1.0h-1.0zM292.0 152.0h1.0v1.0h-1.0zM293.0 154.0h1.0v1.0h-1.0zM287.0 168.0h1.0v1.0h-1.0zM288.0 169.0h1.0v1.0h-1.0zM283.0 170.0h1.0v1.0h-1.0zM285.0 170.0h1.0v1.0h-1.0zM287.0 170.0h1.0v1.0h-1.0zM286.0 171.0h1.0v1.0h-1.0zM286.0 172.0h1.0v1.0h-1.0z"/>
<path fill="#8282b4" d="M284.1 148.2h0.8v0.8h-0.8zM307.1 170.1h0.8v0.8h-0.8zM296.1 175.2h0.8v0.8h-0.8z"/>
<path fill="#28968c" d="M293.0 148.0h1.0v1.0h-1.0zM294.0 153.0h1.0v1.0h-1.0z"/>
<path fill="#64be46" d="M294.0 148.0h1.0v1.0h-1.0zM293.0 151.0h1.0v1.0h-1.0z"/>
<path fill="#82c83c" d="M295.0 148.0h1.0v1.0h-1.0zM295.0 152.0h1.0v1.0h-1.0z"/>
<path fill="#50be50" d="M296.0 148.0h1.0v1.0h-1.0z"/>
<path fill="#6e6eaa" d="M286.2 149.1h0.8v0.8h-0.8z"/>
<path fill="#148296" d="M292.0 149.0h1.0v1.0h-1.0z"/>
<path fill="#78c83c" d="M293.0 149.0h1.0v1.0h-1.0zM294.0 150.0h1.0v1.0h-1.0zM294.0 152.0h1.0v1.0h-1.0z"/>
<path fill="#6ebe46" d="M294.0 149.0h1.0v1.0h-1.0zM293.0 150.0h1.0v1.0h-1.0z"/>
<path fill="#bed228" d="M295.0 149.0h1.0v1.0h-1.0zM295.0 150.0h1.0v1.0h-1.0z"/>
<path fill="#8cc83c" d="M296.0 149.0h1.0v1.0h-1.0z"/>
<path fill="#3caa6e" d="M297.0 149.0h1.0v1.0h-1.0zM297.0 151.0h1.0v1.0h-1.0z"/>
<path fill="#a0a0be" d="M279.1 150.0h0.8v0.8h-0.8zM289.2 178.1h0.8v0.8h-0.8z"/>
<path fill="#3c3c82" d="M286.1 150.0h0.8v0.8h-0.8zM301.0 151.1h0.8v0.8h-0.8zM301.1 153.1h0.8v0.8h-0.8zM285.2 155.2h0.8v0.8h-0.8zM284.1 158.1h0.8v0.8h-0.8zM279.0 160.1h0.8v0.8h-0.8zM284.1 160.1h0.8v0.8h-0.8zM299.0 161.1h0.8v0.8h-0.8zM297.1 172.1h0.8v0.8h-0.8zM269.0 173.0h0.8v0.8h-0.8z"/>
<path fill="#aac832" d="M296.0 150.0h1.0v1.0h-1.0z"/>
<path fill="#32a082" d="M297.0 150.0h1.0v1.0h-1.0z"/>
<path fill="#145a82" d="M298.0 150.0h1.0v1.0h-1.0zM292.0 153.0h1.0v1.0h-1.0zM296.0 154.0h1.0v1.0h-1.0zM293.0 155.0h1.0v1.0h-1.0zM294.0 155.0h1.0v1.0h-1.0zM284.0 167.0h1.0v1.0h-1.0zM288.0 167.0h1.0v1.0h-1.0zM284.0 168.0h1.0v1.0h-1.0zM285.0 168.0h1.0v1.0h-1.0zM289.0 168.0h1.0v1.0h-1.0zM282.0 169.0h1.0v1.0h-1.0zM284.0 169.0h1.0v1.0h-1.0zM281.0 170.0h1.0v1.0h-1.0zM286.0 170.0h1.0v1.0h-1.0zM285.0 171.0h1.0v1.0h-1.0zM287.0 171.0h1.0v1.0h-1.0z"/>
<path fill="#14326e" d="M299.0 150.0h1.0v1.0h-1.0zM292.0 156.0h1.0v1.0h-1.0zM296.0 156.0h1.0v1.0h-1.0zM292.0 157.0h1.0v1.0h-1.0zM296.0 157.0h1.0v1.0h-1.0zM291.0 158.0h1.0v1.0h-1.0zM295.0 158.0h1.0v1.0h-1.0zM296.0 158.0h1.0v1.0h-1.0zM291.0 159.0h1.0v1.0h-1.0zM294.0 159.0h1.0v1.0h-1.0zM290.0 160.0h1.0v1.0h-1.0zM292.0 160.0h1.0v1.0h-1.0zM293.0 160.0h1.0v1.0h-1.0zM292.0 161.0h1.0v1.0h-1.0zM291.0 162.0h1.0v1.0h-1.0zM291.0 163.0h1.0v1.0h-1.0zM290.0 164.0h1.0v1.0h-1.0zM293.0 164.0h1.0v1.0h-1.0zM286.0 165.0h1.0v1.0h-1.0zM287.0 165.0h1.0v1.0h-1.0zM290.0 165.0h1.0v1.0h-1.0zM289.0 166.0h1.0v1.0h-1.0zM292.0 166.0h1.0v1.0h-1.0zM285.0 167.0h1.0v1.0h-1.0zM290.0 167.0h1.0v1.0h-1.0zM292.0 168.0h1.0v1.0h-1.0zM293.0 168.0h1.0v1.0h-1.0zM278.0 169.0h1.0v1.0h-1.0zM279.0 169.0h1.0v1.0h-1.0zM291.0 170.0h1.0v1.0h-1.0zM277.0 171.0h1.0v1.0h-1.0zM289.0 172.0h1.0v1.0h-1.0z"/>
<path fill="#96c832" d="M294.0 151.0h1.0v1.0h-1.0zM296.0 151.0h1.0v1.0h-1.0z"/>
<path fill="#b4d228" d="M295.0 151.0h1.0v1.0h-1.0z"/>
<path fill="#46468c" d="M287.2 152.1h0.8v0.8h-0.8zM280.1 154.2h0.8v0.8h-0.8zM276.0 177.1h0.8v0.8h-0.8z"/>
<path fill="#3caa78" d="M293.0 152.0h1.0v1.0h-1.0zM295.0 153.0h1.0v1.0h-1.0z"/>
<path fill="#46b464" d="M296.0 152.0h1.0v1.0h-1.0z"/>
<path fill="#145082" d="M298.0 152.0h1.0v1.0h-1.0zM296.0 155.0h1.0v1.0h-1.0zM286.0 167.0h1.0v1.0h-1.0zM283.0 168.0h1.0v1.0h-1.0zM288.0 168.0h1.0v1.0h-1.0zM290.0 168.0h1.0v1.0h-1.0zM287.0 169.0h1.0v1.0h-1.0zM289.0 169.0h1.0v1.0h-1.0zM291.0 169.0h1.0v1.0h-1.0zM282.0 170.0h1.0v1.0h-1.0zM284.0 170.0h1.0v1.0h-1.0zM280.0 171.0h1.0v1.0h-1.0zM283.0 171.0h1.0v1.0h-1.0z"/>
<path fill="#28286e" d="M288.0 153.0h1.0v1.0h-1.0zM299.2 159.0h0.8v0.8h-0.8zM274.1 164.1h0.8v0.8h-0.8zM299.1 165.1h0.8v0.8h-0.8zM297.0 169.0h1.0v1.0h-1.0zM285.0 176.0h0.8v0.8h-0.8z"/>
<path fill="#143264" d="M292.0 158.0h1.0v1.0h-1.0zM290.0 161.0h1.0v1.0h-1.0zM295.0 161.0h1.0v1.0h-1.0zM292.0 163.0h1.0v1.0h-1.0zM289.0 164.0h1.0v1.0h-1.0zM285.0 165.0h1.0v1.0h-1.0zM281.0 167.0h1.0v1.0h-1.0zM276.0 171.0h1.0v1.0h-1.0zM278.0 172.0h1.0v1.0h-1.0zM290.0 172.0h1.0v1.0h-1.0z"/>
<path fill="#8c82be" d="M309.2 164.0h0.8v0.8h-0.8z"/>
<path fill="#a0a0c8" d="M305.0 172.1h0.8v0.8h-0.8zM301.1 176.2h0.8v0.8h-0.8z"/>
<path fill="#505096" d="M299.1 175.1h0.8v0.8h-0.8z"/>
<path fill="#968cbe" d="M301.1 175.1h0.8v0.8h-0.8zM283.1 179.0h0.8v0.8h-0.8z"/>
<rect x="267.5" y="135" width="48.80000000000001" height="49.400000000000006" fill="none" stroke="#777" stroke-width="0.8"/>
<rect x="269.1" y="139.1" width="32.89999999999998" height="43.900000000000006" fill="none" stroke="#999" stroke-width="0.7"/>
<path d="M284.7 139.1V161.8H302" fill="none" stroke="#999" stroke-width="0.8"/>
<line x1="260" y1="144" x2="260" y2="185" stroke="#111" stroke-width="1"/>
<polygon points="258,145 262,145 260,140.5" fill="#111"/>
<line x1="266" y1="191.5" x2="309.5" y2="191.5" stroke="#111" stroke-width="1"/>
<polygon points="308.5,189.5 308.5,193.5 313.0,191.5" fill="#111"/>
<g transform="translate(254.70,162.80) rotate(-90) scale(1.0,1)"><text x="0" y="0" font-size="10.4" text-anchor="middle" font-weight="bold" textLength="24.5" lengthAdjust="spacingAndGlyphs">CD45RA</text></g>
<text x="281.00" y="204.60" font-size="10.2" text-anchor="start" font-weight="bold" textLength="16.5" lengthAdjust="spacingAndGlyphs" >CCR7</text>
<text x="368.50" y="188.00" font-size="5.6" text-anchor="start" fill="#222" >Cohort 1</text>
<text x="420.50" y="188.00" font-size="5.6" text-anchor="start" fill="#222" >Cohort 2</text>
<text x="474.50" y="188.00" font-size="5.6" text-anchor="start" fill="#222" >Cohort 3</text>
<line x1="355.5" y1="193.5" x2="364.5" y2="193.5" stroke="#3f8f3f" stroke-width="0.9"/>
<circle cx="360" cy="193.5" r="1.55" fill="#fff" stroke="#2a5a2a" stroke-width="0.9"/>
<text x="368.30" y="195.50" font-size="5.8" text-anchor="start" fill="#222" >S103 (25y)</text>
<line x1="355.5" y1="203.4" x2="364.5" y2="203.4" stroke="#3f8f3f" stroke-width="0.9"/>
<rect x="358.45" y="201.85" width="3.1" height="3.1" fill="#fff" stroke="#2a5a2a" stroke-width="0.9"/>
<text x="368.30" y="205.40" font-size="5.8" text-anchor="start" fill="#222" >S111 (25y)</text>
<line x1="407.7" y1="193.5" x2="416.7" y2="193.5" stroke="#c0354f" stroke-width="0.9"/>
<circle cx="412.2" cy="193.5" r="1.55" fill="#6a1a2a"/>
<text x="420.50" y="195.50" font-size="5.8" text-anchor="start" fill="#222" >S208 (42y)</text>
<line x1="407.7" y1="203.4" x2="416.7" y2="203.4" stroke="#c0354f" stroke-width="0.9"/>
<rect x="410.65" y="201.85" width="3.1" height="3.1" fill="#6a1a2a"/>
<text x="420.50" y="205.40" font-size="5.8" text-anchor="start" fill="#222" >S214 (19y)</text>
<line x1="461.3" y1="193.5" x2="470.3" y2="193.5" stroke="#2c62a8" stroke-width="0.9"/>
<circle cx="465.8" cy="193.5" r="1.55" fill="#1a2850"/>
<text x="474.10" y="195.50" font-size="5.8" text-anchor="start" fill="#222" >S302 (27y)</text>
<line x1="461.3" y1="203.4" x2="470.3" y2="203.4" stroke="#2c62a8" stroke-width="0.9"/>
<rect x="464.25" y="201.85" width="3.1" height="3.1" fill="#1a2850"/>
<text x="474.10" y="205.40" font-size="5.8" text-anchor="start" fill="#222" >S306 (21y)</text>
<line x1="461.3" y1="213.1" x2="470.3" y2="213.1" stroke="#2c62a8" stroke-width="0.9"/>
<polygon points="464.095,214.495 467.505,214.495 465.8,211.23999999999998" fill="#1a2850"/>
<text x="474.10" y="215.10" font-size="5.8" text-anchor="start" fill="#222" >S308 (23y)</text>
<line x1="461.3" y1="222.9" x2="470.3" y2="222.9" stroke="#2c62a8" stroke-width="0.9"/>
<polygon points="464.095,221.505 467.505,221.505 465.8,224.76000000000002" fill="#1a2850"/>
<text x="474.10" y="224.90" font-size="5.8" text-anchor="start" fill="#222" >S313(30y)</text>
<text x="1.00" y="234.00" font-size="11.3" text-anchor="start" font-weight="bold" >B</text>
<line x1="35.3" y1="256.3" x2="35.3" y2="348.4" stroke="#222" stroke-width="1"/>
<line x1="35.3" y1="348.4" x2="238.4" y2="348.4" stroke="#222" stroke-width="1"/>
<line x1="31.9" y1="348.40" x2="35.3" y2="348.40" stroke="#222" stroke-width="1"/>
<text x="29.30" y="351.40" font-size="8.6" text-anchor="end" fill="#222" >0</text>
<line x1="31.9" y1="326.15" x2="35.3" y2="326.15" stroke="#222" stroke-width="1"/>
<text x="29.30" y="329.15" font-size="8.6" text-anchor="end" fill="#222" >20</text>
<line x1="31.9" y1="303.90" x2="35.3" y2="303.90" stroke="#222" stroke-width="1"/>
<text x="29.30" y="306.90" font-size="8.6" text-anchor="end" fill="#222" >40</text>
<line x1="31.9" y1="281.65" x2="35.3" y2="281.65" stroke="#222" stroke-width="1"/>
<text x="29.30" y="284.65" font-size="8.6" text-anchor="end" fill="#222" >60</text>
<line x1="31.9" y1="259.40" x2="35.3" y2="259.40" stroke="#222" stroke-width="1"/>
<text x="29.30" y="262.40" font-size="8.6" text-anchor="end" fill="#222" >80</text>
<line x1="44.5" y1="348.4" x2="44.5" y2="350.9" stroke="#222" stroke-width="0.9"/>
<line x1="63.5" y1="348.4" x2="63.5" y2="350.9" stroke="#222" stroke-width="0.9"/>
<line x1="44.5" y1="315.02" x2="63.5" y2="295.00" stroke="#2c62a8" stroke-width="0.8"/>
<line x1="44.5" y1="318.36" x2="63.5" y2="289.44" stroke="#2c62a8" stroke-width="0.8"/>
<line x1="44.5" y1="324.37" x2="63.5" y2="286.10" stroke="#2c62a8" stroke-width="0.8"/>
<line x1="44.5" y1="343.95" x2="63.5" y2="315.02" stroke="#2c62a8" stroke-width="0.8"/>
<line x1="44.5" y1="339.50" x2="63.5" y2="346.17" stroke="#c0354f" stroke-width="0.8"/>
<line x1="44.5" y1="342.84" x2="63.5" y2="341.72" stroke="#3f8f3f" stroke-width="0.8"/>
<line x1="44.5" y1="347.29" x2="63.5" y2="347.84" stroke="#c0354f" stroke-width="0.8"/>
<line x1="44.5" y1="345.06" x2="63.5" y2="347.29" stroke="#3f8f3f" stroke-width="0.8"/>
<polygon points="42.85,313.67499999999995 46.15,313.67499999999995 44.5,316.825" fill="#1a2850"/>
<polygon points="61.85,293.65 65.15,293.65 63.5,296.8" fill="#1a2850"/>
<polygon points="42.85,319.7125 46.15,319.7125 44.5,316.56249999999994" fill="#1a2850"/>
<polygon points="61.85,290.7875 65.15,290.7875 63.5,287.6375" fill="#1a2850"/>
<rect x="43.0" y="322.87" width="3.0" height="3.0" fill="#1a2850"/>
<rect x="62.0" y="284.59999999999997" width="3.0" height="3.0" fill="#1a2850"/>
<circle cx="44.5" cy="343.95" r="1.5" fill="#1a2850"/>
<circle cx="63.5" cy="315.025" r="1.5" fill="#1a2850"/>
<circle cx="44.5" cy="339.5" r="1.5" fill="#6a1a2a"/>
<circle cx="63.5" cy="346.17499999999995" r="1.5" fill="#6a1a2a"/>
<circle cx="44.5" cy="342.8375" r="1.5" fill="#fff" stroke="#2a5a2a" stroke-width="0.9"/>
<circle cx="63.5" cy="341.72499999999997" r="1.5" fill="#fff" stroke="#2a5a2a" stroke-width="0.9"/>
<rect x="43.0" y="345.78749999999997" width="3.0" height="3.0" fill="#6a1a2a"/>
<rect x="62.0" y="346.34375" width="3.0" height="3.0" fill="#6a1a2a"/>
<rect x="43.0" y="343.5625" width="3.0" height="3.0" fill="#fff" stroke="#2a5a2a" stroke-width="0.9"/>
<rect x="62.0" y="345.78749999999997" width="3.0" height="3.0" fill="#fff" stroke="#2a5a2a" stroke-width="0.9"/>
<path d="M43.2 266.2V262.2H62.9V266.2" fill="none" stroke="#444" stroke-width="0.8"/>
<text x="53.05" y="260.0" font-size="7" text-anchor="middle" fill="#333"><tspan font-style="italic">P</tspan> = .15</text>
<g transform="translate(47.30,359.20) rotate(-45)"><text x="0" y="0" font-size="9" text-anchor="end" fill="#222">T<tspan font-size="6" dy="1.8">N</tspan><tspan dy="-1.8"> CD8</tspan><tspan font-size="6.5" dy="-3.6">+</tspan><tspan dy="3.6"> D0</tspan></text></g>
<g transform="translate(66.30,359.20) rotate(-45)"><text x="0" y="0" font-size="9" text-anchor="end" fill="#222">T<tspan font-size="6" dy="1.8">N</tspan><tspan dy="-1.8"> CD8</tspan><tspan font-size="6.5" dy="-3.6">+</tspan><tspan dy="3.6"> Po</tspan></text></g>
<line x1="101" y1="348.4" x2="101" y2="350.9" stroke="#222" stroke-width="0.9"/>
<line x1="120" y1="348.4" x2="120" y2="350.9" stroke="#222" stroke-width="0.9"/>
<line x1="101" y1="315.02" x2="120" y2="274.97" stroke="#2c62a8" stroke-width="0.8"/>
<line x1="101" y1="316.14" x2="120" y2="281.65" stroke="#2c62a8" stroke-width="0.8"/>
<line x1="101" y1="317.25" x2="120" y2="302.79" stroke="#2c62a8" stroke-width="0.8"/>
<line x1="101" y1="335.05" x2="120" y2="293.89" stroke="#2c62a8" stroke-width="0.8"/>
<line x1="101" y1="338.94" x2="120" y2="340.17" stroke="#c0354f" stroke-width="0.8"/>
<line x1="101" y1="341.72" x2="120" y2="337.83" stroke="#3f8f3f" stroke-width="0.8"/>
<line x1="101" y1="344.51" x2="120" y2="346.84" stroke="#c0354f" stroke-width="0.8"/>
<line x1="101" y1="347.06" x2="120" y2="344.06" stroke="#3f8f3f" stroke-width="0.8"/>
<polygon points="99.35,316.375 102.65,316.375 101,313.22499999999997" fill="#1a2850"/>
<polygon points="118.35,276.325 121.65,276.325 120,273.17499999999995" fill="#1a2850"/>
<circle cx="101" cy="316.1375" r="1.5" fill="#1a2850"/>
<circle cx="120" cy="281.65" r="1.5" fill="#1a2850"/>
<polygon points="99.35,315.9 102.65,315.9 101,319.05" fill="#1a2850"/>
<polygon points="118.35,301.43749999999994 121.65,301.43749999999994 120,304.5875" fill="#1a2850"/>
<rect x="99.5" y="333.54999999999995" width="3.0" height="3.0" fill="#1a2850"/>
<rect x="118.5" y="292.3875" width="3.0" height="3.0" fill="#1a2850"/>
<circle cx="101" cy="338.94374999999997" r="1.5" fill="#6a1a2a"/>
<circle cx="120" cy="340.16749999999996" r="1.5" fill="#6a1a2a"/>
<circle cx="101" cy="341.72499999999997" r="1.5" fill="#fff" stroke="#2a5a2a" stroke-width="0.9"/>
<circle cx="120" cy="337.83124999999995" r="1.5" fill="#fff" stroke="#2a5a2a" stroke-width="0.9"/>
<rect x="99.5" y="343.00624999999997" width="3.0" height="3.0" fill="#6a1a2a"/>
<rect x="118.5" y="345.3425" width="3.0" height="3.0" fill="#6a1a2a"/>
<rect x="99.5" y="345.565" width="3.0" height="3.0" fill="#fff" stroke="#2a5a2a" stroke-width="0.9"/>
<rect x="118.5" y="342.56125" width="3.0" height="3.0" fill="#fff" stroke="#2a5a2a" stroke-width="0.9"/>
<path d="M99.7 266.2V262.2H119.4V266.2" fill="none" stroke="#444" stroke-width="0.8"/>
<text x="109.55" y="260.0" font-size="7" text-anchor="middle" fill="#333"><tspan font-style="italic">P</tspan> = .05</text>
<g transform="translate(103.80,359.20) rotate(-45)"><text x="0" y="0" font-size="9" text-anchor="end" fill="#222">T<tspan font-size="6" dy="1.8">N</tspan><tspan dy="-1.8"> CD4</tspan><tspan font-size="6.5" dy="-3.6">+</tspan><tspan dy="3.6"> D0</tspan></text></g>
<g transform="translate(122.80,359.20) rotate(-45)"><text x="0" y="0" font-size="9" text-anchor="end" fill="#222">T<tspan font-size="6" dy="1.8">N</tspan><tspan dy="-1.8"> CD4</tspan><tspan font-size="6.5" dy="-3.6">+</tspan><tspan dy="3.6"> Po</tspan></text></g>
<line x1="157.6" y1="348.4" x2="157.6" y2="350.9" stroke="#222" stroke-width="0.9"/>
<line x1="177" y1="348.4" x2="177" y2="350.9" stroke="#222" stroke-width="0.9"/>
<line x1="157.6" y1="348.40" x2="177" y2="348.40" stroke="#2c62a8" stroke-width="0.8"/>
<line x1="157.6" y1="348.40" x2="177" y2="348.40" stroke="#c0354f" stroke-width="0.8"/>
<line x1="157.6" y1="348.40" x2="177" y2="348.40" stroke="#3f8f3f" stroke-width="0.8"/>
<circle cx="157.6" cy="348.4" r="1.5" fill="#1a2850"/>
<circle cx="177" cy="348.4" r="1.5" fill="#1a2850"/>
<circle cx="157.6" cy="348.4" r="1.5" fill="#6a1a2a"/>
<circle cx="177" cy="348.4" r="1.5" fill="#6a1a2a"/>
<circle cx="157.6" cy="348.4" r="1.5" fill="#fff" stroke="#2a5a2a" stroke-width="0.9"/>
<circle cx="177" cy="348.4" r="1.5" fill="#fff" stroke="#2a5a2a" stroke-width="0.9"/>
<path d="M156.29999999999998 266.2V262.2H176.4V266.2" fill="none" stroke="#444" stroke-width="0.8"/>
<text x="166.35" y="260.00" font-size="7" text-anchor="middle" fill="#333" >ns</text>
<g transform="translate(160.40,359.20) rotate(-45)"><text x="0" y="0" font-size="9" text-anchor="end" fill="#222">T<tspan font-size="6" dy="1.8">M</tspan><tspan dy="-1.8"> CD8</tspan><tspan font-size="6.5" dy="-3.6">+</tspan><tspan dy="3.6"> D0</tspan></text></g>
<g transform="translate(179.80,359.20) rotate(-45)"><text x="0" y="0" font-size="9" text-anchor="end" fill="#222">T<tspan font-size="6" dy="1.8">M</tspan><tspan dy="-1.8"> CD8</tspan><tspan font-size="6.5" dy="-3.6">+</tspan><tspan dy="3.6"> Po</tspan></text></g>
<line x1="214.5" y1="348.4" x2="214.5" y2="350.9" stroke="#222" stroke-width="0.9"/>
<line x1="233" y1="348.4" x2="233" y2="350.9" stroke="#222" stroke-width="0.9"/>
<line x1="214.5" y1="333.71" x2="233" y2="332.82" stroke="#2c62a8" stroke-width="0.8"/>
<line x1="214.5" y1="335.83" x2="233" y2="342.17" stroke="#2c62a8" stroke-width="0.8"/>
<line x1="214.5" y1="337.72" x2="233" y2="340.61" stroke="#2c62a8" stroke-width="0.8"/>
<line x1="214.5" y1="343.39" x2="233" y2="345.06" stroke="#2c62a8" stroke-width="0.8"/>
<line x1="214.5" y1="344.51" x2="233" y2="343.95" stroke="#c0354f" stroke-width="0.8"/>
<line x1="214.5" y1="346.17" x2="233" y2="345.62" stroke="#3f8f3f" stroke-width="0.8"/>
<line x1="214.5" y1="347.29" x2="233" y2="346.73" stroke="#c0354f" stroke-width="0.8"/>
<line x1="214.5" y1="347.84" x2="233" y2="347.29" stroke="#3f8f3f" stroke-width="0.8"/>
<circle cx="214.5" cy="333.715" r="1.5" fill="#1a2850"/>
<circle cx="233" cy="332.825" r="1.5" fill="#1a2850"/>
<rect x="213.0" y="334.32874999999996" width="3.0" height="3.0" fill="#1a2850"/>
<rect x="231.5" y="340.66999999999996" width="3.0" height="3.0" fill="#1a2850"/>
<polygon points="212.85,336.36999999999995 216.15,336.36999999999995 214.5,339.52" fill="#1a2850"/>
<polygon points="231.35,339.26249999999993 234.65,339.26249999999993 233,342.41249999999997" fill="#1a2850"/>
<polygon points="212.85,344.74375 216.15,344.74375 214.5,341.59374999999994" fill="#1a2850"/>
<polygon points="231.35,346.4125 234.65,346.4125 233,343.2625" fill="#1a2850"/>
<circle cx="214.5" cy="344.50624999999997" r="1.5" fill="#6a1a2a"/>
<circle cx="233" cy="343.95" r="1.5" fill="#6a1a2a"/>
<circle cx="214.5" cy="346.17499999999995" r="1.5" fill="#fff" stroke="#2a5a2a" stroke-width="0.9"/>
<circle cx="233" cy="345.61875" r="1.5" fill="#fff" stroke="#2a5a2a" stroke-width="0.9"/>
<rect x="213.0" y="345.78749999999997" width="3.0" height="3.0" fill="#6a1a2a"/>
<rect x="231.5" y="345.23125" width="3.0" height="3.0" fill="#6a1a2a"/>
<rect x="213.0" y="346.34375" width="3.0" height="3.0" fill="#fff" stroke="#2a5a2a" stroke-width="0.9"/>
<rect x="231.5" y="345.78749999999997" width="3.0" height="3.0" fill="#fff" stroke="#2a5a2a" stroke-width="0.9"/>
<path d="M213.2 266.2V262.2H232.4V266.2" fill="none" stroke="#444" stroke-width="0.8"/>
<text x="222.80" y="260.00" font-size="7" text-anchor="middle" fill="#333" >ns</text>
<g transform="translate(217.30,359.20) rotate(-45)"><text x="0" y="0" font-size="9" text-anchor="end" fill="#222">T<tspan font-size="6" dy="1.8">M</tspan><tspan dy="-1.8"> CD4</tspan><tspan font-size="6.5" dy="-3.6">+</tspan><tspan dy="3.6"> D0</tspan></text></g>
<g transform="translate(235.80,359.20) rotate(-45)"><text x="0" y="0" font-size="9" text-anchor="end" fill="#222">T<tspan font-size="6" dy="1.8">M</tspan><tspan dy="-1.8"> CD4</tspan><tspan font-size="6.5" dy="-3.6">+</tspan><tspan dy="3.6"> Po</tspan></text></g>
<g transform="translate(11.9,304.5) rotate(-90)"><text x="0" y="0" font-size="9.4" text-anchor="middle" fill="#222" stroke="#222" stroke-width="0.2" textLength="77" lengthAdjust="spacingAndGlyphs">Inverse Simpson (×10<tspan font-size="5.5" dy="-3">4</tspan><tspan dy="3">)</tspan></text></g>
<text x="256.50" y="234.00" font-size="11.3" text-anchor="start" font-weight="bold" >C</text>
<line x1="302.2" y1="257.5" x2="302.2" y2="347.4" stroke="#222" stroke-width="1"/>
<line x1="302.2" y1="347.4" x2="506" y2="347.4" stroke="#222" stroke-width="1"/>
<line x1="298.8" y1="347.40" x2="302.2" y2="347.40" stroke="#222" stroke-width="1"/>
<text x="296.20" y="350.40" font-size="8.6" text-anchor="end" fill="#222" >0.2</text>
<line x1="298.8" y1="317.70" x2="302.2" y2="317.70" stroke="#222" stroke-width="1"/>
<text x="296.20" y="320.70" font-size="8.6" text-anchor="end" fill="#222" >0.4</text>
<line x1="298.8" y1="288.00" x2="302.2" y2="288.00" stroke="#222" stroke-width="1"/>
<text x="296.20" y="291.00" font-size="8.6" text-anchor="end" fill="#222" >0.6</text>
<line x1="298.8" y1="258.30" x2="302.2" y2="258.30" stroke="#222" stroke-width="1"/>
<text x="296.20" y="261.30" font-size="8.6" text-anchor="end" fill="#222" >0.8</text>
<line x1="312.5" y1="347.4" x2="312.5" y2="349.9" stroke="#222" stroke-width="0.9"/>
<line x1="330.9" y1="347.4" x2="330.9" y2="349.9" stroke="#222" stroke-width="0.9"/>
<line x1="312.5" y1="299.88" x2="330.9" y2="277.60" stroke="#2c62a8" stroke-width="0.8"/>
<line x1="312.5" y1="278.35" x2="330.9" y2="271.66" stroke="#2c62a8" stroke-width="0.8"/>
<line x1="312.5" y1="279.09" x2="330.9" y2="273.15" stroke="#2c62a8" stroke-width="0.8"/>
<line x1="312.5" y1="277.60" x2="330.9" y2="289.49" stroke="#c0354f" stroke-width="0.8"/>
<line x1="312.5" y1="279.09" x2="330.9" y2="282.06" stroke="#c0354f" stroke-width="0.8"/>
<line x1="312.5" y1="283.54" x2="330.9" y2="282.06" stroke="#3f8f3f" stroke-width="0.8"/>
<line x1="312.5" y1="278.35" x2="330.9" y2="282.06" stroke="#3f8f3f" stroke-width="0.8"/>
<line x1="312.5" y1="277.60" x2="330.9" y2="271.66" stroke="#2c62a8" stroke-width="0.8"/>
<circle cx="312.5" cy="299.88" r="1.5" fill="#1a2850"/>
<circle cx="330.9" cy="277.60499999999996" r="1.5" fill="#1a2850"/>
<rect x="311.0" y="276.84749999999997" width="3.0" height="3.0" fill="#1a2850"/>
<rect x="329.4" y="270.16499999999996" width="3.0" height="3.0" fill="#1a2850"/>
<polygon points="310.85,280.44 314.15,280.44 312.5,277.28999999999996" fill="#1a2850"/>
<polygon points="329.25,274.5 332.54999999999995,274.5 330.9,271.34999999999997" fill="#1a2850"/>
<circle cx="312.5" cy="277.60499999999996" r="1.5" fill="#6a1a2a"/>
<circle cx="330.9" cy="289.485" r="1.5" fill="#6a1a2a"/>
<rect x="311.0" y="277.59" width="3.0" height="3.0" fill="#6a1a2a"/>
<rect x="329.4" y="280.55999999999995" width="3.0" height="3.0" fill="#6a1a2a"/>
<rect x="311.0" y="282.04499999999996" width="3.0" height="3.0" fill="#fff" stroke="#2a5a2a" stroke-width="0.9"/>
<rect x="329.4" y="280.55999999999995" width="3.0" height="3.0" fill="#fff" stroke="#2a5a2a" stroke-width="0.9"/>
<circle cx="312.5" cy="278.34749999999997" r="1.5" fill="#fff" stroke="#2a5a2a" stroke-width="0.9"/>
<circle cx="330.9" cy="282.05999999999995" r="1.5" fill="#fff" stroke="#2a5a2a" stroke-width="0.9"/>
<polygon points="310.85,276.25499999999994 314.15,276.25499999999994 312.5,279.405" fill="#1a2850"/>
<polygon points="329.25,270.31499999999994 332.54999999999995,270.31499999999994 330.9,273.465" fill="#1a2850"/>
<path d="M311.2 265.5V261.5H330.29999999999995V265.5" fill="none" stroke="#444" stroke-width="0.8"/>
<text x="320.75" y="259.30" font-size="7" text-anchor="middle" fill="#333" >ns</text>
<g transform="translate(315.30,358.20) rotate(-45)"><text x="0" y="0" font-size="9" text-anchor="end" fill="#222">T<tspan font-size="6" dy="1.8">N</tspan><tspan dy="-1.8"> CD8</tspan><tspan font-size="6.5" dy="-3.6">+</tspan><tspan dy="3.6"> D0</tspan></text></g>
<g transform="translate(333.70,358.20) rotate(-45)"><text x="0" y="0" font-size="9" text-anchor="end" fill="#222">T<tspan font-size="6" dy="1.8">N</tspan><tspan dy="-1.8"> CD8</tspan><tspan font-size="6.5" dy="-3.6">+</tspan><tspan dy="3.6"> Po</tspan></text></g>
<line x1="368.8" y1="347.4" x2="368.8" y2="349.9" stroke="#222" stroke-width="0.9"/>
<line x1="388" y1="347.4" x2="388" y2="349.9" stroke="#222" stroke-width="0.9"/>
<line x1="368.8" y1="296.91" x2="388" y2="288.00" stroke="#3f8f3f" stroke-width="0.8"/>
<line x1="368.8" y1="286.51" x2="388" y2="292.45" stroke="#c0354f" stroke-width="0.8"/>
<line x1="368.8" y1="283.54" x2="388" y2="273.15" stroke="#2c62a8" stroke-width="0.8"/>
<line x1="368.8" y1="281.32" x2="388" y2="270.18" stroke="#2c62a8" stroke-width="0.8"/>
<line x1="368.8" y1="279.09" x2="388" y2="271.66" stroke="#2c62a8" stroke-width="0.8"/>
<line x1="368.8" y1="278.35" x2="388" y2="278.35" stroke="#c0354f" stroke-width="0.8"/>
<line x1="368.8" y1="282.06" x2="388" y2="274.63" stroke="#3f8f3f" stroke-width="0.8"/>
<line x1="368.8" y1="285.03" x2="388" y2="279.09" stroke="#2c62a8" stroke-width="0.8"/>
<rect x="367.3" y="295.40999999999997" width="3.0" height="3.0" fill="#fff" stroke="#2a5a2a" stroke-width="0.9"/>
<rect x="386.5" y="286.5" width="3.0" height="3.0" fill="#fff" stroke="#2a5a2a" stroke-width="0.9"/>
<circle cx="368.8" cy="286.515" r="1.5" fill="#6a1a2a"/>
<circle cx="388" cy="292.455" r="1.5" fill="#6a1a2a"/>
<circle cx="368.8" cy="283.54499999999996" r="1.5" fill="#1a2850"/>
<circle cx="388" cy="273.15" r="1.5" fill="#1a2850"/>
<rect x="367.3" y="279.8175" width="3.0" height="3.0" fill="#1a2850"/>
<rect x="386.5" y="268.67999999999995" width="3.0" height="3.0" fill="#1a2850"/>
<polygon points="367.15000000000003,280.44 370.45,280.44 368.8,277.28999999999996" fill="#1a2850"/>
<polygon points="386.35,273.015 389.65,273.015 388,269.86499999999995" fill="#1a2850"/>
<rect x="367.3" y="276.84749999999997" width="3.0" height="3.0" fill="#6a1a2a"/>
<rect x="386.5" y="276.84749999999997" width="3.0" height="3.0" fill="#6a1a2a"/>
<circle cx="368.8" cy="282.05999999999995" r="1.5" fill="#fff" stroke="#2a5a2a" stroke-width="0.9"/>
<circle cx="388" cy="274.635" r="1.5" fill="#fff" stroke="#2a5a2a" stroke-width="0.9"/>
<polygon points="367.15000000000003,283.67999999999995 370.45,283.67999999999995 368.8,286.83" fill="#1a2850"/>
<polygon points="386.35,277.73999999999995 389.65,277.73999999999995 388,280.89" fill="#1a2850"/>
<path d="M367.5 265.5V261.5H387.4V265.5" fill="none" stroke="#444" stroke-width="0.8"/>
<text x="377.45" y="259.3" font-size="7" text-anchor="middle" fill="#333"><tspan font-style="italic">P</tspan> = .14</text>
<g transform="translate(371.60,358.20) rotate(-45)"><text x="0" y="0" font-size="9" text-anchor="end" fill="#222">T<tspan font-size="6" dy="1.8">N</tspan><tspan dy="-1.8"> CD4</tspan><tspan font-size="6.5" dy="-3.6">+</tspan><tspan dy="3.6"> D0</tspan></text></g>
<g transform="translate(390.80,358.20) rotate(-45)"><text x="0" y="0" font-size="9" text-anchor="end" fill="#222">T<tspan font-size="6" dy="1.8">N</tspan><tspan dy="-1.8"> CD4</tspan><tspan font-size="6.5" dy="-3.6">+</tspan><tspan dy="3.6"> Po</tspan></text></g>
<line x1="426" y1="347.4" x2="426" y2="349.9" stroke="#222" stroke-width="0.9"/>
<line x1="444.6" y1="347.4" x2="444.6" y2="349.9" stroke="#222" stroke-width="0.9"/>
<line x1="426" y1="301.37" x2="444.6" y2="302.85" stroke="#3f8f3f" stroke-width="0.8"/>
<line x1="426" y1="302.85" x2="444.6" y2="310.27" stroke="#2c62a8" stroke-width="0.8"/>
<line x1="426" y1="308.79" x2="444.6" y2="314.73" stroke="#c0354f" stroke-width="0.8"/>
<line x1="426" y1="311.02" x2="444.6" y2="313.25" stroke="#c0354f" stroke-width="0.8"/>
<line x1="426" y1="311.02" x2="444.6" y2="310.27" stroke="#3f8f3f" stroke-width="0.8"/>
<line x1="426" y1="319.19" x2="444.6" y2="302.85" stroke="#2c62a8" stroke-width="0.8"/>
<line x1="426" y1="322.15" x2="444.6" y2="323.64" stroke="#2c62a8" stroke-width="0.8"/>
<line x1="426" y1="308.79" x2="444.6" y2="311.76" stroke="#2c62a8" stroke-width="0.8"/>
<circle cx="426" cy="301.365" r="1.5" fill="#fff" stroke="#2a5a2a" stroke-width="0.9"/>
<circle cx="444.6" cy="302.84999999999997" r="1.5" fill="#fff" stroke="#2a5a2a" stroke-width="0.9"/>
<rect x="424.5" y="301.34999999999997" width="3.0" height="3.0" fill="#1a2850"/>
<rect x="443.1" y="308.775" width="3.0" height="3.0" fill="#1a2850"/>
<circle cx="426" cy="308.78999999999996" r="1.5" fill="#6a1a2a"/>
<circle cx="444.6" cy="314.72999999999996" r="1.5" fill="#6a1a2a"/>
<rect x="424.5" y="309.5175" width="3.0" height="3.0" fill="#6a1a2a"/>
<rect x="443.1" y="311.745" width="3.0" height="3.0" fill="#6a1a2a"/>
<rect x="424.5" y="309.5175" width="3.0" height="3.0" fill="#fff" stroke="#2a5a2a" stroke-width="0.9"/>
<rect x="443.1" y="308.775" width="3.0" height="3.0" fill="#fff" stroke="#2a5a2a" stroke-width="0.9"/>
<circle cx="426" cy="319.185" r="1.5" fill="#1a2850"/>
<circle cx="444.6" cy="302.84999999999997" r="1.5" fill="#1a2850"/>
<polygon points="424.35,320.80499999999995 427.65,320.80499999999995 426,323.955" fill="#1a2850"/>
<polygon points="442.95000000000005,322.28999999999996 446.25,322.28999999999996 444.6,325.44" fill="#1a2850"/>
<polygon points="424.35,310.14 427.65,310.14 426,306.98999999999995" fill="#1a2850"/>
<polygon points="442.95000000000005,313.11 446.25,313.11 444.6,309.96" fill="#1a2850"/>
<path d="M424.7 265.5V261.5H444.0V265.5" fill="none" stroke="#444" stroke-width="0.8"/>
<text x="434.35" y="259.30" font-size="7" text-anchor="middle" fill="#333" >ns</text>
<g transform="translate(428.80,358.20) rotate(-45)"><text x="0" y="0" font-size="9" text-anchor="end" fill="#222">T<tspan font-size="6" dy="1.8">M</tspan><tspan dy="-1.8"> CD8</tspan><tspan font-size="6.5" dy="-3.6">+</tspan><tspan dy="3.6"> D0</tspan></text></g>
<g transform="translate(447.40,358.20) rotate(-45)"><text x="0" y="0" font-size="9" text-anchor="end" fill="#222">T<tspan font-size="6" dy="1.8">M</tspan><tspan dy="-1.8"> CD8</tspan><tspan font-size="6.5" dy="-3.6">+</tspan><tspan dy="3.6"> Po</tspan></text></g>
<line x1="482.7" y1="347.4" x2="482.7" y2="349.9" stroke="#222" stroke-width="0.9"/>
<line x1="501.7" y1="347.4" x2="501.7" y2="349.9" stroke="#222" stroke-width="0.9"/>
<line x1="482.7" y1="277.60" x2="501.7" y2="273.15" stroke="#c0354f" stroke-width="0.8"/>
<line x1="482.7" y1="282.06" x2="501.7" y2="282.06" stroke="#2c62a8" stroke-width="0.8"/>
<line x1="482.7" y1="283.54" x2="501.7" y2="283.54" stroke="#2c62a8" stroke-width="0.8"/>
<line x1="482.7" y1="286.51" x2="501.7" y2="286.51" stroke="#3f8f3f" stroke-width="0.8"/>
<line x1="482.7" y1="285.03" x2="501.7" y2="282.06" stroke="#2c62a8" stroke-width="0.8"/>
<line x1="482.7" y1="292.45" x2="501.7" y2="285.03" stroke="#2c62a8" stroke-width="0.8"/>
<line x1="482.7" y1="298.39" x2="501.7" y2="289.49" stroke="#3f8f3f" stroke-width="0.8"/>
<line x1="482.7" y1="285.03" x2="501.7" y2="285.03" stroke="#c0354f" stroke-width="0.8"/>
<circle cx="482.7" cy="277.60499999999996" r="1.5" fill="#6a1a2a"/>
<circle cx="501.7" cy="273.15" r="1.5" fill="#6a1a2a"/>
<circle cx="482.7" cy="282.05999999999995" r="1.5" fill="#1a2850"/>
<circle cx="501.7" cy="282.05999999999995" r="1.5" fill="#1a2850"/>
<polygon points="481.05,284.895 484.34999999999997,284.895 482.7,281.74499999999995" fill="#1a2850"/>
<polygon points="500.05,284.895 503.34999999999997,284.895 501.7,281.74499999999995" fill="#1a2850"/>
<rect x="481.2" y="285.015" width="3.0" height="3.0" fill="#fff" stroke="#2a5a2a" stroke-width="0.9"/>
<rect x="500.2" y="285.015" width="3.0" height="3.0" fill="#fff" stroke="#2a5a2a" stroke-width="0.9"/>
<polygon points="481.05,283.67999999999995 484.34999999999997,283.67999999999995 482.7,286.83" fill="#1a2850"/>
<polygon points="500.05,280.7099999999999 503.34999999999997,280.7099999999999 501.7,283.85999999999996" fill="#1a2850"/>
<rect x="481.2" y="290.955" width="3.0" height="3.0" fill="#1a2850"/>
<rect x="500.2" y="283.53" width="3.0" height="3.0" fill="#1a2850"/>
<circle cx="482.7" cy="298.395" r="1.5" fill="#fff" stroke="#2a5a2a" stroke-width="0.9"/>
<circle cx="501.7" cy="289.485" r="1.5" fill="#fff" stroke="#2a5a2a" stroke-width="0.9"/>
<rect x="481.2" y="283.53" width="3.0" height="3.0" fill="#6a1a2a"/>
<rect x="500.2" y="283.53" width="3.0" height="3.0" fill="#6a1a2a"/>
<path d="M481.4 265.5V261.5H501.09999999999997V265.5" fill="none" stroke="#444" stroke-width="0.8"/>
<text x="491.25" y="259.3" font-size="7" text-anchor="middle" fill="#333"><tspan font-style="italic">P</tspan> = .18</text>
<g transform="translate(485.50,358.20) rotate(-45)"><text x="0" y="0" font-size="9" text-anchor="end" fill="#222">T<tspan font-size="6" dy="1.8">M</tspan><tspan dy="-1.8"> CD4</tspan><tspan font-size="6.5" dy="-3.6">+</tspan><tspan dy="3.6"> D0</tspan></text></g>
<g transform="translate(504.50,358.20) rotate(-45)"><text x="0" y="0" font-size="9" text-anchor="end" fill="#222">T<tspan font-size="6" dy="1.8">M</tspan><tspan dy="-1.8"> CD4</tspan><tspan font-size="6.5" dy="-3.6">+</tspan><tspan dy="3.6"> Po</tspan></text></g>
<g transform="translate(264.6,304.3) rotate(-90)"><text x="0" y="0" font-size="9.8" font-weight="bold" text-anchor="middle" fill="#222" textLength="35.2" lengthAdjust="spacingAndGlyphs">Normalized</text></g>
<g transform="translate(277.6,302.6) rotate(-90)"><text x="0" y="0" font-size="9.8" text-anchor="middle" fill="#222" stroke="#222" stroke-width="0.2" textLength="46.3" lengthAdjust="spacingAndGlyphs">Shannon index</text></g>
<text x="1.00" y="423.00" font-size="11.3" text-anchor="start" font-weight="bold" >D</text>
<line x1="30.6" y1="430.3" x2="30.6" y2="521.5" stroke="#222" stroke-width="1"/>
<line x1="30.6" y1="521.5" x2="234.5" y2="521.5" stroke="#222" stroke-width="1"/>
<line x1="27.200000000000003" y1="521.50" x2="30.6" y2="521.50" stroke="#222" stroke-width="1"/>
<text x="24.60" y="524.50" font-size="8.6" text-anchor="end" fill="#222" >0</text>
<line x1="27.200000000000003" y1="499.20" x2="30.6" y2="499.20" stroke="#222" stroke-width="1"/>
<text x="24.60" y="502.20" font-size="8.6" text-anchor="end" fill="#222" >1</text>
<line x1="27.200000000000003" y1="476.90" x2="30.6" y2="476.90" stroke="#222" stroke-width="1"/>
<text x="24.60" y="479.90" font-size="8.6" text-anchor="end" fill="#222" >2</text>
<line x1="27.200000000000003" y1="454.60" x2="30.6" y2="454.60" stroke="#222" stroke-width="1"/>
<text x="24.60" y="457.60" font-size="8.6" text-anchor="end" fill="#222" >3</text>
<line x1="27.200000000000003" y1="432.30" x2="30.6" y2="432.30" stroke="#222" stroke-width="1"/>
<text x="24.60" y="435.30" font-size="8.6" text-anchor="end" fill="#222" >4</text>
<line x1="39.7" y1="521.5" x2="39.7" y2="524.0" stroke="#222" stroke-width="0.9"/>
<line x1="58.8" y1="521.5" x2="58.8" y2="524.0" stroke="#222" stroke-width="0.9"/>
<line x1="39.7" y1="513.03" x2="58.8" y2="484.70" stroke="#2c62a8" stroke-width="0.8"/>
<line x1="39.7" y1="498.08" x2="58.8" y2="463.07" stroke="#2c62a8" stroke-width="0.8"/>
<line x1="39.7" y1="490.28" x2="58.8" y2="488.50" stroke="#3f8f3f" stroke-width="0.8"/>
<line x1="39.7" y1="481.36" x2="58.8" y2="496.97" stroke="#c0354f" stroke-width="0.8"/>
<line x1="39.7" y1="474.67" x2="58.8" y2="478.01" stroke="#c0354f" stroke-width="0.8"/>
<line x1="39.7" y1="476.90" x2="58.8" y2="469.10" stroke="#2c62a8" stroke-width="0.8"/>
<line x1="39.7" y1="479.13" x2="58.8" y2="463.07" stroke="#2c62a8" stroke-width="0.8"/>
<line x1="39.7" y1="481.81" x2="58.8" y2="488.50" stroke="#3f8f3f" stroke-width="0.8"/>
<circle cx="39.7" cy="513.026" r="1.5" fill="#1a2850"/>
<circle cx="58.8" cy="484.705" r="1.5" fill="#1a2850"/>
<rect x="38.2" y="496.585" width="3.0" height="3.0" fill="#1a2850"/>
<rect x="57.3" y="461.574" width="3.0" height="3.0" fill="#1a2850"/>
<circle cx="39.7" cy="490.28" r="1.5" fill="#fff" stroke="#2a5a2a" stroke-width="0.9"/>
<circle cx="58.8" cy="488.496" r="1.5" fill="#fff" stroke="#2a5a2a" stroke-width="0.9"/>
<circle cx="39.7" cy="481.36" r="1.5" fill="#6a1a2a"/>
<circle cx="58.8" cy="496.97" r="1.5" fill="#6a1a2a"/>
<rect x="38.2" y="473.17" width="3.0" height="3.0" fill="#6a1a2a"/>
<rect x="57.3" y="476.515" width="3.0" height="3.0" fill="#6a1a2a"/>
<polygon points="38.050000000000004,475.54999999999995 41.35,475.54999999999995 39.7,478.7" fill="#1a2850"/>
<polygon points="57.15,467.745 60.449999999999996,467.745 58.8,470.89500000000004" fill="#1a2850"/>
<polygon points="38.050000000000004,480.48 41.35,480.48 39.7,477.33" fill="#1a2850"/>
<polygon points="57.15,464.42400000000004 60.449999999999996,464.42400000000004 58.8,461.274" fill="#1a2850"/>
<rect x="38.2" y="480.306" width="3.0" height="3.0" fill="#fff" stroke="#2a5a2a" stroke-width="0.9"/>
<rect x="57.3" y="486.996" width="3.0" height="3.0" fill="#fff" stroke="#2a5a2a" stroke-width="0.9"/>
<path d="M36.5 437.4V433.4H56.0V437.4" fill="none" stroke="#444" stroke-width="0.8"/>
<text x="46.25" y="431.2" font-size="7" text-anchor="middle" fill="#333"><tspan font-style="italic">P</tspan> = .22</text>
<g transform="translate(42.50,532.30) rotate(-45)"><text x="0" y="0" font-size="9" text-anchor="end" fill="#222">T<tspan font-size="6" dy="1.8">N</tspan><tspan dy="-1.8"> CD8</tspan><tspan font-size="6.5" dy="-3.6">+</tspan><tspan dy="3.6"> D0</tspan></text></g>
<g transform="translate(61.60,532.30) rotate(-45)"><text x="0" y="0" font-size="9" text-anchor="end" fill="#222">T<tspan font-size="6" dy="1.8">N</tspan><tspan dy="-1.8"> CD8</tspan><tspan font-size="6.5" dy="-3.6">+</tspan><tspan dy="3.6"> Po</tspan></text></g>
<line x1="96.7" y1="521.5" x2="96.7" y2="524.0" stroke="#222" stroke-width="0.9"/>
<line x1="116" y1="521.5" x2="116" y2="524.0" stroke="#222" stroke-width="0.9"/>
<line x1="96.7" y1="482.25" x2="116" y2="484.26" stroke="#c0354f" stroke-width="0.8"/>
<line x1="96.7" y1="489.17" x2="116" y2="466.20" stroke="#2c62a8" stroke-width="0.8"/>
<line x1="96.7" y1="496.30" x2="116" y2="475.79" stroke="#2c62a8" stroke-width="0.8"/>
<line x1="96.7" y1="504.77" x2="116" y2="499.20" stroke="#3f8f3f" stroke-width="0.8"/>
<line x1="96.7" y1="491.39" x2="116" y2="495.86" stroke="#c0354f" stroke-width="0.8"/>
<line x1="96.7" y1="492.51" x2="116" y2="476.90" stroke="#2c62a8" stroke-width="0.8"/>
<line x1="96.7" y1="488.05" x2="116" y2="480.25" stroke="#3f8f3f" stroke-width="0.8"/>
<line x1="96.7" y1="490.28" x2="116" y2="478.01" stroke="#2c62a8" stroke-width="0.8"/>
<circle cx="96.7" cy="482.252" r="1.5" fill="#6a1a2a"/>
<circle cx="116" cy="484.259" r="1.5" fill="#6a1a2a"/>
<polygon points="95.05,490.51500000000004 98.35000000000001,490.51500000000004 96.7,487.365" fill="#1a2850"/>
<polygon points="114.35,467.54600000000005 117.65,467.54600000000005 116,464.396" fill="#1a2850"/>
<rect x="95.2" y="494.801" width="3.0" height="3.0" fill="#1a2850"/>
<rect x="114.5" y="474.285" width="3.0" height="3.0" fill="#1a2850"/>
<circle cx="96.7" cy="504.775" r="1.5" fill="#fff" stroke="#2a5a2a" stroke-width="0.9"/>
<circle cx="116" cy="499.2" r="1.5" fill="#fff" stroke="#2a5a2a" stroke-width="0.9"/>
<rect x="95.2" y="489.895" width="3.0" height="3.0" fill="#6a1a2a"/>
<rect x="114.5" y="494.355" width="3.0" height="3.0" fill="#6a1a2a"/>
<circle cx="96.7" cy="492.51" r="1.5" fill="#1a2850"/>
<circle cx="116" cy="476.9" r="1.5" fill="#1a2850"/>
<rect x="95.2" y="486.55" width="3.0" height="3.0" fill="#fff" stroke="#2a5a2a" stroke-width="0.9"/>
<rect x="114.5" y="478.745" width="3.0" height="3.0" fill="#fff" stroke="#2a5a2a" stroke-width="0.9"/>
<polygon points="95.05,488.92999999999995 98.35000000000001,488.92999999999995 96.7,492.08" fill="#1a2850"/>
<polygon points="114.35,476.66499999999996 117.65,476.66499999999996 116,479.815" fill="#1a2850"/>
<path d="M93.5 437.4V433.4H113.2V437.4" fill="none" stroke="#444" stroke-width="0.8"/>
<text x="103.35" y="431.20" font-size="7" text-anchor="middle" fill="#333" >*</text>
<g transform="translate(99.50,532.30) rotate(-45)"><text x="0" y="0" font-size="9" text-anchor="end" fill="#222">T<tspan font-size="6" dy="1.8">N</tspan><tspan dy="-1.8"> CD4</tspan><tspan font-size="6.5" dy="-3.6">+</tspan><tspan dy="3.6"> D0</tspan></text></g>
<g transform="translate(118.80,532.30) rotate(-45)"><text x="0" y="0" font-size="9" text-anchor="end" fill="#222">T<tspan font-size="6" dy="1.8">N</tspan><tspan dy="-1.8"> CD4</tspan><tspan font-size="6.5" dy="-3.6">+</tspan><tspan dy="3.6"> Po</tspan></text></g>
<line x1="152.5" y1="521.5" x2="152.5" y2="524.0" stroke="#222" stroke-width="0.9"/>
<line x1="172.5" y1="521.5" x2="172.5" y2="524.0" stroke="#222" stroke-width="0.9"/>
<line x1="152.5" y1="494.07" x2="172.5" y2="500.98" stroke="#c0354f" stroke-width="0.8"/>
<line x1="152.5" y1="498.53" x2="172.5" y2="504.77" stroke="#3f8f3f" stroke-width="0.8"/>
<line x1="152.5" y1="506.78" x2="172.5" y2="507.00" stroke="#c0354f" stroke-width="0.8"/>
<line x1="152.5" y1="512.58" x2="172.5" y2="505.89" stroke="#2c62a8" stroke-width="0.8"/>
<line x1="152.5" y1="514.81" x2="172.5" y2="508.12" stroke="#2c62a8" stroke-width="0.8"/>
<line x1="152.5" y1="516.15" x2="172.5" y2="510.35" stroke="#2c62a8" stroke-width="0.8"/>
<line x1="152.5" y1="518.15" x2="172.5" y2="513.70" stroke="#2c62a8" stroke-width="0.8"/>
<line x1="152.5" y1="511.46" x2="172.5" y2="508.12" stroke="#3f8f3f" stroke-width="0.8"/>
<rect x="151.0" y="492.571" width="3.0" height="3.0" fill="#6a1a2a"/>
<rect x="171.0" y="499.484" width="3.0" height="3.0" fill="#6a1a2a"/>
<circle cx="152.5" cy="498.531" r="1.5" fill="#fff" stroke="#2a5a2a" stroke-width="0.9"/>
<circle cx="172.5" cy="504.775" r="1.5" fill="#fff" stroke="#2a5a2a" stroke-width="0.9"/>
<circle cx="152.5" cy="506.782" r="1.5" fill="#6a1a2a"/>
<circle cx="172.5" cy="507.005" r="1.5" fill="#6a1a2a"/>
<circle cx="152.5" cy="512.58" r="1.5" fill="#1a2850"/>
<circle cx="172.5" cy="505.89" r="1.5" fill="#1a2850"/>
<rect x="151.0" y="513.31" width="3.0" height="3.0" fill="#1a2850"/>
<rect x="171.0" y="506.62" width="3.0" height="3.0" fill="#1a2850"/>
<polygon points="150.85,517.498 154.15,517.498 152.5,514.3480000000001" fill="#1a2850"/>
<polygon points="170.85,511.70000000000005 174.15,511.70000000000005 172.5,508.55" fill="#1a2850"/>
<polygon points="150.85,516.805 154.15,516.805 152.5,519.9549999999999" fill="#1a2850"/>
<polygon points="170.85,512.345 174.15,512.345 172.5,515.495" fill="#1a2850"/>
<rect x="151.0" y="509.965" width="3.0" height="3.0" fill="#fff" stroke="#2a5a2a" stroke-width="0.9"/>
<rect x="171.0" y="506.62" width="3.0" height="3.0" fill="#fff" stroke="#2a5a2a" stroke-width="0.9"/>
<path d="M149.3 437.4V433.4H169.7V437.4" fill="none" stroke="#444" stroke-width="0.8"/>
<text x="159.50" y="431.20" font-size="7" text-anchor="middle" fill="#333" >ns</text>
<g transform="translate(155.30,532.30) rotate(-45)"><text x="0" y="0" font-size="9" text-anchor="end" fill="#222">T<tspan font-size="6" dy="1.8">M</tspan><tspan dy="-1.8"> CD8</tspan><tspan font-size="6.5" dy="-3.6">+</tspan><tspan dy="3.6"> D0</tspan></text></g>
<g transform="translate(175.30,532.30) rotate(-45)"><text x="0" y="0" font-size="9" text-anchor="end" fill="#222">T<tspan font-size="6" dy="1.8">M</tspan><tspan dy="-1.8"> CD8</tspan><tspan font-size="6.5" dy="-3.6">+</tspan><tspan dy="3.6"> Po</tspan></text></g>
<line x1="210.5" y1="521.5" x2="210.5" y2="524.0" stroke="#222" stroke-width="0.9"/>
<line x1="229.3" y1="521.5" x2="229.3" y2="524.0" stroke="#222" stroke-width="0.9"/>
<line x1="210.5" y1="463.07" x2="229.3" y2="440.55" stroke="#c0354f" stroke-width="0.8"/>
<line x1="210.5" y1="480.69" x2="229.3" y2="485.82" stroke="#c0354f" stroke-width="0.8"/>
<line x1="210.5" y1="489.39" x2="229.3" y2="483.59" stroke="#2c62a8" stroke-width="0.8"/>
<line x1="210.5" y1="492.51" x2="229.3" y2="488.05" stroke="#2c62a8" stroke-width="0.8"/>
<line x1="210.5" y1="494.29" x2="229.3" y2="491.39" stroke="#2c62a8" stroke-width="0.8"/>
<line x1="210.5" y1="495.86" x2="229.3" y2="492.51" stroke="#3f8f3f" stroke-width="0.8"/>
<line x1="210.5" y1="494.74" x2="229.3" y2="493.62" stroke="#2c62a8" stroke-width="0.8"/>
<line x1="210.5" y1="504.33" x2="229.3" y2="494.74" stroke="#3f8f3f" stroke-width="0.8"/>
<circle cx="210.5" cy="463.074" r="1.5" fill="#6a1a2a"/>
<circle cx="229.3" cy="440.551" r="1.5" fill="#6a1a2a"/>
<rect x="209.0" y="479.191" width="3.0" height="3.0" fill="#6a1a2a"/>
<rect x="227.8" y="484.32" width="3.0" height="3.0" fill="#6a1a2a"/>
<polygon points="208.85,490.738 212.15,490.738 210.5,487.58799999999997" fill="#1a2850"/>
<polygon points="227.65,484.94 230.95000000000002,484.94 229.3,481.78999999999996" fill="#1a2850"/>
<circle cx="210.5" cy="492.51" r="1.5" fill="#1a2850"/>
<circle cx="229.3" cy="488.05" r="1.5" fill="#1a2850"/>
<polygon points="208.85,492.94399999999996 212.15,492.94399999999996 210.5,496.094" fill="#1a2850"/>
<polygon points="227.65,490.04499999999996 230.95000000000002,490.04499999999996 229.3,493.195" fill="#1a2850"/>
<circle cx="210.5" cy="495.855" r="1.5" fill="#fff" stroke="#2a5a2a" stroke-width="0.9"/>
<circle cx="229.3" cy="492.51" r="1.5" fill="#fff" stroke="#2a5a2a" stroke-width="0.9"/>
<rect x="209.0" y="493.24" width="3.0" height="3.0" fill="#1a2850"/>
<rect x="227.8" y="492.125" width="3.0" height="3.0" fill="#1a2850"/>
<rect x="209.0" y="502.829" width="3.0" height="3.0" fill="#fff" stroke="#2a5a2a" stroke-width="0.9"/>
<rect x="227.8" y="493.24" width="3.0" height="3.0" fill="#fff" stroke="#2a5a2a" stroke-width="0.9"/>
<path d="M207.3 437.4V433.4H226.5V437.4" fill="none" stroke="#444" stroke-width="0.8"/>
<text x="216.90" y="431.2" font-size="7" text-anchor="middle" fill="#333"><tspan font-style="italic">P</tspan> = .11</text>
<g transform="translate(213.30,532.30) rotate(-45)"><text x="0" y="0" font-size="9" text-anchor="end" fill="#222">T<tspan font-size="6" dy="1.8">M</tspan><tspan dy="-1.8"> CD4</tspan><tspan font-size="6.5" dy="-3.6">+</tspan><tspan dy="3.6"> D0</tspan></text></g>
<g transform="translate(232.10,532.30) rotate(-45)"><text x="0" y="0" font-size="9" text-anchor="end" fill="#222">T<tspan font-size="6" dy="1.8">M</tspan><tspan dy="-1.8"> CD4</tspan><tspan font-size="6.5" dy="-3.6">+</tspan><tspan dy="3.6"> Po</tspan></text></g>
<g transform="translate(10.8,478) rotate(-90)"><text x="0" y="0" font-size="9.8" text-anchor="middle" fill="#222" stroke="#222" stroke-width="0.25" textLength="34" lengthAdjust="spacingAndGlyphs">U/T index</text></g>
<text x="256.30" y="423.00" font-size="11.3" text-anchor="start" font-weight="bold" >E</text>
<text x="269.5" y="434.3" font-size="9.2" fill="#222" textLength="159.5" lengthAdjust="spacingAndGlyphs">TCR<tspan font-size="6" dy="2">β</tspan><tspan dy="-2"> VJ gene usage of naive CD8</tspan><tspan font-size="7.5" dy="-2.8">+</tspan><tspan dy="2.8"> T cells</tspan></text>
<text x="452.00" y="427.40" font-size="6.4" text-anchor="start" fill="#222" textLength="42.6" lengthAdjust="spacingAndGlyphs" >Data value (%)</text>
<defs><linearGradient id="cb" x1="0" x2="1" y1="0" y2="0"><stop offset="0" stop-color="#e8e8f8"/><stop offset="0.1" stop-color="#8878d0"/><stop offset="0.25" stop-color="#3a1c9a"/><stop offset="0.5" stop-color="#4a18a0"/><stop offset="0.7" stop-color="#8a1aa0"/><stop offset="0.85" stop-color="#d01a70"/><stop offset="1" stop-color="#f0302a"/></linearGradient></defs>
<rect x="443.5" y="428.8" width="62" height="7.2" fill="url(#cb)"/>
<text x="443.50" y="443.30" font-size="6.2" text-anchor="start" fill="#222" >0</text>
<text x="455.80" y="443.30" font-size="6.2" text-anchor="middle" fill="#222" >0.2</text>
<text x="468.10" y="443.30" font-size="6.2" text-anchor="middle" fill="#222" >0.4</text>
<text x="480.40" y="443.30" font-size="6.2" text-anchor="middle" fill="#222" >0.6</text>
<text x="492.70" y="443.30" font-size="6.2" text-anchor="middle" fill="#222" >0.8</text>
<text x="501.00" y="443.30" font-size="6.2" text-anchor="start" fill="#222" >Above</text>
<text x="507.20" y="448.50" font-size="6.2" text-anchor="start" fill="#222" >1.0</text>
<text x="259.50" y="448.80" font-size="6.5" text-anchor="start" fill="#222" >D0</text>
<path fill="#3b18a2" d="M269.10 451.80h5.17v5.16h-5.17zM274.27 451.80h5.17v5.16h-5.17zM284.61 451.80h5.17v5.16h-5.17zM294.95 451.80h5.17v5.16h-5.17zM300.12 451.80h5.17v5.16h-5.17zM336.31 451.80h5.17v5.16h-5.17zM346.65 451.80h5.17v5.16h-5.17zM351.82 451.80h5.17v5.16h-5.17zM356.99 451.80h5.17v5.16h-5.17zM362.16 451.80h5.17v5.16h-5.17zM367.33 451.80h5.17v5.16h-5.17zM377.67 451.80h5.17v5.16h-5.17zM382.84 451.80h5.17v5.16h-5.17zM388.01 451.80h5.17v5.16h-5.17zM398.35 451.80h5.17v5.16h-5.17zM408.69 451.80h5.17v5.16h-5.17zM413.86 451.80h5.17v5.16h-5.17zM429.37 451.80h5.17v5.16h-5.17zM444.88 451.80h5.17v5.16h-5.17zM455.22 451.80h5.17v5.16h-5.17zM470.73 451.80h5.17v5.16h-5.17zM486.24 451.80h5.17v5.16h-5.17zM506.92 451.80h5.17v5.16h-5.17zM512.09 451.80h5.17v5.16h-5.17zM269.10 456.96h5.17v5.16h-5.17zM274.27 456.96h5.17v5.16h-5.17zM279.44 456.96h5.17v5.16h-5.17zM284.61 456.96h5.17v5.16h-5.17zM289.78 456.96h5.17v5.16h-5.17zM294.95 456.96h5.17v5.16h-5.17zM320.80 456.96h5.17v5.16h-5.17zM331.14 456.96h5.17v5.16h-5.17zM336.31 456.96h5.17v5.16h-5.17zM341.48 456.96h5.17v5.16h-5.17zM346.65 456.96h5.17v5.16h-5.17zM351.82 456.96h5.17v5.16h-5.17zM356.99 456.96h5.17v5.16h-5.17zM362.16 456.96h5.17v5.16h-5.17zM367.33 456.96h5.17v5.16h-5.17zM388.01 456.96h5.17v5.16h-5.17zM393.18 456.96h5.17v5.16h-5.17zM413.86 456.96h5.17v5.16h-5.17zM439.71 456.96h5.17v5.16h-5.17zM444.88 456.96h5.17v5.16h-5.17zM455.22 456.96h5.17v5.16h-5.17zM460.39 456.96h5.17v5.16h-5.17zM475.90 456.96h5.17v5.16h-5.17zM491.41 456.96h5.17v5.16h-5.17zM501.75 456.96h5.17v5.16h-5.17zM506.92 456.96h5.17v5.16h-5.17zM274.27 462.12h5.17v5.16h-5.17zM279.44 462.12h5.17v5.16h-5.17zM284.61 462.12h5.17v5.16h-5.17zM289.78 462.12h5.17v5.16h-5.17zM320.80 462.12h5.17v5.16h-5.17zM331.14 462.12h5.17v5.16h-5.17zM341.48 462.12h5.17v5.16h-5.17zM346.65 462.12h5.17v5.16h-5.17zM351.82 462.12h5.17v5.16h-5.17zM356.99 462.12h5.17v5.16h-5.17zM362.16 462.12h5.17v5.16h-5.17zM388.01 462.12h5.17v5.16h-5.17zM393.18 462.12h5.17v5.16h-5.17zM439.71 462.12h5.17v5.16h-5.17zM481.07 462.12h5.17v5.16h-5.17zM501.75 462.12h5.17v5.16h-5.17zM279.44 467.28h5.17v5.16h-5.17zM289.78 467.28h5.17v5.16h-5.17zM320.80 467.28h5.17v5.16h-5.17zM331.14 467.28h5.17v5.16h-5.17zM341.48 467.28h5.17v5.16h-5.17zM346.65 467.28h5.17v5.16h-5.17zM351.82 467.28h5.17v5.16h-5.17zM356.99 467.28h5.17v5.16h-5.17zM393.18 467.28h5.17v5.16h-5.17zM439.71 467.28h5.17v5.16h-5.17zM460.39 467.28h5.17v5.16h-5.17zM475.90 467.28h5.17v5.16h-5.17zM481.07 467.28h5.17v5.16h-5.17zM491.41 467.28h5.17v5.16h-5.17zM501.75 467.28h5.17v5.16h-5.17zM269.10 472.44h5.17v5.16h-5.17zM274.27 472.44h5.17v5.16h-5.17zM284.61 472.44h5.17v5.16h-5.17zM289.78 472.44h5.17v5.16h-5.17zM294.95 472.44h5.17v5.16h-5.17zM320.80 472.44h5.17v5.16h-5.17zM331.14 472.44h5.17v5.16h-5.17zM341.48 472.44h5.17v5.16h-5.17zM346.65 472.44h5.17v5.16h-5.17zM351.82 472.44h5.17v5.16h-5.17zM356.99 472.44h5.17v5.16h-5.17zM362.16 472.44h5.17v5.16h-5.17zM388.01 472.44h5.17v5.16h-5.17zM393.18 472.44h5.17v5.16h-5.17zM413.86 472.44h5.17v5.16h-5.17zM439.71 472.44h5.17v5.16h-5.17zM444.88 472.44h5.17v5.16h-5.17zM460.39 472.44h5.17v5.16h-5.17zM491.41 472.44h5.17v5.16h-5.17zM269.10 477.60h5.17v5.16h-5.17zM279.44 477.60h5.17v5.16h-5.17zM284.61 477.60h5.17v5.16h-5.17zM289.78 477.60h5.17v5.16h-5.17zM320.80 477.60h5.17v5.16h-5.17zM331.14 477.60h5.17v5.16h-5.17zM341.48 477.60h5.17v5.16h-5.17zM346.65 477.60h5.17v5.16h-5.17zM351.82 477.60h5.17v5.16h-5.17zM356.99 477.60h5.17v5.16h-5.17zM388.01 477.60h5.17v5.16h-5.17zM393.18 477.60h5.17v5.16h-5.17zM481.07 477.60h5.17v5.16h-5.17zM491.41 477.60h5.17v5.16h-5.17zM501.75 477.60h5.17v5.16h-5.17zM269.10 482.76h5.17v5.16h-5.17zM274.27 482.76h5.17v5.16h-5.17zM284.61 482.76h5.17v5.16h-5.17zM294.95 482.76h5.17v5.16h-5.17zM300.12 482.76h5.17v5.16h-5.17zM346.65 482.76h5.17v5.16h-5.17zM356.99 482.76h5.17v5.16h-5.17zM362.16 482.76h5.17v5.16h-5.17zM367.33 482.76h5.17v5.16h-5.17zM377.67 482.76h5.17v5.16h-5.17zM382.84 482.76h5.17v5.16h-5.17zM398.35 482.76h5.17v5.16h-5.17zM413.86 482.76h5.17v5.16h-5.17zM424.20 482.76h5.17v5.16h-5.17zM429.37 482.76h5.17v5.16h-5.17zM444.88 482.76h5.17v5.16h-5.17zM455.22 482.76h5.17v5.16h-5.17zM470.73 482.76h5.17v5.16h-5.17zM486.24 482.76h5.17v5.16h-5.17zM506.92 482.76h5.17v5.16h-5.17zM269.10 487.92h5.17v5.16h-5.17zM274.27 487.92h5.17v5.16h-5.17zM279.44 487.92h5.17v5.16h-5.17zM284.61 487.92h5.17v5.16h-5.17zM289.78 487.92h5.17v5.16h-5.17zM320.80 487.92h5.17v5.16h-5.17zM331.14 487.92h5.17v5.16h-5.17zM341.48 487.92h5.17v5.16h-5.17zM346.65 487.92h5.17v5.16h-5.17zM351.82 487.92h5.17v5.16h-5.17zM356.99 487.92h5.17v5.16h-5.17zM362.16 487.92h5.17v5.16h-5.17zM388.01 487.92h5.17v5.16h-5.17zM393.18 487.92h5.17v5.16h-5.17zM439.71 487.92h5.17v5.16h-5.17zM444.88 487.92h5.17v5.16h-5.17zM460.39 487.92h5.17v5.16h-5.17zM475.90 487.92h5.17v5.16h-5.17zM481.07 487.92h5.17v5.16h-5.17zM491.41 487.92h5.17v5.16h-5.17zM501.75 487.92h5.17v5.16h-5.17zM506.92 487.92h5.17v5.16h-5.17zM269.10 493.08h5.17v5.16h-5.17zM274.27 493.08h5.17v5.16h-5.17zM284.61 493.08h5.17v5.16h-5.17zM294.95 493.08h5.17v5.16h-5.17zM300.12 493.08h5.17v5.16h-5.17zM341.48 493.08h5.17v5.16h-5.17zM346.65 493.08h5.17v5.16h-5.17zM356.99 493.08h5.17v5.16h-5.17zM362.16 493.08h5.17v5.16h-5.17zM367.33 493.08h5.17v5.16h-5.17zM377.67 493.08h5.17v5.16h-5.17zM382.84 493.08h5.17v5.16h-5.17zM388.01 493.08h5.17v5.16h-5.17zM398.35 493.08h5.17v5.16h-5.17zM403.52 493.08h5.17v5.16h-5.17zM413.86 493.08h5.17v5.16h-5.17zM429.37 493.08h5.17v5.16h-5.17zM444.88 493.08h5.17v5.16h-5.17zM455.22 493.08h5.17v5.16h-5.17zM460.39 493.08h5.17v5.16h-5.17zM470.73 493.08h5.17v5.16h-5.17zM486.24 493.08h5.17v5.16h-5.17zM506.92 493.08h5.17v5.16h-5.17zM320.80 498.24h5.17v5.16h-5.17zM331.14 498.24h5.17v5.16h-5.17zM393.18 498.24h5.17v5.16h-5.17zM481.07 498.24h5.17v5.16h-5.17zM496.58 498.24h5.17v5.16h-5.17zM501.75 498.24h5.17v5.16h-5.17zM269.10 503.40h5.17v5.16h-5.17zM274.27 503.40h5.17v5.16h-5.17zM279.44 503.40h5.17v5.16h-5.17zM284.61 503.40h5.17v5.16h-5.17zM289.78 503.40h5.17v5.16h-5.17zM294.95 503.40h5.17v5.16h-5.17zM320.80 503.40h5.17v5.16h-5.17zM341.48 503.40h5.17v5.16h-5.17zM346.65 503.40h5.17v5.16h-5.17zM351.82 503.40h5.17v5.16h-5.17zM356.99 503.40h5.17v5.16h-5.17zM362.16 503.40h5.17v5.16h-5.17zM377.67 503.40h5.17v5.16h-5.17zM382.84 503.40h5.17v5.16h-5.17zM388.01 503.40h5.17v5.16h-5.17zM413.86 503.40h5.17v5.16h-5.17zM424.20 503.40h5.17v5.16h-5.17zM429.37 503.40h5.17v5.16h-5.17zM439.71 503.40h5.17v5.16h-5.17zM455.22 503.40h5.17v5.16h-5.17zM460.39 503.40h5.17v5.16h-5.17zM470.73 503.40h5.17v5.16h-5.17zM475.90 503.40h5.17v5.16h-5.17zM481.07 503.40h5.17v5.16h-5.17zM486.24 503.40h5.17v5.16h-5.17zM491.41 503.40h5.17v5.16h-5.17zM506.92 503.40h5.17v5.16h-5.17zM341.48 508.56h5.17v5.16h-5.17zM367.33 508.56h5.17v5.16h-5.17zM393.18 508.56h5.17v5.16h-5.17zM481.07 508.56h5.17v5.16h-5.17zM491.41 508.56h5.17v5.16h-5.17zM496.58 508.56h5.17v5.16h-5.17zM274.27 513.72h5.17v5.16h-5.17zM294.95 513.72h5.17v5.16h-5.17zM300.12 513.72h5.17v5.16h-5.17zM320.80 513.72h5.17v5.16h-5.17zM346.65 513.72h5.17v5.16h-5.17zM356.99 513.72h5.17v5.16h-5.17zM362.16 513.72h5.17v5.16h-5.17zM377.67 513.72h5.17v5.16h-5.17zM382.84 513.72h5.17v5.16h-5.17zM388.01 513.72h5.17v5.16h-5.17zM398.35 513.72h5.17v5.16h-5.17zM413.86 513.72h5.17v5.16h-5.17zM419.03 513.72h5.17v5.16h-5.17zM429.37 513.72h5.17v5.16h-5.17zM439.71 513.72h5.17v5.16h-5.17zM444.88 513.72h5.17v5.16h-5.17zM455.22 513.72h5.17v5.16h-5.17zM460.39 513.72h5.17v5.16h-5.17zM470.73 513.72h5.17v5.16h-5.17zM491.41 513.72h5.17v5.16h-5.17zM506.92 513.72h5.17v5.16h-5.17z"/>
<path fill="#c0187a" d="M279.44 451.80h5.17v5.16h-5.17zM320.80 451.80h5.17v5.16h-5.17zM393.18 451.80h5.17v5.16h-5.17zM491.41 451.80h5.17v5.16h-5.17zM481.07 456.96h5.17v5.16h-5.17zM481.07 472.44h5.17v5.16h-5.17zM496.58 477.60h5.17v5.16h-5.17zM279.44 482.76h5.17v5.16h-5.17zM289.78 482.76h5.17v5.16h-5.17zM320.80 482.76h5.17v5.16h-5.17zM388.01 482.76h5.17v5.16h-5.17zM393.18 482.76h5.17v5.16h-5.17zM491.41 482.76h5.17v5.16h-5.17zM496.58 487.92h5.17v5.16h-5.17zM320.80 493.08h5.17v5.16h-5.17zM393.18 493.08h5.17v5.16h-5.17zM331.14 503.40h5.17v5.16h-5.17zM501.75 503.40h5.17v5.16h-5.17zM289.78 513.72h5.17v5.16h-5.17zM393.18 513.72h5.17v5.16h-5.17z"/>
<path fill="#5c1ca6" d="M289.78 451.80h5.17v5.16h-5.17zM341.48 451.80h5.17v5.16h-5.17zM439.71 451.80h5.17v5.16h-5.17zM460.39 451.80h5.17v5.16h-5.17zM475.90 451.80h5.17v5.16h-5.17zM496.58 462.12h5.17v5.16h-5.17zM496.58 467.28h5.17v5.16h-5.17zM279.44 472.44h5.17v5.16h-5.17zM475.90 472.44h5.17v5.16h-5.17zM341.48 482.76h5.17v5.16h-5.17zM351.82 482.76h5.17v5.16h-5.17zM439.71 482.76h5.17v5.16h-5.17zM460.39 482.76h5.17v5.16h-5.17zM475.90 482.76h5.17v5.16h-5.17zM279.44 493.08h5.17v5.16h-5.17zM289.78 493.08h5.17v5.16h-5.17zM351.82 493.08h5.17v5.16h-5.17zM439.71 493.08h5.17v5.16h-5.17zM475.90 493.08h5.17v5.16h-5.17zM491.41 493.08h5.17v5.16h-5.17zM393.18 503.40h5.17v5.16h-5.17zM269.10 513.72h5.17v5.16h-5.17zM279.44 513.72h5.17v5.16h-5.17zM284.61 513.72h5.17v5.16h-5.17zM341.48 513.72h5.17v5.16h-5.17zM351.82 513.72h5.17v5.16h-5.17zM475.90 513.72h5.17v5.16h-5.17z"/>
<path fill="#c8c4ee" d="M305.29 451.80h5.17v5.16h-5.17zM310.46 451.80h5.17v5.16h-5.17zM465.56 451.80h5.17v5.16h-5.17zM310.46 456.96h5.17v5.16h-5.17zM403.52 456.96h5.17v5.16h-5.17zM429.37 456.96h5.17v5.16h-5.17zM269.10 462.12h5.17v5.16h-5.17zM294.95 462.12h5.17v5.16h-5.17zM300.12 462.12h5.17v5.16h-5.17zM382.84 462.12h5.17v5.16h-5.17zM429.37 462.12h5.17v5.16h-5.17zM444.88 462.12h5.17v5.16h-5.17zM470.73 462.12h5.17v5.16h-5.17zM475.90 462.12h5.17v5.16h-5.17zM506.92 462.12h5.17v5.16h-5.17zM274.27 467.28h5.17v5.16h-5.17zM294.95 467.28h5.17v5.16h-5.17zM367.33 467.28h5.17v5.16h-5.17zM372.50 467.28h5.17v5.16h-5.17zM377.67 467.28h5.17v5.16h-5.17zM429.37 467.28h5.17v5.16h-5.17zM444.88 467.28h5.17v5.16h-5.17zM455.22 467.28h5.17v5.16h-5.17zM506.92 467.28h5.17v5.16h-5.17zM310.46 472.44h5.17v5.16h-5.17zM367.33 472.44h5.17v5.16h-5.17zM372.50 472.44h5.17v5.16h-5.17zM377.67 472.44h5.17v5.16h-5.17zM398.35 472.44h5.17v5.16h-5.17zM408.69 472.44h5.17v5.16h-5.17zM429.37 472.44h5.17v5.16h-5.17zM455.22 472.44h5.17v5.16h-5.17zM470.73 472.44h5.17v5.16h-5.17zM506.92 472.44h5.17v5.16h-5.17zM274.27 477.60h5.17v5.16h-5.17zM367.33 477.60h5.17v5.16h-5.17zM460.39 477.60h5.17v5.16h-5.17zM475.90 477.60h5.17v5.16h-5.17zM305.29 482.76h5.17v5.16h-5.17zM315.63 482.76h5.17v5.16h-5.17zM408.69 482.76h5.17v5.16h-5.17zM419.03 482.76h5.17v5.16h-5.17zM294.95 487.92h5.17v5.16h-5.17zM310.46 487.92h5.17v5.16h-5.17zM382.84 487.92h5.17v5.16h-5.17zM408.69 487.92h5.17v5.16h-5.17zM455.22 487.92h5.17v5.16h-5.17zM305.29 493.08h5.17v5.16h-5.17zM310.46 493.08h5.17v5.16h-5.17zM408.69 493.08h5.17v5.16h-5.17zM450.05 493.08h5.17v5.16h-5.17zM512.09 493.08h5.17v5.16h-5.17zM279.44 498.24h5.17v5.16h-5.17zM289.78 498.24h5.17v5.16h-5.17zM346.65 498.24h5.17v5.16h-5.17zM367.33 498.24h5.17v5.16h-5.17zM398.35 498.24h5.17v5.16h-5.17zM424.20 498.24h5.17v5.16h-5.17zM429.37 498.24h5.17v5.16h-5.17zM506.92 498.24h5.17v5.16h-5.17zM310.46 503.40h5.17v5.16h-5.17zM315.63 503.40h5.17v5.16h-5.17zM450.05 503.40h5.17v5.16h-5.17zM284.61 508.56h5.17v5.16h-5.17zM289.78 508.56h5.17v5.16h-5.17zM336.31 508.56h5.17v5.16h-5.17zM346.65 508.56h5.17v5.16h-5.17zM362.16 508.56h5.17v5.16h-5.17zM429.37 508.56h5.17v5.16h-5.17zM439.71 508.56h5.17v5.16h-5.17zM475.90 508.56h5.17v5.16h-5.17zM305.29 513.72h5.17v5.16h-5.17zM310.46 513.72h5.17v5.16h-5.17zM315.63 513.72h5.17v5.16h-5.17zM336.31 513.72h5.17v5.16h-5.17zM424.20 513.72h5.17v5.16h-5.17zM450.05 513.72h5.17v5.16h-5.17zM465.56 513.72h5.17v5.16h-5.17zM486.24 513.72h5.17v5.16h-5.17zM512.09 513.72h5.17v5.16h-5.17z"/>
<path fill="#f6f5ff" d="M315.63 451.80h5.17v5.16h-5.17zM325.97 451.80h5.17v5.16h-5.17zM372.50 451.80h5.17v5.16h-5.17zM434.54 451.80h5.17v5.16h-5.17zM450.05 451.80h5.17v5.16h-5.17zM305.29 456.96h5.17v5.16h-5.17zM315.63 456.96h5.17v5.16h-5.17zM325.97 456.96h5.17v5.16h-5.17zM372.50 456.96h5.17v5.16h-5.17zM377.67 456.96h5.17v5.16h-5.17zM382.84 456.96h5.17v5.16h-5.17zM398.35 456.96h5.17v5.16h-5.17zM408.69 456.96h5.17v5.16h-5.17zM419.03 456.96h5.17v5.16h-5.17zM424.20 456.96h5.17v5.16h-5.17zM434.54 456.96h5.17v5.16h-5.17zM450.05 456.96h5.17v5.16h-5.17zM465.56 456.96h5.17v5.16h-5.17zM512.09 456.96h5.17v5.16h-5.17zM305.29 462.12h5.17v5.16h-5.17zM310.46 462.12h5.17v5.16h-5.17zM315.63 462.12h5.17v5.16h-5.17zM325.97 462.12h5.17v5.16h-5.17zM336.31 462.12h5.17v5.16h-5.17zM367.33 462.12h5.17v5.16h-5.17zM372.50 462.12h5.17v5.16h-5.17zM398.35 462.12h5.17v5.16h-5.17zM403.52 462.12h5.17v5.16h-5.17zM408.69 462.12h5.17v5.16h-5.17zM419.03 462.12h5.17v5.16h-5.17zM424.20 462.12h5.17v5.16h-5.17zM434.54 462.12h5.17v5.16h-5.17zM450.05 462.12h5.17v5.16h-5.17zM460.39 462.12h5.17v5.16h-5.17zM465.56 462.12h5.17v5.16h-5.17zM486.24 462.12h5.17v5.16h-5.17zM491.41 462.12h5.17v5.16h-5.17zM512.09 462.12h5.17v5.16h-5.17zM284.61 467.28h5.17v5.16h-5.17zM300.12 467.28h5.17v5.16h-5.17zM305.29 467.28h5.17v5.16h-5.17zM310.46 467.28h5.17v5.16h-5.17zM315.63 467.28h5.17v5.16h-5.17zM325.97 467.28h5.17v5.16h-5.17zM336.31 467.28h5.17v5.16h-5.17zM382.84 467.28h5.17v5.16h-5.17zM398.35 467.28h5.17v5.16h-5.17zM403.52 467.28h5.17v5.16h-5.17zM408.69 467.28h5.17v5.16h-5.17zM419.03 467.28h5.17v5.16h-5.17zM424.20 467.28h5.17v5.16h-5.17zM434.54 467.28h5.17v5.16h-5.17zM450.05 467.28h5.17v5.16h-5.17zM465.56 467.28h5.17v5.16h-5.17zM470.73 467.28h5.17v5.16h-5.17zM486.24 467.28h5.17v5.16h-5.17zM512.09 467.28h5.17v5.16h-5.17zM305.29 472.44h5.17v5.16h-5.17zM315.63 472.44h5.17v5.16h-5.17zM325.97 472.44h5.17v5.16h-5.17zM336.31 472.44h5.17v5.16h-5.17zM403.52 472.44h5.17v5.16h-5.17zM419.03 472.44h5.17v5.16h-5.17zM424.20 472.44h5.17v5.16h-5.17zM434.54 472.44h5.17v5.16h-5.17zM450.05 472.44h5.17v5.16h-5.17zM465.56 472.44h5.17v5.16h-5.17zM486.24 472.44h5.17v5.16h-5.17zM512.09 472.44h5.17v5.16h-5.17zM300.12 477.60h5.17v5.16h-5.17zM305.29 477.60h5.17v5.16h-5.17zM310.46 477.60h5.17v5.16h-5.17zM315.63 477.60h5.17v5.16h-5.17zM325.97 477.60h5.17v5.16h-5.17zM336.31 477.60h5.17v5.16h-5.17zM372.50 477.60h5.17v5.16h-5.17zM377.67 477.60h5.17v5.16h-5.17zM382.84 477.60h5.17v5.16h-5.17zM398.35 477.60h5.17v5.16h-5.17zM403.52 477.60h5.17v5.16h-5.17zM408.69 477.60h5.17v5.16h-5.17zM419.03 477.60h5.17v5.16h-5.17zM424.20 477.60h5.17v5.16h-5.17zM429.37 477.60h5.17v5.16h-5.17zM434.54 477.60h5.17v5.16h-5.17zM444.88 477.60h5.17v5.16h-5.17zM450.05 477.60h5.17v5.16h-5.17zM465.56 477.60h5.17v5.16h-5.17zM470.73 477.60h5.17v5.16h-5.17zM486.24 477.60h5.17v5.16h-5.17zM506.92 477.60h5.17v5.16h-5.17zM512.09 477.60h5.17v5.16h-5.17zM325.97 482.76h5.17v5.16h-5.17zM372.50 482.76h5.17v5.16h-5.17zM403.52 482.76h5.17v5.16h-5.17zM434.54 482.76h5.17v5.16h-5.17zM450.05 482.76h5.17v5.16h-5.17zM465.56 482.76h5.17v5.16h-5.17zM305.29 487.92h5.17v5.16h-5.17zM315.63 487.92h5.17v5.16h-5.17zM325.97 487.92h5.17v5.16h-5.17zM336.31 487.92h5.17v5.16h-5.17zM367.33 487.92h5.17v5.16h-5.17zM372.50 487.92h5.17v5.16h-5.17zM398.35 487.92h5.17v5.16h-5.17zM403.52 487.92h5.17v5.16h-5.17zM419.03 487.92h5.17v5.16h-5.17zM424.20 487.92h5.17v5.16h-5.17zM434.54 487.92h5.17v5.16h-5.17zM450.05 487.92h5.17v5.16h-5.17zM465.56 487.92h5.17v5.16h-5.17zM470.73 487.92h5.17v5.16h-5.17zM512.09 487.92h5.17v5.16h-5.17zM315.63 493.08h5.17v5.16h-5.17zM325.97 493.08h5.17v5.16h-5.17zM372.50 493.08h5.17v5.16h-5.17zM434.54 493.08h5.17v5.16h-5.17zM465.56 493.08h5.17v5.16h-5.17zM269.10 498.24h5.17v5.16h-5.17zM274.27 498.24h5.17v5.16h-5.17zM284.61 498.24h5.17v5.16h-5.17zM294.95 498.24h5.17v5.16h-5.17zM300.12 498.24h5.17v5.16h-5.17zM305.29 498.24h5.17v5.16h-5.17zM310.46 498.24h5.17v5.16h-5.17zM315.63 498.24h5.17v5.16h-5.17zM325.97 498.24h5.17v5.16h-5.17zM336.31 498.24h5.17v5.16h-5.17zM341.48 498.24h5.17v5.16h-5.17zM351.82 498.24h5.17v5.16h-5.17zM356.99 498.24h5.17v5.16h-5.17zM362.16 498.24h5.17v5.16h-5.17zM372.50 498.24h5.17v5.16h-5.17zM377.67 498.24h5.17v5.16h-5.17zM382.84 498.24h5.17v5.16h-5.17zM403.52 498.24h5.17v5.16h-5.17zM408.69 498.24h5.17v5.16h-5.17zM413.86 498.24h5.17v5.16h-5.17zM419.03 498.24h5.17v5.16h-5.17zM434.54 498.24h5.17v5.16h-5.17zM439.71 498.24h5.17v5.16h-5.17zM444.88 498.24h5.17v5.16h-5.17zM450.05 498.24h5.17v5.16h-5.17zM455.22 498.24h5.17v5.16h-5.17zM460.39 498.24h5.17v5.16h-5.17zM465.56 498.24h5.17v5.16h-5.17zM470.73 498.24h5.17v5.16h-5.17zM475.90 498.24h5.17v5.16h-5.17zM486.24 498.24h5.17v5.16h-5.17zM491.41 498.24h5.17v5.16h-5.17zM512.09 498.24h5.17v5.16h-5.17zM305.29 503.40h5.17v5.16h-5.17zM325.97 503.40h5.17v5.16h-5.17zM336.31 503.40h5.17v5.16h-5.17zM372.50 503.40h5.17v5.16h-5.17zM419.03 503.40h5.17v5.16h-5.17zM434.54 503.40h5.17v5.16h-5.17zM465.56 503.40h5.17v5.16h-5.17zM512.09 503.40h5.17v5.16h-5.17zM269.10 508.56h5.17v5.16h-5.17zM274.27 508.56h5.17v5.16h-5.17zM279.44 508.56h5.17v5.16h-5.17zM294.95 508.56h5.17v5.16h-5.17zM300.12 508.56h5.17v5.16h-5.17zM305.29 508.56h5.17v5.16h-5.17zM310.46 508.56h5.17v5.16h-5.17zM315.63 508.56h5.17v5.16h-5.17zM325.97 508.56h5.17v5.16h-5.17zM331.14 508.56h5.17v5.16h-5.17zM351.82 508.56h5.17v5.16h-5.17zM356.99 508.56h5.17v5.16h-5.17zM372.50 508.56h5.17v5.16h-5.17zM377.67 508.56h5.17v5.16h-5.17zM382.84 508.56h5.17v5.16h-5.17zM388.01 508.56h5.17v5.16h-5.17zM398.35 508.56h5.17v5.16h-5.17zM403.52 508.56h5.17v5.16h-5.17zM408.69 508.56h5.17v5.16h-5.17zM413.86 508.56h5.17v5.16h-5.17zM419.03 508.56h5.17v5.16h-5.17zM424.20 508.56h5.17v5.16h-5.17zM434.54 508.56h5.17v5.16h-5.17zM444.88 508.56h5.17v5.16h-5.17zM450.05 508.56h5.17v5.16h-5.17zM455.22 508.56h5.17v5.16h-5.17zM460.39 508.56h5.17v5.16h-5.17zM465.56 508.56h5.17v5.16h-5.17zM470.73 508.56h5.17v5.16h-5.17zM501.75 508.56h5.17v5.16h-5.17zM506.92 508.56h5.17v5.16h-5.17zM512.09 508.56h5.17v5.16h-5.17zM325.97 513.72h5.17v5.16h-5.17zM372.50 513.72h5.17v5.16h-5.17zM403.52 513.72h5.17v5.16h-5.17zM408.69 513.72h5.17v5.16h-5.17zM434.54 513.72h5.17v5.16h-5.17z"/>
<path fill="#f0402a" d="M331.14 451.80h5.17v5.16h-5.17zM481.07 451.80h5.17v5.16h-5.17zM496.58 451.80h5.17v5.16h-5.17zM501.75 451.80h5.17v5.16h-5.17zM496.58 456.96h5.17v5.16h-5.17zM496.58 472.44h5.17v5.16h-5.17zM501.75 472.44h5.17v5.16h-5.17zM331.14 482.76h5.17v5.16h-5.17zM481.07 482.76h5.17v5.16h-5.17zM496.58 482.76h5.17v5.16h-5.17zM501.75 482.76h5.17v5.16h-5.17zM331.14 493.08h5.17v5.16h-5.17zM481.07 493.08h5.17v5.16h-5.17zM496.58 493.08h5.17v5.16h-5.17zM501.75 493.08h5.17v5.16h-5.17zM496.58 503.40h5.17v5.16h-5.17zM331.14 513.72h5.17v5.16h-5.17zM481.07 513.72h5.17v5.16h-5.17zM496.58 513.72h5.17v5.16h-5.17zM501.75 513.72h5.17v5.16h-5.17z"/>
<path fill="#8a80d0" d="M403.52 451.80h5.17v5.16h-5.17zM419.03 451.80h5.17v5.16h-5.17zM424.20 451.80h5.17v5.16h-5.17zM300.12 456.96h5.17v5.16h-5.17zM470.73 456.96h5.17v5.16h-5.17zM486.24 456.96h5.17v5.16h-5.17zM377.67 462.12h5.17v5.16h-5.17zM413.86 462.12h5.17v5.16h-5.17zM455.22 462.12h5.17v5.16h-5.17zM269.10 467.28h5.17v5.16h-5.17zM362.16 467.28h5.17v5.16h-5.17zM388.01 467.28h5.17v5.16h-5.17zM413.86 467.28h5.17v5.16h-5.17zM300.12 472.44h5.17v5.16h-5.17zM382.84 472.44h5.17v5.16h-5.17zM294.95 477.60h5.17v5.16h-5.17zM362.16 477.60h5.17v5.16h-5.17zM413.86 477.60h5.17v5.16h-5.17zM439.71 477.60h5.17v5.16h-5.17zM455.22 477.60h5.17v5.16h-5.17zM310.46 482.76h5.17v5.16h-5.17zM336.31 482.76h5.17v5.16h-5.17zM512.09 482.76h5.17v5.16h-5.17zM300.12 487.92h5.17v5.16h-5.17zM377.67 487.92h5.17v5.16h-5.17zM413.86 487.92h5.17v5.16h-5.17zM429.37 487.92h5.17v5.16h-5.17zM486.24 487.92h5.17v5.16h-5.17zM336.31 493.08h5.17v5.16h-5.17zM419.03 493.08h5.17v5.16h-5.17zM424.20 493.08h5.17v5.16h-5.17zM388.01 498.24h5.17v5.16h-5.17zM300.12 503.40h5.17v5.16h-5.17zM367.33 503.40h5.17v5.16h-5.17zM398.35 503.40h5.17v5.16h-5.17zM403.52 503.40h5.17v5.16h-5.17zM408.69 503.40h5.17v5.16h-5.17zM444.88 503.40h5.17v5.16h-5.17zM320.80 508.56h5.17v5.16h-5.17zM486.24 508.56h5.17v5.16h-5.17zM367.33 513.72h5.17v5.16h-5.17z"/>
<path d="M269.10 451.8v67.08M274.27 451.8v67.08M279.44 451.8v67.08M284.61 451.8v67.08M289.78 451.8v67.08M294.95 451.8v67.08M300.12 451.8v67.08M305.29 451.8v67.08M310.46 451.8v67.08M315.63 451.8v67.08M320.80 451.8v67.08M325.97 451.8v67.08M331.14 451.8v67.08M336.31 451.8v67.08M341.48 451.8v67.08M346.65 451.8v67.08M351.82 451.8v67.08M356.99 451.8v67.08M362.16 451.8v67.08M367.33 451.8v67.08M372.50 451.8v67.08M377.67 451.8v67.08M382.84 451.8v67.08M388.01 451.8v67.08M393.18 451.8v67.08M398.35 451.8v67.08M403.52 451.8v67.08M408.69 451.8v67.08M413.86 451.8v67.08M419.03 451.8v67.08M424.20 451.8v67.08M429.37 451.8v67.08M434.54 451.8v67.08M439.71 451.8v67.08M444.88 451.8v67.08M450.05 451.8v67.08M455.22 451.8v67.08M460.39 451.8v67.08M465.56 451.8v67.08M470.73 451.8v67.08M475.90 451.8v67.08M481.07 451.8v67.08M486.24 451.8v67.08M491.41 451.8v67.08M496.58 451.8v67.08M501.75 451.8v67.08M506.92 451.8v67.08M512.09 451.8v67.08M517.26 451.8v67.08M269.1 451.80h248.16M269.1 456.96h248.16M269.1 462.12h248.16M269.1 467.28h248.16M269.1 472.44h248.16M269.1 477.60h248.16M269.1 482.76h248.16M269.1 487.92h248.16M269.1 493.08h248.16M269.1 498.24h248.16M269.1 503.40h248.16M269.1 508.56h248.16M269.1 513.72h248.16M269.1 518.88h248.16" stroke="#2a1870" stroke-opacity="0.45" stroke-width="0.5" fill="none"/>
<circle cx="328.56" cy="454.38" r="2.45" fill="#f0e62a"/><circle cx="328.56" cy="454.38" r="1.25" fill="#aca032"/>
<circle cx="375.08" cy="454.38" r="2.45" fill="#f0e62a"/><circle cx="375.08" cy="454.38" r="1.25" fill="#aca032"/>
<circle cx="437.12" cy="454.38" r="2.45" fill="#f0e62a"/><circle cx="437.12" cy="454.38" r="1.25" fill="#aca032"/>
<circle cx="318.21" cy="459.54" r="2.45" fill="#f0e62a"/><circle cx="318.21" cy="459.54" r="1.25" fill="#aca032"/>
<circle cx="328.56" cy="459.54" r="2.45" fill="#f0e62a"/><circle cx="328.56" cy="459.54" r="1.25" fill="#aca032"/>
<circle cx="375.08" cy="459.54" r="2.45" fill="#f0e62a"/><circle cx="375.08" cy="459.54" r="1.25" fill="#aca032"/>
<circle cx="437.12" cy="459.54" r="2.45" fill="#f0e62a"/><circle cx="437.12" cy="459.54" r="1.25" fill="#aca032"/>
<circle cx="468.15" cy="459.54" r="2.45" fill="#f0e62a"/><circle cx="468.15" cy="459.54" r="1.25" fill="#aca032"/>
<circle cx="328.56" cy="464.70" r="2.45" fill="#f0e62a"/><circle cx="328.56" cy="464.70" r="1.25" fill="#aca032"/>
<circle cx="338.89" cy="464.70" r="2.45" fill="#f0e62a"/><circle cx="338.89" cy="464.70" r="1.25" fill="#aca032"/>
<circle cx="369.92" cy="464.70" r="2.45" fill="#f0e62a"/><circle cx="369.92" cy="464.70" r="1.25" fill="#aca032"/>
<circle cx="375.08" cy="464.70" r="2.45" fill="#f0e62a"/><circle cx="375.08" cy="464.70" r="1.25" fill="#aca032"/>
<circle cx="406.10" cy="464.70" r="2.45" fill="#f0e62a"/><circle cx="406.10" cy="464.70" r="1.25" fill="#aca032"/>
<circle cx="411.28" cy="464.70" r="2.45" fill="#f0e62a"/><circle cx="411.28" cy="464.70" r="1.25" fill="#aca032"/>
<circle cx="437.12" cy="464.70" r="2.45" fill="#f0e62a"/><circle cx="437.12" cy="464.70" r="1.25" fill="#aca032"/>
<circle cx="462.97" cy="464.70" r="2.45" fill="#f0e62a"/><circle cx="462.97" cy="464.70" r="1.25" fill="#aca032"/>
<circle cx="468.15" cy="464.70" r="2.45" fill="#f0e62a"/><circle cx="468.15" cy="464.70" r="1.25" fill="#aca032"/>
<circle cx="488.82" cy="464.70" r="2.45" fill="#f0e62a"/><circle cx="488.82" cy="464.70" r="1.25" fill="#aca032"/>
<circle cx="318.21" cy="469.86" r="2.45" fill="#f0e62a"/><circle cx="318.21" cy="469.86" r="1.25" fill="#aca032"/>
<circle cx="328.56" cy="469.86" r="2.45" fill="#f0e62a"/><circle cx="328.56" cy="469.86" r="1.25" fill="#aca032"/>
<circle cx="338.89" cy="469.86" r="2.45" fill="#f0e62a"/><circle cx="338.89" cy="469.86" r="1.25" fill="#aca032"/>
<circle cx="406.10" cy="469.86" r="2.45" fill="#f0e62a"/><circle cx="406.10" cy="469.86" r="1.25" fill="#aca032"/>
<circle cx="437.12" cy="469.86" r="2.45" fill="#f0e62a"/><circle cx="437.12" cy="469.86" r="1.25" fill="#aca032"/>
<circle cx="452.63" cy="469.86" r="2.45" fill="#f0e62a"/><circle cx="452.63" cy="469.86" r="1.25" fill="#aca032"/>
<circle cx="468.15" cy="469.86" r="2.45" fill="#f0e62a"/><circle cx="468.15" cy="469.86" r="1.25" fill="#aca032"/>
<circle cx="473.31" cy="469.86" r="2.45" fill="#f0e62a"/><circle cx="473.31" cy="469.86" r="1.25" fill="#aca032"/>
<circle cx="488.82" cy="469.86" r="2.45" fill="#f0e62a"/><circle cx="488.82" cy="469.86" r="1.25" fill="#aca032"/>
<circle cx="318.21" cy="475.02" r="2.45" fill="#f0e62a"/><circle cx="318.21" cy="475.02" r="1.25" fill="#aca032"/>
<circle cx="328.56" cy="475.02" r="2.45" fill="#f0e62a"/><circle cx="328.56" cy="475.02" r="1.25" fill="#aca032"/>
<circle cx="338.89" cy="475.02" r="2.45" fill="#f0e62a"/><circle cx="338.89" cy="475.02" r="1.25" fill="#aca032"/>
<circle cx="437.12" cy="475.02" r="2.45" fill="#f0e62a"/><circle cx="437.12" cy="475.02" r="1.25" fill="#aca032"/>
<circle cx="468.15" cy="475.02" r="2.45" fill="#f0e62a"/><circle cx="468.15" cy="475.02" r="1.25" fill="#aca032"/>
<circle cx="488.82" cy="475.02" r="2.45" fill="#f0e62a"/><circle cx="488.82" cy="475.02" r="1.25" fill="#aca032"/>
<circle cx="302.70" cy="480.18" r="2.45" fill="#f0e62a"/><circle cx="302.70" cy="480.18" r="1.25" fill="#aca032"/>
<circle cx="318.21" cy="480.18" r="2.45" fill="#f0e62a"/><circle cx="318.21" cy="480.18" r="1.25" fill="#aca032"/>
<circle cx="328.56" cy="480.18" r="2.45" fill="#f0e62a"/><circle cx="328.56" cy="480.18" r="1.25" fill="#aca032"/>
<circle cx="338.89" cy="480.18" r="2.45" fill="#f0e62a"/><circle cx="338.89" cy="480.18" r="1.25" fill="#aca032"/>
<circle cx="437.12" cy="480.18" r="2.45" fill="#f0e62a"/><circle cx="437.12" cy="480.18" r="1.25" fill="#aca032"/>
<circle cx="447.46" cy="480.18" r="2.45" fill="#f0e62a"/><circle cx="447.46" cy="480.18" r="1.25" fill="#aca032"/>
<circle cx="468.15" cy="480.18" r="2.45" fill="#f0e62a"/><circle cx="468.15" cy="480.18" r="1.25" fill="#aca032"/>
<circle cx="473.31" cy="480.18" r="2.45" fill="#f0e62a"/><circle cx="473.31" cy="480.18" r="1.25" fill="#aca032"/>
<circle cx="488.82" cy="480.18" r="2.45" fill="#f0e62a"/><circle cx="488.82" cy="480.18" r="1.25" fill="#aca032"/>
<circle cx="328.56" cy="485.34" r="2.45" fill="#f0e62a"/><circle cx="328.56" cy="485.34" r="1.25" fill="#aca032"/>
<circle cx="437.12" cy="485.34" r="2.45" fill="#f0e62a"/><circle cx="437.12" cy="485.34" r="1.25" fill="#aca032"/>
<circle cx="318.21" cy="490.50" r="2.45" fill="#f0e62a"/><circle cx="318.21" cy="490.50" r="1.25" fill="#aca032"/>
<circle cx="328.56" cy="490.50" r="2.45" fill="#f0e62a"/><circle cx="328.56" cy="490.50" r="1.25" fill="#aca032"/>
<circle cx="338.89" cy="490.50" r="2.45" fill="#f0e62a"/><circle cx="338.89" cy="490.50" r="1.25" fill="#aca032"/>
<circle cx="375.08" cy="490.50" r="2.45" fill="#f0e62a"/><circle cx="375.08" cy="490.50" r="1.25" fill="#aca032"/>
<circle cx="437.12" cy="490.50" r="2.45" fill="#f0e62a"/><circle cx="437.12" cy="490.50" r="1.25" fill="#aca032"/>
<circle cx="468.15" cy="490.50" r="2.45" fill="#f0e62a"/><circle cx="468.15" cy="490.50" r="1.25" fill="#aca032"/>
<circle cx="473.31" cy="490.50" r="2.45" fill="#f0e62a"/><circle cx="473.31" cy="490.50" r="1.25" fill="#aca032"/>
<circle cx="328.56" cy="495.66" r="2.45" fill="#f0e62a"/><circle cx="328.56" cy="495.66" r="1.25" fill="#aca032"/>
<circle cx="437.12" cy="495.66" r="2.45" fill="#f0e62a"/><circle cx="437.12" cy="495.66" r="1.25" fill="#aca032"/>
<circle cx="468.15" cy="495.66" r="2.45" fill="#f0e62a"/><circle cx="468.15" cy="495.66" r="1.25" fill="#aca032"/>
<circle cx="297.54" cy="500.82" r="2.45" fill="#f0e62a"/><circle cx="297.54" cy="500.82" r="1.25" fill="#aca032"/>
<circle cx="302.70" cy="500.82" r="2.45" fill="#f0e62a"/><circle cx="302.70" cy="500.82" r="1.25" fill="#aca032"/>
<circle cx="307.88" cy="500.82" r="2.45" fill="#f0e62a"/><circle cx="307.88" cy="500.82" r="1.25" fill="#aca032"/>
<circle cx="318.21" cy="500.82" r="2.45" fill="#f0e62a"/><circle cx="318.21" cy="500.82" r="1.25" fill="#aca032"/>
<circle cx="328.56" cy="500.82" r="2.45" fill="#f0e62a"/><circle cx="328.56" cy="500.82" r="1.25" fill="#aca032"/>
<circle cx="338.89" cy="500.82" r="2.45" fill="#f0e62a"/><circle cx="338.89" cy="500.82" r="1.25" fill="#aca032"/>
<circle cx="375.08" cy="500.82" r="2.45" fill="#f0e62a"/><circle cx="375.08" cy="500.82" r="1.25" fill="#aca032"/>
<circle cx="380.25" cy="500.82" r="2.45" fill="#f0e62a"/><circle cx="380.25" cy="500.82" r="1.25" fill="#aca032"/>
<circle cx="385.43" cy="500.82" r="2.45" fill="#f0e62a"/><circle cx="385.43" cy="500.82" r="1.25" fill="#aca032"/>
<circle cx="411.28" cy="500.82" r="2.45" fill="#f0e62a"/><circle cx="411.28" cy="500.82" r="1.25" fill="#aca032"/>
<circle cx="437.12" cy="500.82" r="2.45" fill="#f0e62a"/><circle cx="437.12" cy="500.82" r="1.25" fill="#aca032"/>
<circle cx="442.30" cy="500.82" r="2.45" fill="#f0e62a"/><circle cx="442.30" cy="500.82" r="1.25" fill="#aca032"/>
<circle cx="457.81" cy="500.82" r="2.45" fill="#f0e62a"/><circle cx="457.81" cy="500.82" r="1.25" fill="#aca032"/>
<circle cx="462.97" cy="500.82" r="2.45" fill="#f0e62a"/><circle cx="462.97" cy="500.82" r="1.25" fill="#aca032"/>
<circle cx="468.15" cy="500.82" r="2.45" fill="#f0e62a"/><circle cx="468.15" cy="500.82" r="1.25" fill="#aca032"/>
<circle cx="473.31" cy="500.82" r="2.45" fill="#f0e62a"/><circle cx="473.31" cy="500.82" r="1.25" fill="#aca032"/>
<circle cx="494.00" cy="500.82" r="2.45" fill="#f0e62a"/><circle cx="494.00" cy="500.82" r="1.25" fill="#aca032"/>
<circle cx="328.56" cy="505.98" r="2.45" fill="#f0e62a"/><circle cx="328.56" cy="505.98" r="1.25" fill="#aca032"/>
<circle cx="338.89" cy="505.98" r="2.45" fill="#f0e62a"/><circle cx="338.89" cy="505.98" r="1.25" fill="#aca032"/>
<circle cx="437.12" cy="505.98" r="2.45" fill="#f0e62a"/><circle cx="437.12" cy="505.98" r="1.25" fill="#aca032"/>
<circle cx="468.15" cy="505.98" r="2.45" fill="#f0e62a"/><circle cx="468.15" cy="505.98" r="1.25" fill="#aca032"/>
<circle cx="302.70" cy="511.14" r="2.45" fill="#f0e62a"/><circle cx="302.70" cy="511.14" r="1.25" fill="#aca032"/>
<circle cx="307.88" cy="511.14" r="2.45" fill="#f0e62a"/><circle cx="307.88" cy="511.14" r="1.25" fill="#aca032"/>
<circle cx="318.21" cy="511.14" r="2.45" fill="#f0e62a"/><circle cx="318.21" cy="511.14" r="1.25" fill="#aca032"/>
<circle cx="328.56" cy="511.14" r="2.45" fill="#f0e62a"/><circle cx="328.56" cy="511.14" r="1.25" fill="#aca032"/>
<circle cx="354.41" cy="511.14" r="2.45" fill="#f0e62a"/><circle cx="354.41" cy="511.14" r="1.25" fill="#aca032"/>
<circle cx="375.08" cy="511.14" r="2.45" fill="#f0e62a"/><circle cx="375.08" cy="511.14" r="1.25" fill="#aca032"/>
<circle cx="406.10" cy="511.14" r="2.45" fill="#f0e62a"/><circle cx="406.10" cy="511.14" r="1.25" fill="#aca032"/>
<circle cx="411.28" cy="511.14" r="2.45" fill="#f0e62a"/><circle cx="411.28" cy="511.14" r="1.25" fill="#aca032"/>
<circle cx="416.44" cy="511.14" r="2.45" fill="#f0e62a"/><circle cx="416.44" cy="511.14" r="1.25" fill="#aca032"/>
<circle cx="437.12" cy="511.14" r="2.45" fill="#f0e62a"/><circle cx="437.12" cy="511.14" r="1.25" fill="#aca032"/>
<circle cx="457.81" cy="511.14" r="2.45" fill="#f0e62a"/><circle cx="457.81" cy="511.14" r="1.25" fill="#aca032"/>
<circle cx="462.97" cy="511.14" r="2.45" fill="#f0e62a"/><circle cx="462.97" cy="511.14" r="1.25" fill="#aca032"/>
<circle cx="468.15" cy="511.14" r="2.45" fill="#f0e62a"/><circle cx="468.15" cy="511.14" r="1.25" fill="#aca032"/>
<circle cx="473.31" cy="511.14" r="2.45" fill="#f0e62a"/><circle cx="473.31" cy="511.14" r="1.25" fill="#aca032"/>
<circle cx="514.68" cy="511.14" r="2.45" fill="#f0e62a"/><circle cx="514.68" cy="511.14" r="1.25" fill="#aca032"/>
<circle cx="328.56" cy="516.30" r="2.45" fill="#f0e62a"/><circle cx="328.56" cy="516.30" r="1.25" fill="#aca032"/>
<circle cx="437.12" cy="516.30" r="2.45" fill="#f0e62a"/><circle cx="437.12" cy="516.30" r="1.25" fill="#aca032"/>
<text x="267.6" y="455.80" font-size="4" text-anchor="end" fill="#555">βJ1.1</text>
<text x="267.6" y="460.96" font-size="4" text-anchor="end" fill="#555">βJ1.2</text>
<text x="267.6" y="466.12" font-size="4" text-anchor="end" fill="#555">βJ1.3</text>
<text x="267.6" y="471.28" font-size="4" text-anchor="end" fill="#555">βJ1.4</text>
<text x="267.6" y="476.44" font-size="4" text-anchor="end" fill="#555">βJ1.5</text>
<text x="267.6" y="481.60" font-size="4" text-anchor="end" fill="#555">βJ1.6</text>
<text x="267.6" y="486.76" font-size="4" text-anchor="end" fill="#555">βJ2.1</text>
<text x="267.6" y="491.92" font-size="4" text-anchor="end" fill="#555">βJ2.2</text>
<text x="267.6" y="497.08" font-size="4" text-anchor="end" fill="#555">βJ2.3</text>
<text x="267.6" y="502.24" font-size="4" text-anchor="end" fill="#555">βJ2.4</text>
<text x="267.6" y="507.40" font-size="4" text-anchor="end" fill="#555">βJ2.5</text>
<text x="267.6" y="512.56" font-size="4" text-anchor="end" fill="#555">βJ2.6</text>
<text x="267.6" y="517.72" font-size="4" text-anchor="end" fill="#555">βJ2.7</text>
<g transform="translate(273.08,520.8) rotate(-90)"><text x="0" y="0" font-size="4.4" text-anchor="end" fill="#383838">βV2</text></g>
<g transform="translate(278.25,520.8) rotate(-90)"><text x="0" y="0" font-size="4.4" text-anchor="end" fill="#383838">βV3-1</text></g>
<g transform="translate(283.42,520.8) rotate(-90)"><text x="0" y="0" font-size="4.4" text-anchor="end" fill="#383838">βV4-1</text></g>
<g transform="translate(288.59,520.8) rotate(-90)"><text x="0" y="0" font-size="4.4" text-anchor="end" fill="#383838">βV4-2</text></g>
<g transform="translate(293.76,520.8) rotate(-90)"><text x="0" y="0" font-size="4.4" text-anchor="end" fill="#383838">βV4-3</text></g>
<g transform="translate(298.94,520.8) rotate(-90)"><text x="0" y="0" font-size="4.4" text-anchor="end" fill="#383838">βV5-1</text></g>
<g transform="translate(304.10,520.8) rotate(-90)"><text x="0" y="0" font-size="4.4" text-anchor="end" fill="#383838">βV5-4</text></g>
<g transform="translate(309.27,520.8) rotate(-90)"><text x="0" y="0" font-size="4.4" text-anchor="end" fill="#383838">βV5-5</text></g>
<g transform="translate(314.44,520.8) rotate(-90)"><text x="0" y="0" font-size="4.4" text-anchor="end" fill="#383838">βV5-6</text></g>
<g transform="translate(319.61,520.8) rotate(-90)"><text x="0" y="0" font-size="4.4" text-anchor="end" fill="#383838">βV5-8</text></g>
<g transform="translate(324.78,520.8) rotate(-90)"><text x="0" y="0" font-size="4.4" text-anchor="end" fill="#383838">βV6-1</text></g>
<g transform="translate(329.95,520.8) rotate(-90)"><text x="0" y="0" font-size="4.4" text-anchor="end" fill="#383838">βV6-2</text></g>
<g transform="translate(335.12,520.8) rotate(-90)"><text x="0" y="0" font-size="4.4" text-anchor="end" fill="#383838">βV6-4</text></g>
<g transform="translate(340.29,520.8) rotate(-90)"><text x="0" y="0" font-size="4.4" text-anchor="end" fill="#383838">βV6-5</text></g>
<g transform="translate(345.46,520.8) rotate(-90)"><text x="0" y="0" font-size="4.4" text-anchor="end" fill="#383838">βV6-6</text></g>
<g transform="translate(350.63,520.8) rotate(-90)"><text x="0" y="0" font-size="4.4" text-anchor="end" fill="#383838">βV6-8</text></g>
<g transform="translate(355.81,520.8) rotate(-90)"><text x="0" y="0" font-size="4.4" text-anchor="end" fill="#383838">βV6-9</text></g>
<g transform="translate(360.97,520.8) rotate(-90)"><text x="0" y="0" font-size="4.4" text-anchor="end" fill="#383838">βV7-2</text></g>
<g transform="translate(366.14,520.8) rotate(-90)"><text x="0" y="0" font-size="4.4" text-anchor="end" fill="#383838">βV7-3</text></g>
<g transform="translate(371.31,520.8) rotate(-90)"><text x="0" y="0" font-size="4.4" text-anchor="end" fill="#383838">βV7-4</text></g>
<g transform="translate(376.48,520.8) rotate(-90)"><text x="0" y="0" font-size="4.4" text-anchor="end" fill="#383838">βV7-6</text></g>
<g transform="translate(381.65,520.8) rotate(-90)"><text x="0" y="0" font-size="4.4" text-anchor="end" fill="#383838">βV7-7</text></g>
<g transform="translate(386.82,520.8) rotate(-90)"><text x="0" y="0" font-size="4.4" text-anchor="end" fill="#383838">βV7-8</text></g>
<g transform="translate(391.99,520.8) rotate(-90)"><text x="0" y="0" font-size="4.4" text-anchor="end" fill="#383838">βV7-9</text></g>
<g transform="translate(397.16,520.8) rotate(-90)"><text x="0" y="0" font-size="4.4" text-anchor="end" fill="#383838">βV9</text></g>
<g transform="translate(402.33,520.8) rotate(-90)"><text x="0" y="0" font-size="4.4" text-anchor="end" fill="#383838">βV10-1</text></g>
<g transform="translate(407.50,520.8) rotate(-90)"><text x="0" y="0" font-size="4.4" text-anchor="end" fill="#383838">βV10-2</text></g>
<g transform="translate(412.68,520.8) rotate(-90)"><text x="0" y="0" font-size="4.4" text-anchor="end" fill="#383838">βV10-3</text></g>
<g transform="translate(417.84,520.8) rotate(-90)"><text x="0" y="0" font-size="4.4" text-anchor="end" fill="#383838">βV11-1</text></g>
<g transform="translate(423.01,520.8) rotate(-90)"><text x="0" y="0" font-size="4.4" text-anchor="end" fill="#383838">βV11-2</text></g>
<g transform="translate(428.19,520.8) rotate(-90)"><text x="0" y="0" font-size="4.4" text-anchor="end" fill="#383838">βV11-3</text></g>
<g transform="translate(433.35,520.8) rotate(-90)"><text x="0" y="0" font-size="4.4" text-anchor="end" fill="#383838">βV12-3</text></g>
<g transform="translate(438.52,520.8) rotate(-90)"><text x="0" y="0" font-size="4.4" text-anchor="end" fill="#383838">βV12-4</text></g>
<g transform="translate(443.69,520.8) rotate(-90)"><text x="0" y="0" font-size="4.4" text-anchor="end" fill="#383838">βV12-5</text></g>
<g transform="translate(448.86,520.8) rotate(-90)"><text x="0" y="0" font-size="4.4" text-anchor="end" fill="#383838">βV13</text></g>
<g transform="translate(454.03,520.8) rotate(-90)"><text x="0" y="0" font-size="4.4" text-anchor="end" fill="#383838">βV14</text></g>
<g transform="translate(459.20,520.8) rotate(-90)"><text x="0" y="0" font-size="4.4" text-anchor="end" fill="#383838">βV15</text></g>
<g transform="translate(464.37,520.8) rotate(-90)"><text x="0" y="0" font-size="4.4" text-anchor="end" fill="#383838">βV16</text></g>
<g transform="translate(469.55,520.8) rotate(-90)"><text x="0" y="0" font-size="4.4" text-anchor="end" fill="#383838">βV18</text></g>
<g transform="translate(474.71,520.8) rotate(-90)"><text x="0" y="0" font-size="4.4" text-anchor="end" fill="#383838">βV19</text></g>
<g transform="translate(479.88,520.8) rotate(-90)"><text x="0" y="0" font-size="4.4" text-anchor="end" fill="#383838">βV20-1</text></g>
<g transform="translate(485.06,520.8) rotate(-90)"><text x="0" y="0" font-size="4.4" text-anchor="end" fill="#383838">βV24-1</text></g>
<g transform="translate(490.22,520.8) rotate(-90)"><text x="0" y="0" font-size="4.4" text-anchor="end" fill="#383838">βV25-1</text></g>
<g transform="translate(495.39,520.8) rotate(-90)"><text x="0" y="0" font-size="4.4" text-anchor="end" fill="#383838">βV27</text></g>
<g transform="translate(500.56,520.8) rotate(-90)"><text x="0" y="0" font-size="4.4" text-anchor="end" fill="#383838">βV28</text></g>
<g transform="translate(505.73,520.8) rotate(-90)"><text x="0" y="0" font-size="4.4" text-anchor="end" fill="#383838">βV29-1</text></g>
<g transform="translate(510.90,520.8) rotate(-90)"><text x="0" y="0" font-size="4.4" text-anchor="end" fill="#383838">βV30</text></g>
<g transform="translate(516.08,520.8) rotate(-90)"><text x="0" y="0" font-size="4.4" text-anchor="end" fill="#383838">βV31</text></g>
<text x="259.80" y="541.80" font-size="6.5" text-anchor="start" fill="#222" >D56</text>
<path fill="#5c1ca6" d="M269.10 542.90h5.17v5.16h-5.17zM294.95 542.90h5.17v5.16h-5.17zM346.65 542.90h5.17v5.16h-5.17zM351.82 542.90h5.17v5.16h-5.17zM439.71 542.90h5.17v5.16h-5.17zM460.39 542.90h5.17v5.16h-5.17zM331.14 548.06h5.17v5.16h-5.17zM501.75 548.06h5.17v5.16h-5.17zM496.58 553.22h5.17v5.16h-5.17zM320.80 563.54h5.17v5.16h-5.17zM351.82 573.86h5.17v5.16h-5.17zM362.16 573.86h5.17v5.16h-5.17zM388.01 573.86h5.17v5.16h-5.17zM439.71 573.86h5.17v5.16h-5.17zM460.39 573.86h5.17v5.16h-5.17zM331.14 579.02h5.17v5.16h-5.17zM269.10 584.18h5.17v5.16h-5.17zM279.44 584.18h5.17v5.16h-5.17zM289.78 584.18h5.17v5.16h-5.17zM346.65 584.18h5.17v5.16h-5.17zM351.82 584.18h5.17v5.16h-5.17zM356.99 584.18h5.17v5.16h-5.17zM362.16 584.18h5.17v5.16h-5.17zM439.71 584.18h5.17v5.16h-5.17zM460.39 584.18h5.17v5.16h-5.17zM481.07 594.50h5.17v5.16h-5.17zM269.10 604.82h5.17v5.16h-5.17zM279.44 604.82h5.17v5.16h-5.17zM341.48 604.82h5.17v5.16h-5.17z"/>
<path fill="#3b18a2" d="M274.27 542.90h5.17v5.16h-5.17zM284.61 542.90h5.17v5.16h-5.17zM300.12 542.90h5.17v5.16h-5.17zM310.46 542.90h5.17v5.16h-5.17zM356.99 542.90h5.17v5.16h-5.17zM362.16 542.90h5.17v5.16h-5.17zM367.33 542.90h5.17v5.16h-5.17zM377.67 542.90h5.17v5.16h-5.17zM382.84 542.90h5.17v5.16h-5.17zM388.01 542.90h5.17v5.16h-5.17zM398.35 542.90h5.17v5.16h-5.17zM408.69 542.90h5.17v5.16h-5.17zM413.86 542.90h5.17v5.16h-5.17zM429.37 542.90h5.17v5.16h-5.17zM444.88 542.90h5.17v5.16h-5.17zM455.22 542.90h5.17v5.16h-5.17zM470.73 542.90h5.17v5.16h-5.17zM486.24 542.90h5.17v5.16h-5.17zM506.92 542.90h5.17v5.16h-5.17zM512.09 542.90h5.17v5.16h-5.17zM269.10 548.06h5.17v5.16h-5.17zM274.27 548.06h5.17v5.16h-5.17zM279.44 548.06h5.17v5.16h-5.17zM284.61 548.06h5.17v5.16h-5.17zM289.78 548.06h5.17v5.16h-5.17zM294.95 548.06h5.17v5.16h-5.17zM300.12 548.06h5.17v5.16h-5.17zM320.80 548.06h5.17v5.16h-5.17zM341.48 548.06h5.17v5.16h-5.17zM346.65 548.06h5.17v5.16h-5.17zM351.82 548.06h5.17v5.16h-5.17zM356.99 548.06h5.17v5.16h-5.17zM362.16 548.06h5.17v5.16h-5.17zM388.01 548.06h5.17v5.16h-5.17zM393.18 548.06h5.17v5.16h-5.17zM413.86 548.06h5.17v5.16h-5.17zM439.71 548.06h5.17v5.16h-5.17zM444.88 548.06h5.17v5.16h-5.17zM455.22 548.06h5.17v5.16h-5.17zM460.39 548.06h5.17v5.16h-5.17zM475.90 548.06h5.17v5.16h-5.17zM491.41 548.06h5.17v5.16h-5.17zM506.92 548.06h5.17v5.16h-5.17zM269.10 553.22h5.17v5.16h-5.17zM279.44 553.22h5.17v5.16h-5.17zM289.78 553.22h5.17v5.16h-5.17zM320.80 553.22h5.17v5.16h-5.17zM331.14 553.22h5.17v5.16h-5.17zM341.48 553.22h5.17v5.16h-5.17zM346.65 553.22h5.17v5.16h-5.17zM351.82 553.22h5.17v5.16h-5.17zM362.16 553.22h5.17v5.16h-5.17zM388.01 553.22h5.17v5.16h-5.17zM393.18 553.22h5.17v5.16h-5.17zM439.71 553.22h5.17v5.16h-5.17zM455.22 553.22h5.17v5.16h-5.17zM460.39 553.22h5.17v5.16h-5.17zM475.90 553.22h5.17v5.16h-5.17zM481.07 553.22h5.17v5.16h-5.17zM491.41 553.22h5.17v5.16h-5.17zM501.75 553.22h5.17v5.16h-5.17zM269.10 558.38h5.17v5.16h-5.17zM279.44 558.38h5.17v5.16h-5.17zM289.78 558.38h5.17v5.16h-5.17zM320.80 558.38h5.17v5.16h-5.17zM331.14 558.38h5.17v5.16h-5.17zM341.48 558.38h5.17v5.16h-5.17zM346.65 558.38h5.17v5.16h-5.17zM351.82 558.38h5.17v5.16h-5.17zM362.16 558.38h5.17v5.16h-5.17zM388.01 558.38h5.17v5.16h-5.17zM393.18 558.38h5.17v5.16h-5.17zM439.71 558.38h5.17v5.16h-5.17zM460.39 558.38h5.17v5.16h-5.17zM475.90 558.38h5.17v5.16h-5.17zM481.07 558.38h5.17v5.16h-5.17zM491.41 558.38h5.17v5.16h-5.17zM501.75 558.38h5.17v5.16h-5.17zM269.10 563.54h5.17v5.16h-5.17zM274.27 563.54h5.17v5.16h-5.17zM279.44 563.54h5.17v5.16h-5.17zM284.61 563.54h5.17v5.16h-5.17zM289.78 563.54h5.17v5.16h-5.17zM294.95 563.54h5.17v5.16h-5.17zM341.48 563.54h5.17v5.16h-5.17zM346.65 563.54h5.17v5.16h-5.17zM351.82 563.54h5.17v5.16h-5.17zM356.99 563.54h5.17v5.16h-5.17zM362.16 563.54h5.17v5.16h-5.17zM377.67 563.54h5.17v5.16h-5.17zM388.01 563.54h5.17v5.16h-5.17zM393.18 563.54h5.17v5.16h-5.17zM413.86 563.54h5.17v5.16h-5.17zM439.71 563.54h5.17v5.16h-5.17zM444.88 563.54h5.17v5.16h-5.17zM455.22 563.54h5.17v5.16h-5.17zM460.39 563.54h5.17v5.16h-5.17zM486.24 563.54h5.17v5.16h-5.17zM491.41 563.54h5.17v5.16h-5.17zM269.10 568.70h5.17v5.16h-5.17zM279.44 568.70h5.17v5.16h-5.17zM289.78 568.70h5.17v5.16h-5.17zM320.80 568.70h5.17v5.16h-5.17zM331.14 568.70h5.17v5.16h-5.17zM341.48 568.70h5.17v5.16h-5.17zM346.65 568.70h5.17v5.16h-5.17zM351.82 568.70h5.17v5.16h-5.17zM356.99 568.70h5.17v5.16h-5.17zM362.16 568.70h5.17v5.16h-5.17zM388.01 568.70h5.17v5.16h-5.17zM393.18 568.70h5.17v5.16h-5.17zM439.71 568.70h5.17v5.16h-5.17zM455.22 568.70h5.17v5.16h-5.17zM460.39 568.70h5.17v5.16h-5.17zM475.90 568.70h5.17v5.16h-5.17zM481.07 568.70h5.17v5.16h-5.17zM491.41 568.70h5.17v5.16h-5.17zM501.75 568.70h5.17v5.16h-5.17zM269.10 573.86h5.17v5.16h-5.17zM274.27 573.86h5.17v5.16h-5.17zM284.61 573.86h5.17v5.16h-5.17zM294.95 573.86h5.17v5.16h-5.17zM300.12 573.86h5.17v5.16h-5.17zM336.31 573.86h5.17v5.16h-5.17zM346.65 573.86h5.17v5.16h-5.17zM356.99 573.86h5.17v5.16h-5.17zM367.33 573.86h5.17v5.16h-5.17zM377.67 573.86h5.17v5.16h-5.17zM382.84 573.86h5.17v5.16h-5.17zM398.35 573.86h5.17v5.16h-5.17zM413.86 573.86h5.17v5.16h-5.17zM424.20 573.86h5.17v5.16h-5.17zM429.37 573.86h5.17v5.16h-5.17zM444.88 573.86h5.17v5.16h-5.17zM455.22 573.86h5.17v5.16h-5.17zM470.73 573.86h5.17v5.16h-5.17zM486.24 573.86h5.17v5.16h-5.17zM491.41 573.86h5.17v5.16h-5.17zM506.92 573.86h5.17v5.16h-5.17zM512.09 573.86h5.17v5.16h-5.17zM269.10 579.02h5.17v5.16h-5.17zM274.27 579.02h5.17v5.16h-5.17zM279.44 579.02h5.17v5.16h-5.17zM289.78 579.02h5.17v5.16h-5.17zM294.95 579.02h5.17v5.16h-5.17zM320.80 579.02h5.17v5.16h-5.17zM341.48 579.02h5.17v5.16h-5.17zM346.65 579.02h5.17v5.16h-5.17zM351.82 579.02h5.17v5.16h-5.17zM356.99 579.02h5.17v5.16h-5.17zM362.16 579.02h5.17v5.16h-5.17zM367.33 579.02h5.17v5.16h-5.17zM388.01 579.02h5.17v5.16h-5.17zM393.18 579.02h5.17v5.16h-5.17zM429.37 579.02h5.17v5.16h-5.17zM439.71 579.02h5.17v5.16h-5.17zM460.39 579.02h5.17v5.16h-5.17zM475.90 579.02h5.17v5.16h-5.17zM481.07 579.02h5.17v5.16h-5.17zM486.24 579.02h5.17v5.16h-5.17zM491.41 579.02h5.17v5.16h-5.17zM501.75 579.02h5.17v5.16h-5.17zM506.92 579.02h5.17v5.16h-5.17zM274.27 584.18h5.17v5.16h-5.17zM284.61 584.18h5.17v5.16h-5.17zM294.95 584.18h5.17v5.16h-5.17zM300.12 584.18h5.17v5.16h-5.17zM336.31 584.18h5.17v5.16h-5.17zM367.33 584.18h5.17v5.16h-5.17zM377.67 584.18h5.17v5.16h-5.17zM382.84 584.18h5.17v5.16h-5.17zM388.01 584.18h5.17v5.16h-5.17zM398.35 584.18h5.17v5.16h-5.17zM408.69 584.18h5.17v5.16h-5.17zM413.86 584.18h5.17v5.16h-5.17zM424.20 584.18h5.17v5.16h-5.17zM429.37 584.18h5.17v5.16h-5.17zM444.88 584.18h5.17v5.16h-5.17zM455.22 584.18h5.17v5.16h-5.17zM470.73 584.18h5.17v5.16h-5.17zM475.90 584.18h5.17v5.16h-5.17zM486.24 584.18h5.17v5.16h-5.17zM491.41 584.18h5.17v5.16h-5.17zM506.92 584.18h5.17v5.16h-5.17zM331.14 589.34h5.17v5.16h-5.17zM393.18 589.34h5.17v5.16h-5.17zM481.07 589.34h5.17v5.16h-5.17zM496.58 589.34h5.17v5.16h-5.17zM501.75 589.34h5.17v5.16h-5.17zM269.10 594.50h5.17v5.16h-5.17zM274.27 594.50h5.17v5.16h-5.17zM279.44 594.50h5.17v5.16h-5.17zM284.61 594.50h5.17v5.16h-5.17zM289.78 594.50h5.17v5.16h-5.17zM294.95 594.50h5.17v5.16h-5.17zM300.12 594.50h5.17v5.16h-5.17zM320.80 594.50h5.17v5.16h-5.17zM341.48 594.50h5.17v5.16h-5.17zM346.65 594.50h5.17v5.16h-5.17zM351.82 594.50h5.17v5.16h-5.17zM356.99 594.50h5.17v5.16h-5.17zM362.16 594.50h5.17v5.16h-5.17zM367.33 594.50h5.17v5.16h-5.17zM377.67 594.50h5.17v5.16h-5.17zM382.84 594.50h5.17v5.16h-5.17zM388.01 594.50h5.17v5.16h-5.17zM413.86 594.50h5.17v5.16h-5.17zM439.71 594.50h5.17v5.16h-5.17zM444.88 594.50h5.17v5.16h-5.17zM455.22 594.50h5.17v5.16h-5.17zM460.39 594.50h5.17v5.16h-5.17zM475.90 594.50h5.17v5.16h-5.17zM486.24 594.50h5.17v5.16h-5.17zM491.41 594.50h5.17v5.16h-5.17zM506.92 594.50h5.17v5.16h-5.17zM331.14 599.66h5.17v5.16h-5.17zM393.18 599.66h5.17v5.16h-5.17zM481.07 599.66h5.17v5.16h-5.17zM496.58 599.66h5.17v5.16h-5.17zM501.75 599.66h5.17v5.16h-5.17zM274.27 604.82h5.17v5.16h-5.17zM284.61 604.82h5.17v5.16h-5.17zM294.95 604.82h5.17v5.16h-5.17zM300.12 604.82h5.17v5.16h-5.17zM346.65 604.82h5.17v5.16h-5.17zM351.82 604.82h5.17v5.16h-5.17zM356.99 604.82h5.17v5.16h-5.17zM362.16 604.82h5.17v5.16h-5.17zM367.33 604.82h5.17v5.16h-5.17zM377.67 604.82h5.17v5.16h-5.17zM382.84 604.82h5.17v5.16h-5.17zM388.01 604.82h5.17v5.16h-5.17zM398.35 604.82h5.17v5.16h-5.17zM413.86 604.82h5.17v5.16h-5.17zM429.37 604.82h5.17v5.16h-5.17zM439.71 604.82h5.17v5.16h-5.17zM444.88 604.82h5.17v5.16h-5.17zM455.22 604.82h5.17v5.16h-5.17zM460.39 604.82h5.17v5.16h-5.17zM470.73 604.82h5.17v5.16h-5.17zM486.24 604.82h5.17v5.16h-5.17zM491.41 604.82h5.17v5.16h-5.17zM506.92 604.82h5.17v5.16h-5.17z"/>
<path fill="#c0187a" d="M279.44 542.90h5.17v5.16h-5.17zM289.78 542.90h5.17v5.16h-5.17zM320.80 542.90h5.17v5.16h-5.17zM341.48 542.90h5.17v5.16h-5.17zM475.90 542.90h5.17v5.16h-5.17zM491.41 542.90h5.17v5.16h-5.17zM481.07 548.06h5.17v5.16h-5.17zM496.58 558.38h5.17v5.16h-5.17zM331.14 563.54h5.17v5.16h-5.17zM475.90 563.54h5.17v5.16h-5.17zM481.07 563.54h5.17v5.16h-5.17zM496.58 568.70h5.17v5.16h-5.17zM279.44 573.86h5.17v5.16h-5.17zM289.78 573.86h5.17v5.16h-5.17zM320.80 573.86h5.17v5.16h-5.17zM341.48 573.86h5.17v5.16h-5.17zM475.90 573.86h5.17v5.16h-5.17zM496.58 579.02h5.17v5.16h-5.17zM320.80 584.18h5.17v5.16h-5.17zM341.48 584.18h5.17v5.16h-5.17zM331.14 594.50h5.17v5.16h-5.17zM393.18 594.50h5.17v5.16h-5.17zM501.75 594.50h5.17v5.16h-5.17zM289.78 604.82h5.17v5.16h-5.17zM320.80 604.82h5.17v5.16h-5.17zM393.18 604.82h5.17v5.16h-5.17zM475.90 604.82h5.17v5.16h-5.17z"/>
<path fill="#8a80d0" d="M305.29 542.90h5.17v5.16h-5.17zM336.31 542.90h5.17v5.16h-5.17zM419.03 542.90h5.17v5.16h-5.17zM424.20 542.90h5.17v5.16h-5.17zM377.67 548.06h5.17v5.16h-5.17zM398.35 548.06h5.17v5.16h-5.17zM429.37 548.06h5.17v5.16h-5.17zM486.24 548.06h5.17v5.16h-5.17zM274.27 553.22h5.17v5.16h-5.17zM284.61 553.22h5.17v5.16h-5.17zM356.99 553.22h5.17v5.16h-5.17zM413.86 558.38h5.17v5.16h-5.17zM382.84 563.54h5.17v5.16h-5.17zM429.37 563.54h5.17v5.16h-5.17zM305.29 573.86h5.17v5.16h-5.17zM310.46 573.86h5.17v5.16h-5.17zM408.69 573.86h5.17v5.16h-5.17zM284.61 579.02h5.17v5.16h-5.17zM377.67 579.02h5.17v5.16h-5.17zM413.86 579.02h5.17v5.16h-5.17zM444.88 579.02h5.17v5.16h-5.17zM455.22 579.02h5.17v5.16h-5.17zM310.46 584.18h5.17v5.16h-5.17zM403.52 584.18h5.17v5.16h-5.17zM419.03 584.18h5.17v5.16h-5.17zM279.44 589.34h5.17v5.16h-5.17zM289.78 589.34h5.17v5.16h-5.17zM320.80 589.34h5.17v5.16h-5.17zM439.71 589.34h5.17v5.16h-5.17zM460.39 589.34h5.17v5.16h-5.17zM398.35 594.50h5.17v5.16h-5.17zM429.37 594.50h5.17v5.16h-5.17zM470.73 594.50h5.17v5.16h-5.17zM289.78 599.66h5.17v5.16h-5.17zM320.80 599.66h5.17v5.16h-5.17zM341.48 599.66h5.17v5.16h-5.17zM305.29 604.82h5.17v5.16h-5.17zM403.52 604.82h5.17v5.16h-5.17zM408.69 604.82h5.17v5.16h-5.17zM424.20 604.82h5.17v5.16h-5.17z"/>
<path fill="#c8c4ee" d="M315.63 542.90h5.17v5.16h-5.17zM403.52 542.90h5.17v5.16h-5.17zM450.05 542.90h5.17v5.16h-5.17zM305.29 548.06h5.17v5.16h-5.17zM310.46 548.06h5.17v5.16h-5.17zM336.31 548.06h5.17v5.16h-5.17zM367.33 548.06h5.17v5.16h-5.17zM382.84 548.06h5.17v5.16h-5.17zM408.69 548.06h5.17v5.16h-5.17zM470.73 548.06h5.17v5.16h-5.17zM294.95 553.22h5.17v5.16h-5.17zM300.12 553.22h5.17v5.16h-5.17zM367.33 553.22h5.17v5.16h-5.17zM377.67 553.22h5.17v5.16h-5.17zM398.35 553.22h5.17v5.16h-5.17zM413.86 553.22h5.17v5.16h-5.17zM429.37 553.22h5.17v5.16h-5.17zM506.92 553.22h5.17v5.16h-5.17zM274.27 558.38h5.17v5.16h-5.17zM294.95 558.38h5.17v5.16h-5.17zM300.12 558.38h5.17v5.16h-5.17zM356.99 558.38h5.17v5.16h-5.17zM377.67 558.38h5.17v5.16h-5.17zM429.37 558.38h5.17v5.16h-5.17zM455.22 558.38h5.17v5.16h-5.17zM470.73 558.38h5.17v5.16h-5.17zM300.12 563.54h5.17v5.16h-5.17zM305.29 563.54h5.17v5.16h-5.17zM310.46 563.54h5.17v5.16h-5.17zM367.33 563.54h5.17v5.16h-5.17zM398.35 563.54h5.17v5.16h-5.17zM408.69 563.54h5.17v5.16h-5.17zM424.20 563.54h5.17v5.16h-5.17zM470.73 563.54h5.17v5.16h-5.17zM506.92 563.54h5.17v5.16h-5.17zM274.27 568.70h5.17v5.16h-5.17zM294.95 568.70h5.17v5.16h-5.17zM300.12 568.70h5.17v5.16h-5.17zM367.33 568.70h5.17v5.16h-5.17zM413.86 568.70h5.17v5.16h-5.17zM470.73 568.70h5.17v5.16h-5.17zM315.63 573.86h5.17v5.16h-5.17zM403.52 573.86h5.17v5.16h-5.17zM419.03 573.86h5.17v5.16h-5.17zM450.05 573.86h5.17v5.16h-5.17zM300.12 579.02h5.17v5.16h-5.17zM382.84 579.02h5.17v5.16h-5.17zM398.35 579.02h5.17v5.16h-5.17zM424.20 579.02h5.17v5.16h-5.17zM470.73 579.02h5.17v5.16h-5.17zM305.29 584.18h5.17v5.16h-5.17zM315.63 584.18h5.17v5.16h-5.17zM450.05 584.18h5.17v5.16h-5.17zM512.09 584.18h5.17v5.16h-5.17zM269.10 589.34h5.17v5.16h-5.17zM341.48 589.34h5.17v5.16h-5.17zM346.65 589.34h5.17v5.16h-5.17zM351.82 589.34h5.17v5.16h-5.17zM362.16 589.34h5.17v5.16h-5.17zM388.01 589.34h5.17v5.16h-5.17zM429.37 589.34h5.17v5.16h-5.17zM475.90 589.34h5.17v5.16h-5.17zM491.41 589.34h5.17v5.16h-5.17zM305.29 594.50h5.17v5.16h-5.17zM310.46 594.50h5.17v5.16h-5.17zM408.69 594.50h5.17v5.16h-5.17zM424.20 594.50h5.17v5.16h-5.17zM279.44 599.66h5.17v5.16h-5.17zM346.65 599.66h5.17v5.16h-5.17zM351.82 599.66h5.17v5.16h-5.17zM362.16 599.66h5.17v5.16h-5.17zM439.71 599.66h5.17v5.16h-5.17zM460.39 599.66h5.17v5.16h-5.17zM475.90 599.66h5.17v5.16h-5.17zM310.46 604.82h5.17v5.16h-5.17zM315.63 604.82h5.17v5.16h-5.17zM336.31 604.82h5.17v5.16h-5.17zM419.03 604.82h5.17v5.16h-5.17zM450.05 604.82h5.17v5.16h-5.17zM512.09 604.82h5.17v5.16h-5.17z"/>
<path fill="#f6f5ff" d="M325.97 542.90h5.17v5.16h-5.17zM372.50 542.90h5.17v5.16h-5.17zM434.54 542.90h5.17v5.16h-5.17zM465.56 542.90h5.17v5.16h-5.17zM315.63 548.06h5.17v5.16h-5.17zM325.97 548.06h5.17v5.16h-5.17zM372.50 548.06h5.17v5.16h-5.17zM403.52 548.06h5.17v5.16h-5.17zM419.03 548.06h5.17v5.16h-5.17zM424.20 548.06h5.17v5.16h-5.17zM434.54 548.06h5.17v5.16h-5.17zM450.05 548.06h5.17v5.16h-5.17zM465.56 548.06h5.17v5.16h-5.17zM512.09 548.06h5.17v5.16h-5.17zM305.29 553.22h5.17v5.16h-5.17zM310.46 553.22h5.17v5.16h-5.17zM315.63 553.22h5.17v5.16h-5.17zM325.97 553.22h5.17v5.16h-5.17zM336.31 553.22h5.17v5.16h-5.17zM372.50 553.22h5.17v5.16h-5.17zM382.84 553.22h5.17v5.16h-5.17zM403.52 553.22h5.17v5.16h-5.17zM408.69 553.22h5.17v5.16h-5.17zM419.03 553.22h5.17v5.16h-5.17zM424.20 553.22h5.17v5.16h-5.17zM434.54 553.22h5.17v5.16h-5.17zM444.88 553.22h5.17v5.16h-5.17zM450.05 553.22h5.17v5.16h-5.17zM465.56 553.22h5.17v5.16h-5.17zM470.73 553.22h5.17v5.16h-5.17zM486.24 553.22h5.17v5.16h-5.17zM512.09 553.22h5.17v5.16h-5.17zM284.61 558.38h5.17v5.16h-5.17zM305.29 558.38h5.17v5.16h-5.17zM310.46 558.38h5.17v5.16h-5.17zM315.63 558.38h5.17v5.16h-5.17zM325.97 558.38h5.17v5.16h-5.17zM336.31 558.38h5.17v5.16h-5.17zM367.33 558.38h5.17v5.16h-5.17zM372.50 558.38h5.17v5.16h-5.17zM382.84 558.38h5.17v5.16h-5.17zM398.35 558.38h5.17v5.16h-5.17zM403.52 558.38h5.17v5.16h-5.17zM408.69 558.38h5.17v5.16h-5.17zM419.03 558.38h5.17v5.16h-5.17zM424.20 558.38h5.17v5.16h-5.17zM434.54 558.38h5.17v5.16h-5.17zM444.88 558.38h5.17v5.16h-5.17zM450.05 558.38h5.17v5.16h-5.17zM465.56 558.38h5.17v5.16h-5.17zM486.24 558.38h5.17v5.16h-5.17zM506.92 558.38h5.17v5.16h-5.17zM512.09 558.38h5.17v5.16h-5.17zM315.63 563.54h5.17v5.16h-5.17zM325.97 563.54h5.17v5.16h-5.17zM336.31 563.54h5.17v5.16h-5.17zM372.50 563.54h5.17v5.16h-5.17zM403.52 563.54h5.17v5.16h-5.17zM419.03 563.54h5.17v5.16h-5.17zM434.54 563.54h5.17v5.16h-5.17zM450.05 563.54h5.17v5.16h-5.17zM465.56 563.54h5.17v5.16h-5.17zM512.09 563.54h5.17v5.16h-5.17zM284.61 568.70h5.17v5.16h-5.17zM305.29 568.70h5.17v5.16h-5.17zM310.46 568.70h5.17v5.16h-5.17zM315.63 568.70h5.17v5.16h-5.17zM325.97 568.70h5.17v5.16h-5.17zM336.31 568.70h5.17v5.16h-5.17zM372.50 568.70h5.17v5.16h-5.17zM377.67 568.70h5.17v5.16h-5.17zM382.84 568.70h5.17v5.16h-5.17zM398.35 568.70h5.17v5.16h-5.17zM403.52 568.70h5.17v5.16h-5.17zM408.69 568.70h5.17v5.16h-5.17zM419.03 568.70h5.17v5.16h-5.17zM424.20 568.70h5.17v5.16h-5.17zM429.37 568.70h5.17v5.16h-5.17zM434.54 568.70h5.17v5.16h-5.17zM444.88 568.70h5.17v5.16h-5.17zM450.05 568.70h5.17v5.16h-5.17zM465.56 568.70h5.17v5.16h-5.17zM486.24 568.70h5.17v5.16h-5.17zM506.92 568.70h5.17v5.16h-5.17zM512.09 568.70h5.17v5.16h-5.17zM325.97 573.86h5.17v5.16h-5.17zM372.50 573.86h5.17v5.16h-5.17zM434.54 573.86h5.17v5.16h-5.17zM465.56 573.86h5.17v5.16h-5.17zM305.29 579.02h5.17v5.16h-5.17zM310.46 579.02h5.17v5.16h-5.17zM315.63 579.02h5.17v5.16h-5.17zM325.97 579.02h5.17v5.16h-5.17zM336.31 579.02h5.17v5.16h-5.17zM372.50 579.02h5.17v5.16h-5.17zM403.52 579.02h5.17v5.16h-5.17zM408.69 579.02h5.17v5.16h-5.17zM419.03 579.02h5.17v5.16h-5.17zM434.54 579.02h5.17v5.16h-5.17zM450.05 579.02h5.17v5.16h-5.17zM465.56 579.02h5.17v5.16h-5.17zM512.09 579.02h5.17v5.16h-5.17zM325.97 584.18h5.17v5.16h-5.17zM372.50 584.18h5.17v5.16h-5.17zM434.54 584.18h5.17v5.16h-5.17zM465.56 584.18h5.17v5.16h-5.17zM274.27 589.34h5.17v5.16h-5.17zM284.61 589.34h5.17v5.16h-5.17zM294.95 589.34h5.17v5.16h-5.17zM300.12 589.34h5.17v5.16h-5.17zM305.29 589.34h5.17v5.16h-5.17zM310.46 589.34h5.17v5.16h-5.17zM315.63 589.34h5.17v5.16h-5.17zM325.97 589.34h5.17v5.16h-5.17zM336.31 589.34h5.17v5.16h-5.17zM356.99 589.34h5.17v5.16h-5.17zM367.33 589.34h5.17v5.16h-5.17zM372.50 589.34h5.17v5.16h-5.17zM377.67 589.34h5.17v5.16h-5.17zM382.84 589.34h5.17v5.16h-5.17zM398.35 589.34h5.17v5.16h-5.17zM403.52 589.34h5.17v5.16h-5.17zM408.69 589.34h5.17v5.16h-5.17zM413.86 589.34h5.17v5.16h-5.17zM419.03 589.34h5.17v5.16h-5.17zM424.20 589.34h5.17v5.16h-5.17zM434.54 589.34h5.17v5.16h-5.17zM444.88 589.34h5.17v5.16h-5.17zM450.05 589.34h5.17v5.16h-5.17zM455.22 589.34h5.17v5.16h-5.17zM465.56 589.34h5.17v5.16h-5.17zM470.73 589.34h5.17v5.16h-5.17zM486.24 589.34h5.17v5.16h-5.17zM506.92 589.34h5.17v5.16h-5.17zM512.09 589.34h5.17v5.16h-5.17zM315.63 594.50h5.17v5.16h-5.17zM325.97 594.50h5.17v5.16h-5.17zM336.31 594.50h5.17v5.16h-5.17zM372.50 594.50h5.17v5.16h-5.17zM403.52 594.50h5.17v5.16h-5.17zM419.03 594.50h5.17v5.16h-5.17zM434.54 594.50h5.17v5.16h-5.17zM450.05 594.50h5.17v5.16h-5.17zM465.56 594.50h5.17v5.16h-5.17zM512.09 594.50h5.17v5.16h-5.17zM269.10 599.66h5.17v5.16h-5.17zM274.27 599.66h5.17v5.16h-5.17zM284.61 599.66h5.17v5.16h-5.17zM294.95 599.66h5.17v5.16h-5.17zM300.12 599.66h5.17v5.16h-5.17zM305.29 599.66h5.17v5.16h-5.17zM310.46 599.66h5.17v5.16h-5.17zM315.63 599.66h5.17v5.16h-5.17zM325.97 599.66h5.17v5.16h-5.17zM336.31 599.66h5.17v5.16h-5.17zM356.99 599.66h5.17v5.16h-5.17zM367.33 599.66h5.17v5.16h-5.17zM372.50 599.66h5.17v5.16h-5.17zM377.67 599.66h5.17v5.16h-5.17zM382.84 599.66h5.17v5.16h-5.17zM388.01 599.66h5.17v5.16h-5.17zM398.35 599.66h5.17v5.16h-5.17zM403.52 599.66h5.17v5.16h-5.17zM408.69 599.66h5.17v5.16h-5.17zM413.86 599.66h5.17v5.16h-5.17zM419.03 599.66h5.17v5.16h-5.17zM424.20 599.66h5.17v5.16h-5.17zM429.37 599.66h5.17v5.16h-5.17zM434.54 599.66h5.17v5.16h-5.17zM444.88 599.66h5.17v5.16h-5.17zM450.05 599.66h5.17v5.16h-5.17zM455.22 599.66h5.17v5.16h-5.17zM465.56 599.66h5.17v5.16h-5.17zM470.73 599.66h5.17v5.16h-5.17zM486.24 599.66h5.17v5.16h-5.17zM491.41 599.66h5.17v5.16h-5.17zM506.92 599.66h5.17v5.16h-5.17zM512.09 599.66h5.17v5.16h-5.17zM325.97 604.82h5.17v5.16h-5.17zM372.50 604.82h5.17v5.16h-5.17zM434.54 604.82h5.17v5.16h-5.17zM465.56 604.82h5.17v5.16h-5.17z"/>
<path fill="#f0402a" d="M331.14 542.90h5.17v5.16h-5.17zM393.18 542.90h5.17v5.16h-5.17zM481.07 542.90h5.17v5.16h-5.17zM496.58 542.90h5.17v5.16h-5.17zM501.75 542.90h5.17v5.16h-5.17zM496.58 548.06h5.17v5.16h-5.17zM496.58 563.54h5.17v5.16h-5.17zM501.75 563.54h5.17v5.16h-5.17zM331.14 573.86h5.17v5.16h-5.17zM393.18 573.86h5.17v5.16h-5.17zM481.07 573.86h5.17v5.16h-5.17zM496.58 573.86h5.17v5.16h-5.17zM501.75 573.86h5.17v5.16h-5.17zM331.14 584.18h5.17v5.16h-5.17zM393.18 584.18h5.17v5.16h-5.17zM481.07 584.18h5.17v5.16h-5.17zM496.58 584.18h5.17v5.16h-5.17zM501.75 584.18h5.17v5.16h-5.17zM496.58 594.50h5.17v5.16h-5.17zM331.14 604.82h5.17v5.16h-5.17zM481.07 604.82h5.17v5.16h-5.17zM496.58 604.82h5.17v5.16h-5.17zM501.75 604.82h5.17v5.16h-5.17z"/>
<path d="M269.10 542.9v67.08M274.27 542.9v67.08M279.44 542.9v67.08M284.61 542.9v67.08M289.78 542.9v67.08M294.95 542.9v67.08M300.12 542.9v67.08M305.29 542.9v67.08M310.46 542.9v67.08M315.63 542.9v67.08M320.80 542.9v67.08M325.97 542.9v67.08M331.14 542.9v67.08M336.31 542.9v67.08M341.48 542.9v67.08M346.65 542.9v67.08M351.82 542.9v67.08M356.99 542.9v67.08M362.16 542.9v67.08M367.33 542.9v67.08M372.50 542.9v67.08M377.67 542.9v67.08M382.84 542.9v67.08M388.01 542.9v67.08M393.18 542.9v67.08M398.35 542.9v67.08M403.52 542.9v67.08M408.69 542.9v67.08M413.86 542.9v67.08M419.03 542.9v67.08M424.20 542.9v67.08M429.37 542.9v67.08M434.54 542.9v67.08M439.71 542.9v67.08M444.88 542.9v67.08M450.05 542.9v67.08M455.22 542.9v67.08M460.39 542.9v67.08M465.56 542.9v67.08M470.73 542.9v67.08M475.90 542.9v67.08M481.07 542.9v67.08M486.24 542.9v67.08M491.41 542.9v67.08M496.58 542.9v67.08M501.75 542.9v67.08M506.92 542.9v67.08M512.09 542.9v67.08M517.26 542.9v67.08M269.1 542.90h248.16M269.1 548.06h248.16M269.1 553.22h248.16M269.1 558.38h248.16M269.1 563.54h248.16M269.1 568.70h248.16M269.1 573.86h248.16M269.1 579.02h248.16M269.1 584.18h248.16M269.1 589.34h248.16M269.1 594.50h248.16M269.1 599.66h248.16M269.1 604.82h248.16M269.1 609.98h248.16" stroke="#2a1870" stroke-opacity="0.45" stroke-width="0.5" fill="none"/>
<circle cx="328.56" cy="545.48" r="2.45" fill="#f0e62a"/><circle cx="328.56" cy="545.48" r="1.25" fill="#aca032"/>
<circle cx="437.12" cy="545.48" r="2.45" fill="#f0e62a"/><circle cx="437.12" cy="545.48" r="1.25" fill="#aca032"/>
<circle cx="328.56" cy="550.64" r="2.45" fill="#f0e62a"/><circle cx="328.56" cy="550.64" r="1.25" fill="#aca032"/>
<circle cx="437.12" cy="550.64" r="2.45" fill="#f0e62a"/><circle cx="437.12" cy="550.64" r="1.25" fill="#aca032"/>
<circle cx="328.56" cy="555.80" r="2.45" fill="#f0e62a"/><circle cx="328.56" cy="555.80" r="1.25" fill="#aca032"/>
<circle cx="338.89" cy="555.80" r="2.45" fill="#f0e62a"/><circle cx="338.89" cy="555.80" r="1.25" fill="#aca032"/>
<circle cx="375.08" cy="555.80" r="2.45" fill="#f0e62a"/><circle cx="375.08" cy="555.80" r="1.25" fill="#aca032"/>
<circle cx="437.12" cy="555.80" r="2.45" fill="#f0e62a"/><circle cx="437.12" cy="555.80" r="1.25" fill="#aca032"/>
<circle cx="328.56" cy="560.96" r="2.45" fill="#f0e62a"/><circle cx="328.56" cy="560.96" r="1.25" fill="#aca032"/>
<circle cx="375.08" cy="560.96" r="2.45" fill="#f0e62a"/><circle cx="375.08" cy="560.96" r="1.25" fill="#aca032"/>
<circle cx="437.12" cy="560.96" r="2.45" fill="#f0e62a"/><circle cx="437.12" cy="560.96" r="1.25" fill="#aca032"/>
<circle cx="328.56" cy="566.12" r="2.45" fill="#f0e62a"/><circle cx="328.56" cy="566.12" r="1.25" fill="#aca032"/>
<circle cx="437.12" cy="566.12" r="2.45" fill="#f0e62a"/><circle cx="437.12" cy="566.12" r="1.25" fill="#aca032"/>
<circle cx="318.21" cy="571.28" r="2.45" fill="#f0e62a"/><circle cx="318.21" cy="571.28" r="1.25" fill="#aca032"/>
<circle cx="328.56" cy="571.28" r="2.45" fill="#f0e62a"/><circle cx="328.56" cy="571.28" r="1.25" fill="#aca032"/>
<circle cx="437.12" cy="571.28" r="2.45" fill="#f0e62a"/><circle cx="437.12" cy="571.28" r="1.25" fill="#aca032"/>
<circle cx="328.56" cy="576.44" r="2.45" fill="#f0e62a"/><circle cx="328.56" cy="576.44" r="1.25" fill="#aca032"/>
<circle cx="437.12" cy="576.44" r="2.45" fill="#f0e62a"/><circle cx="437.12" cy="576.44" r="1.25" fill="#aca032"/>
<circle cx="328.56" cy="581.60" r="2.45" fill="#f0e62a"/><circle cx="328.56" cy="581.60" r="1.25" fill="#aca032"/>
<circle cx="375.08" cy="581.60" r="2.45" fill="#f0e62a"/><circle cx="375.08" cy="581.60" r="1.25" fill="#aca032"/>
<circle cx="437.12" cy="581.60" r="2.45" fill="#f0e62a"/><circle cx="437.12" cy="581.60" r="1.25" fill="#aca032"/>
<circle cx="328.56" cy="586.76" r="2.45" fill="#f0e62a"/><circle cx="328.56" cy="586.76" r="1.25" fill="#aca032"/>
<circle cx="437.12" cy="586.76" r="2.45" fill="#f0e62a"/><circle cx="437.12" cy="586.76" r="1.25" fill="#aca032"/>
<circle cx="328.56" cy="591.92" r="2.45" fill="#f0e62a"/><circle cx="328.56" cy="591.92" r="1.25" fill="#aca032"/>
<circle cx="437.12" cy="591.92" r="2.45" fill="#f0e62a"/><circle cx="437.12" cy="591.92" r="1.25" fill="#aca032"/>
<circle cx="468.15" cy="591.92" r="2.45" fill="#f0e62a"/><circle cx="468.15" cy="591.92" r="1.25" fill="#aca032"/>
<circle cx="328.56" cy="597.08" r="2.45" fill="#f0e62a"/><circle cx="328.56" cy="597.08" r="1.25" fill="#aca032"/>
<circle cx="437.12" cy="597.08" r="2.45" fill="#f0e62a"/><circle cx="437.12" cy="597.08" r="1.25" fill="#aca032"/>
<circle cx="328.56" cy="602.24" r="2.45" fill="#f0e62a"/><circle cx="328.56" cy="602.24" r="1.25" fill="#aca032"/>
<circle cx="437.12" cy="602.24" r="2.45" fill="#f0e62a"/><circle cx="437.12" cy="602.24" r="1.25" fill="#aca032"/>
<circle cx="468.15" cy="602.24" r="2.45" fill="#f0e62a"/><circle cx="468.15" cy="602.24" r="1.25" fill="#aca032"/>
<circle cx="328.56" cy="607.40" r="2.45" fill="#f0e62a"/><circle cx="328.56" cy="607.40" r="1.25" fill="#aca032"/>
<circle cx="437.12" cy="607.40" r="2.45" fill="#f0e62a"/><circle cx="437.12" cy="607.40" r="1.25" fill="#aca032"/>
<text x="267.6" y="546.90" font-size="4" text-anchor="end" fill="#555">βJ1.1</text>
<text x="267.6" y="552.06" font-size="4" text-anchor="end" fill="#555">βJ1.2</text>
<text x="267.6" y="557.22" font-size="4" text-anchor="end" fill="#555">βJ1.3</text>
<text x="267.6" y="562.38" font-size="4" text-anchor="end" fill="#555">βJ1.4</text>
<text x="267.6" y="567.54" font-size="4" text-anchor="end" fill="#555">βJ1.5</text>
<text x="267.6" y="572.70" font-size="4" text-anchor="end" fill="#555">βJ1.6</text>
<text x="267.6" y="577.86" font-size="4" text-anchor="end" fill="#555">βJ2.1</text>
<text x="267.6" y="583.02" font-size="4" text-anchor="end" fill="#555">βJ2.2</text>
<text x="267.6" y="588.18" font-size="4" text-anchor="end" fill="#555">βJ2.3</text>
<text x="267.6" y="593.34" font-size="4" text-anchor="end" fill="#555">βJ2.4</text>
<text x="267.6" y="598.50" font-size="4" text-anchor="end" fill="#555">βJ2.5</text>
<text x="267.6" y="603.66" font-size="4" text-anchor="end" fill="#555">βJ2.6</text>
<text x="267.6" y="608.82" font-size="4" text-anchor="end" fill="#555">βJ2.7</text>
<g transform="translate(273.08,611.9) rotate(-90)"><text x="0" y="0" font-size="4.4" text-anchor="end" fill="#383838">βV2</text></g>
<g transform="translate(278.25,611.9) rotate(-90)"><text x="0" y="0" font-size="4.4" text-anchor="end" fill="#383838">βV3-1</text></g>
<g transform="translate(283.42,611.9) rotate(-90)"><text x="0" y="0" font-size="4.4" text-anchor="end" fill="#383838">βV4-1</text></g>
<g transform="translate(288.59,611.9) rotate(-90)"><text x="0" y="0" font-size="4.4" text-anchor="end" fill="#383838">βV4-2</text></g>
<g transform="translate(293.76,611.9) rotate(-90)"><text x="0" y="0" font-size="4.4" text-anchor="end" fill="#383838">βV4-3</text></g>
<g transform="translate(298.94,611.9) rotate(-90)"><text x="0" y="0" font-size="4.4" text-anchor="end" fill="#383838">βV5-1</text></g>
<g transform="translate(304.10,611.9) rotate(-90)"><text x="0" y="0" font-size="4.4" text-anchor="end" fill="#383838">βV5-4</text></g>
<g transform="translate(309.27,611.9) rotate(-90)"><text x="0" y="0" font-size="4.4" text-anchor="end" fill="#383838">βV5-5</text></g>
<g transform="translate(314.44,611.9) rotate(-90)"><text x="0" y="0" font-size="4.4" text-anchor="end" fill="#383838">βV5-6</text></g>
<g transform="translate(319.61,611.9) rotate(-90)"><text x="0" y="0" font-size="4.4" text-anchor="end" fill="#383838">βV5-8</text></g>
<g transform="translate(324.78,611.9) rotate(-90)"><text x="0" y="0" font-size="4.4" text-anchor="end" fill="#383838">βV6-1</text></g>
<g transform="translate(329.95,611.9) rotate(-90)"><text x="0" y="0" font-size="4.4" text-anchor="end" fill="#383838">βV6-2</text></g>
<g transform="translate(335.12,611.9) rotate(-90)"><text x="0" y="0" font-size="4.4" text-anchor="end" fill="#383838">βV6-4</text></g>
<g transform="translate(340.29,611.9) rotate(-90)"><text x="0" y="0" font-size="4.4" text-anchor="end" fill="#383838">βV6-5</text></g>
<g transform="translate(345.46,611.9) rotate(-90)"><text x="0" y="0" font-size="4.4" text-anchor="end" fill="#383838">βV6-6</text></g>
<g transform="translate(350.63,611.9) rotate(-90)"><text x="0" y="0" font-size="4.4" text-anchor="end" fill="#383838">βV6-8</text></g>
<g transform="translate(355.81,611.9) rotate(-90)"><text x="0" y="0" font-size="4.4" text-anchor="end" fill="#383838">βV6-9</text></g>
<g transform="translate(360.97,611.9) rotate(-90)"><text x="0" y="0" font-size="4.4" text-anchor="end" fill="#383838">βV7-2</text></g>
<g transform="translate(366.14,611.9) rotate(-90)"><text x="0" y="0" font-size="4.4" text-anchor="end" fill="#383838">βV7-3</text></g>
<g transform="translate(371.31,611.9) rotate(-90)"><text x="0" y="0" font-size="4.4" text-anchor="end" fill="#383838">βV7-4</text></g>
<g transform="translate(376.48,611.9) rotate(-90)"><text x="0" y="0" font-size="4.4" text-anchor="end" fill="#383838">βV7-6</text></g>
<g transform="translate(381.65,611.9) rotate(-90)"><text x="0" y="0" font-size="4.4" text-anchor="end" fill="#383838">βV7-7</text></g>
<g transform="translate(386.82,611.9) rotate(-90)"><text x="0" y="0" font-size="4.4" text-anchor="end" fill="#383838">βV7-8</text></g>
<g transform="translate(391.99,611.9) rotate(-90)"><text x="0" y="0" font-size="4.4" text-anchor="end" fill="#383838">βV7-9</text></g>
<g transform="translate(397.16,611.9) rotate(-90)"><text x="0" y="0" font-size="4.4" text-anchor="end" fill="#383838">βV9</text></g>
<g transform="translate(402.33,611.9) rotate(-90)"><text x="0" y="0" font-size="4.4" text-anchor="end" fill="#383838">βV10-1</text></g>
<g transform="translate(407.50,611.9) rotate(-90)"><text x="0" y="0" font-size="4.4" text-anchor="end" fill="#383838">βV10-2</text></g>
<g transform="translate(412.68,611.9) rotate(-90)"><text x="0" y="0" font-size="4.4" text-anchor="end" fill="#383838">βV10-3</text></g>
<g transform="translate(417.84,611.9) rotate(-90)"><text x="0" y="0" font-size="4.4" text-anchor="end" fill="#383838">βV11-1</text></g>
<g transform="translate(423.01,611.9) rotate(-90)"><text x="0" y="0" font-size="4.4" text-anchor="end" fill="#383838">βV11-2</text></g>
<g transform="translate(428.19,611.9) rotate(-90)"><text x="0" y="0" font-size="4.4" text-anchor="end" fill="#383838">βV11-3</text></g>
<g transform="translate(433.35,611.9) rotate(-90)"><text x="0" y="0" font-size="4.4" text-anchor="end" fill="#383838">βV12-3</text></g>
<g transform="translate(438.52,611.9) rotate(-90)"><text x="0" y="0" font-size="4.4" text-anchor="end" fill="#383838">βV12-4</text></g>
<g transform="translate(443.69,611.9) rotate(-90)"><text x="0" y="0" font-size="4.4" text-anchor="end" fill="#383838">βV12-5</text></g>
<g transform="translate(448.86,611.9) rotate(-90)"><text x="0" y="0" font-size="4.4" text-anchor="end" fill="#383838">βV13</text></g>
<g transform="translate(454.03,611.9) rotate(-90)"><text x="0" y="0" font-size="4.4" text-anchor="end" fill="#383838">βV14</text></g>
<g transform="translate(459.20,611.9) rotate(-90)"><text x="0" y="0" font-size="4.4" text-anchor="end" fill="#383838">βV15</text></g>
<g transform="translate(464.37,611.9) rotate(-90)"><text x="0" y="0" font-size="4.4" text-anchor="end" fill="#383838">βV16</text></g>
<g transform="translate(469.55,611.9) rotate(-90)"><text x="0" y="0" font-size="4.4" text-anchor="end" fill="#383838">βV18</text></g>
<g transform="translate(474.71,611.9) rotate(-90)"><text x="0" y="0" font-size="4.4" text-anchor="end" fill="#383838">βV19</text></g>
<g transform="translate(479.88,611.9) rotate(-90)"><text x="0" y="0" font-size="4.4" text-anchor="end" fill="#383838">βV20-1</text></g>
<g transform="translate(485.06,611.9) rotate(-90)"><text x="0" y="0" font-size="4.4" text-anchor="end" fill="#383838">βV24-1</text></g>
<g transform="translate(490.22,611.9) rotate(-90)"><text x="0" y="0" font-size="4.4" text-anchor="end" fill="#383838">βV25-1</text></g>
<g transform="translate(495.39,611.9) rotate(-90)"><text x="0" y="0" font-size="4.4" text-anchor="end" fill="#383838">βV27</text></g>
<g transform="translate(500.56,611.9) rotate(-90)"><text x="0" y="0" font-size="4.4" text-anchor="end" fill="#383838">βV28</text></g>
<g transform="translate(505.73,611.9) rotate(-90)"><text x="0" y="0" font-size="4.4" text-anchor="end" fill="#383838">βV29-1</text></g>
<g transform="translate(510.90,611.9) rotate(-90)"><text x="0" y="0" font-size="4.4" text-anchor="end" fill="#383838">βV30</text></g>
<g transform="translate(516.08,611.9) rotate(-90)"><text x="0" y="0" font-size="4.4" text-anchor="end" fill="#383838">βV31</text></g>
</svg>
</body></html>
